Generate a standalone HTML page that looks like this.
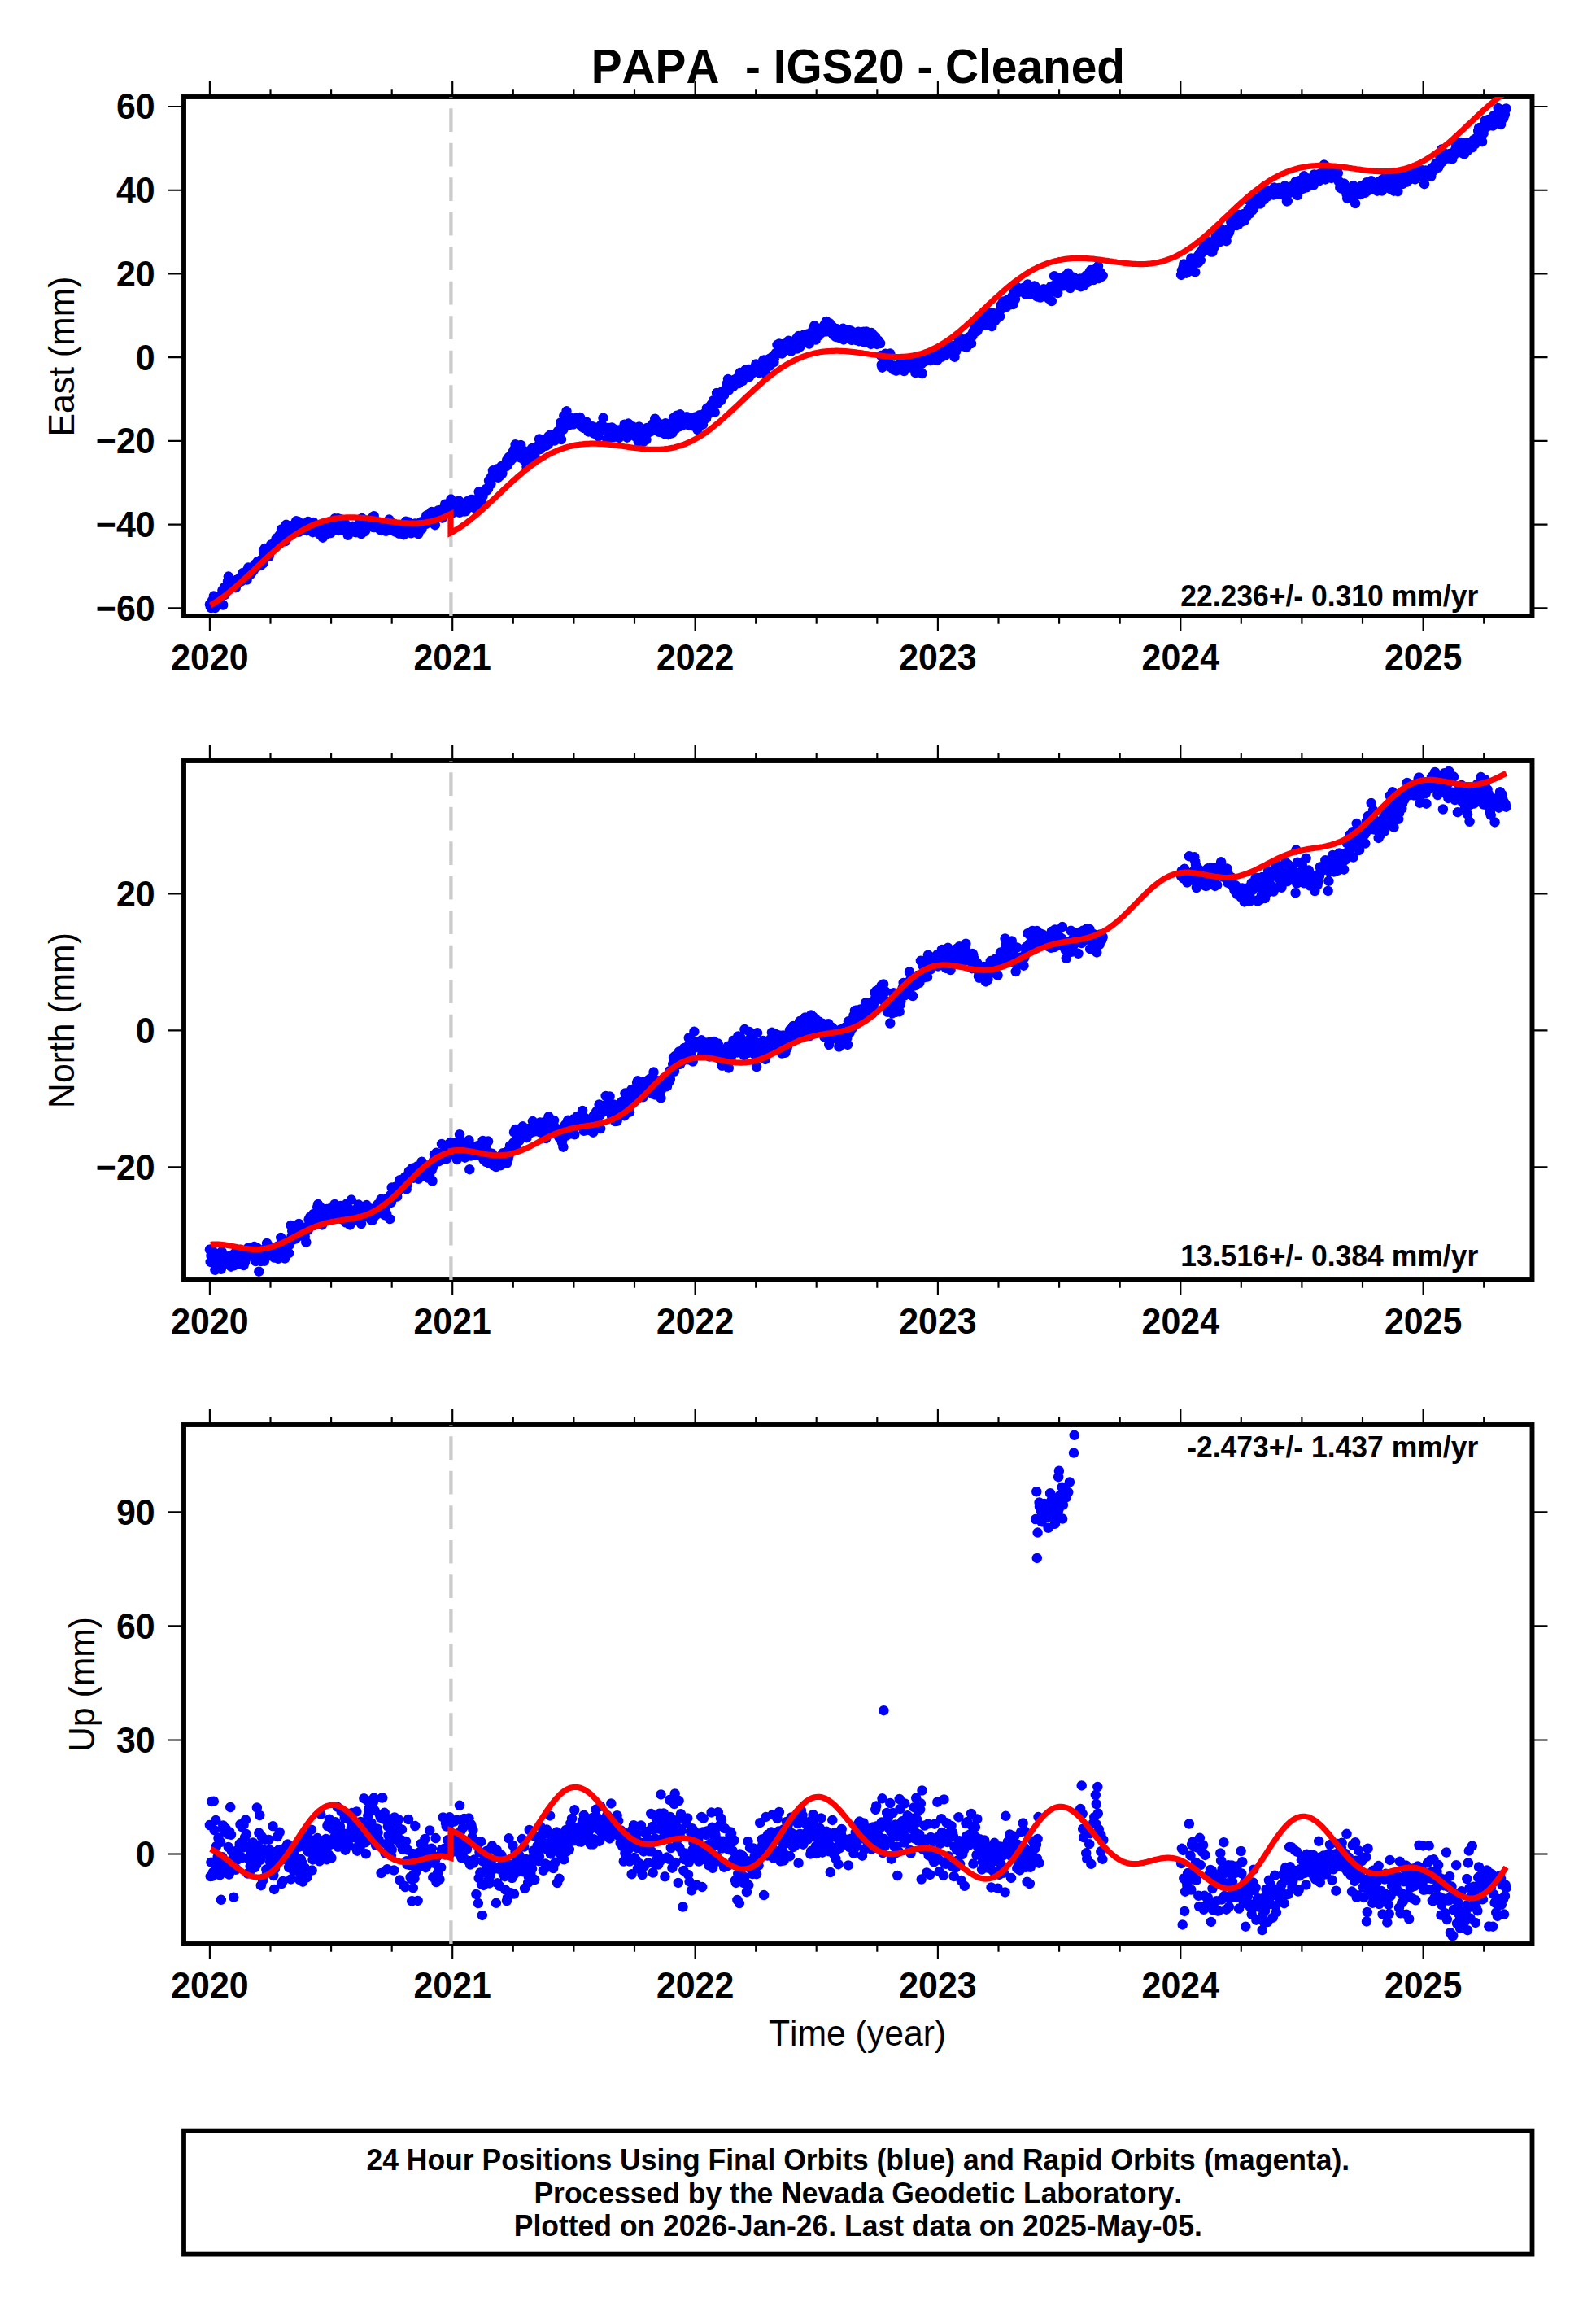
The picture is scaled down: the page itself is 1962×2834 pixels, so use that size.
<!DOCTYPE html>
<html lang="en"><head><meta charset="utf-8"><title>PAPA - IGS20 - Cleaned</title>
<style>html,body{margin:0;padding:0;background:#fff}svg{display:block}text{font-family:"Liberation Sans", sans-serif;fill:#000;font-kerning:none}.b{font-weight:bold}</style></head><body>
<svg width="1962" height="2834" viewBox="0 0 1962 2834">
<rect width="1962" height="2834" fill="#fff"/>
<clipPath id="c0"><rect x="226" y="119" width="1657.5" height="638"/></clipPath>
<rect x="226" y="119" width="1657.5" height="638" fill="none" stroke="#000" stroke-width="5.9"/>
<path d="M257.9 119v-19M257.9 757v19M332.5 119v-9.8M332.5 757v9.8M407.1 119v-9.8M407.1 757v9.8M481.7 119v-9.8M481.7 757v9.8M556.2 119v-19M556.2 757v19M630.8 119v-9.8M630.8 757v9.8M705.4 119v-9.8M705.4 757v9.8M780 119v-9.8M780 757v9.8M854.6 119v-19M854.6 757v19M929.2 119v-9.8M929.2 757v9.8M1003.7 119v-9.8M1003.7 757v9.8M1078.3 119v-9.8M1078.3 757v9.8M1152.9 119v-19M1152.9 757v19M1227.5 119v-9.8M1227.5 757v9.8M1302.1 119v-9.8M1302.1 757v9.8M1376.7 119v-9.8M1376.7 757v9.8M1451.3 119v-19M1451.3 757v19M1525.8 119v-9.8M1525.8 757v9.8M1600.4 119v-9.8M1600.4 757v9.8M1675 119v-9.8M1675 757v9.8M1749.6 119v-19M1749.6 757v19M1824.2 119v-9.8M1824.2 757v9.8M226 747.3h-19M1883.5 747.3h19M226 644.6h-19M1883.5 644.6h19M226 541.9h-19M1883.5 541.9h19M226 439.1h-19M1883.5 439.1h19M226 336.4h-19M1883.5 336.4h19M226 233.7h-19M1883.5 233.7h19M226 131h-19M1883.5 131h19" stroke="#000" stroke-width="2.15" fill="none"/>
<text class="b" font-size="42.9" text-anchor="middle" transform="translate(257.9 822.8) scale(1 1.045)">2020</text>
<text class="b" font-size="42.9" text-anchor="middle" transform="translate(556.2 822.8) scale(1 1.045)">2021</text>
<text class="b" font-size="42.9" text-anchor="middle" transform="translate(854.6 822.8) scale(1 1.045)">2022</text>
<text class="b" font-size="42.9" text-anchor="middle" transform="translate(1152.9 822.8) scale(1 1.045)">2023</text>
<text class="b" font-size="42.9" text-anchor="middle" transform="translate(1451.3 822.8) scale(1 1.045)">2024</text>
<text class="b" font-size="42.9" text-anchor="middle" transform="translate(1749.6 822.8) scale(1 1.045)">2025</text>
<text class="b" font-size="42.9" text-anchor="end" transform="translate(190.6 762.7) scale(1 1.045)">−60</text>
<text class="b" font-size="42.9" text-anchor="end" transform="translate(190.6 660) scale(1 1.045)">−40</text>
<text class="b" font-size="42.9" text-anchor="end" transform="translate(190.6 557.3) scale(1 1.045)">−20</text>
<text class="b" font-size="42.9" text-anchor="end" transform="translate(190.6 454.5) scale(1 1.045)">0</text>
<text class="b" font-size="42.9" text-anchor="end" transform="translate(190.6 351.8) scale(1 1.045)">20</text>
<text class="b" font-size="42.9" text-anchor="end" transform="translate(190.6 249.1) scale(1 1.045)">40</text>
<text class="b" font-size="42.9" text-anchor="end" transform="translate(190.6 146.4) scale(1 1.045)">60</text>
<text font-size="42.7" text-anchor="middle" transform="translate(90.5 438) rotate(-90) scale(1 1.04)">East (mm)</text>
<g clip-path="url(#c0)">
<path d="M554.4 757 V119" stroke="#cbcbcb" stroke-width="4.3" stroke-dasharray="28.8 13.7" fill="none"/>
<path d="M257.9 742.7h0M258.7 745.5h0M259.5 747h0M260.4 745.2h0M261.2 738h0M262 742.2h0M262.8 732.6h0M263.6 741.8h0M264.4 747h0M265.3 737.7h0M266.1 738.5h0M266.9 736.1h0M267.7 738.9h0M268.5 733.3h0M269.3 736.4h0M270.2 732.7h0M271 732.3h0M271.8 733.3h0M272.6 732h0M273.4 725.6h0M274.2 743.5h0M275.1 728.8h0M275.9 721.9h0M276.7 730.9h0M277.5 724.4h0M278.3 724.1h0M279.1 725.2h0M280 714.5h0M280.8 708.6h0M281.6 719.1h0M282.4 722.5h0M283.2 723.2h0M284 715.6h0M284.9 717.5h0M285.7 720.3h0M286.5 716.9h0M287.3 717.2h0M288.1 719.6h0M288.9 714.1h0M289.8 722.2h0M290.6 712.8h0M291.4 715.9h0M292.2 715h0M293 711.7h0M293.8 715h0M294.7 715.4h0M295.5 714.9h0M296.3 714.6h0M297.1 707.9h0M297.9 711.5h0M298.7 704h0M299.6 709.7h0M300.4 711.4h0M301.2 711.2h0M302 704.8h0M303.6 712.6h0M304.5 704.2h0M305.3 697.4h0M306.1 698.4h0M307.7 706.2h0M308.5 700.5h0M309.4 704h0M310.2 699.9h0M311 699.1h0M311.8 700.8h0M312.6 694.8h0M313.4 696.9h0M314.3 693h0M315.1 692.3h0M315.9 696.7h0M316.7 690.1h0M317.5 693h0M318.3 690h0M319.2 693.2h0M320 688.8h0M320.8 694.6h0M321.6 690.1h0M322.4 688.9h0M323.2 692.6h0M324.1 676.1h0M324.9 680.3h0M325.7 673.9h0M326.5 684.1h0M327.3 683h0M328.1 682.4h0M329 678.7h0M329.8 673.8h0M330.6 684h0M331.4 679.5h0M332.2 674.4h0M333 669.6h0M333.9 675h0M334.7 672.1h0M335.5 671.4h0M336.3 671.8h0M337.1 671h0M337.9 666h0M338.8 672.3h0M339.6 662.2h0M340.4 661.1h0M341.2 665.4h0M342 663.5h0M342.8 661.9h0M343.7 657.7h0M344.5 657.9h0M345.3 655.8h0M346.1 650.5h0M346.9 656.8h0M347.7 650.7h0M348.6 653h0M349.4 657.4h0M350.2 653.5h0M351 665.2h0M351.8 644.8h0M352.7 648.4h0M353.5 653.7h0M354.3 657.1h0M355.1 650.3h0M355.9 646.2h0M356.7 654.6h0M357.6 646.5h0M358.4 648.7h0M359.2 652.7h0M360 647.9h0M360.8 648.5h0M362.5 649.4h0M363.3 651.2h0M364.1 640.3h0M364.9 646h0M365.7 643.3h0M366.5 641h0M367.4 653.8h0M368.2 649.5h0M369 652.4h0M369.8 646h0M370.6 650.2h0M371.4 649h0M372.3 643.6h0M373.1 649.9h0M373.9 644.6h0M374.7 645.3h0M376.3 649.3h0M377.2 652.2h0M378 647.4h0M378.8 641h0M379.6 642.7h0M380.4 649.8h0M381.2 645.6h0M382.1 648.4h0M382.9 647.4h0M383.7 642.3h0M384.5 654.2h0M385.3 642h0M386.1 652.9h0M387 652.6h0M387.8 645.8h0M388.6 653.1h0M389.4 654h0M390.2 652.6h0M391 649.6h0M391.9 654.2h0M392.7 656.6h0M393.5 651.6h0M394.3 656.9h0M395.1 653h0M395.9 652.8h0M396.8 660.7h0M397.6 647.8h0M398.4 649.1h0M399.2 653.2h0M400 655.8h0M400.8 657.1h0M401.7 655h0M402.5 650.9h0M403.3 650.2h0M404.1 648.5h0M404.9 647.8h0M405.7 647.7h0M406.6 655h0M407.4 646.6h0M408.2 645.9h0M409 646.8h0M409.8 644h0M410.6 644.3h0M411.5 637.3h0M412.3 645.9h0M413.1 642.3h0M413.9 643.2h0M414.7 645.2h0M415.5 637.2h0M416.4 652h0M417.2 644.2h0M418 643.2h0M418.8 638.2h0M419.6 645.9h0M420.4 646h0M421.3 644.1h0M422.1 645.3h0M422.9 649.8h0M423.7 644.2h0M424.5 643.8h0M425.3 652.5h0M426.2 649.7h0M427 648.3h0M427.8 657.8h0M428.6 649.8h0M429.4 649.3h0M430.2 650h0M431.1 648.4h0M431.9 650.3h0M433.5 646.7h0M434.3 649.9h0M435.1 653h0M436 652.7h0M436.8 654.1h0M437.6 654.3h0M438.4 652.3h0M439.2 653.4h0M440 647.9h0M440.9 648.4h0M441.7 652h0M442.5 640.1h0M443.3 647.3h0M444.1 656.2h0M444.9 637h0M445.8 650.4h0M446.6 640.1h0M447.4 647.7h0M448.2 653.3h0M449 652.3h0M449.9 641.4h0M450.7 640.1h0M451.5 639.9h0M452.3 647.3h0M453.1 643.4h0M453.9 645.3h0M454.8 646.5h0M455.6 644.2h0M456.4 644.4h0M457.2 642.7h0M458 635.9h0M458.8 648.1h0M459.7 634.2h0M460.5 648.1h0M461.3 641.8h0M462.1 643.2h0M462.9 642.9h0M463.7 644h0M464.6 644.4h0M465.4 643.9h0M466.2 642.8h0M467 650.5h0M467.8 644.4h0M468.6 651.9h0M469.5 647.5h0M470.3 645.5h0M471.1 649h0M471.9 652h0M472.7 643.9h0M473.5 646.6h0M474.4 652.8h0M475.2 642.7h0M476 644.5h0M476.8 648.6h0M477.6 642.4h0M478.4 638.6h0M479.3 641.3h0M480.1 647.1h0M480.9 650.9h0M481.7 648.4h0M482.5 650.5h0M483.3 643.2h0M484.2 650.5h0M485 653.1h0M485.8 646.3h0M486.6 653.8h0M487.4 647.8h0M488.2 651.8h0M489.1 653.1h0M489.9 645.4h0M490.7 655.8h0M491.5 649.1h0M492.3 652.3h0M493.1 650.7h0M494 654.8h0M494.8 654.4h0M495.6 653h0M496.4 657.2h0M497.2 653h0M498 648.7h0M498.9 640.8h0M499.7 649.6h0M500.5 647.9h0M501.3 645.5h0M502.1 641.6h0M502.9 650.6h0M503.8 651.1h0M504.6 654.7h0M505.4 655.3h0M506.2 646.9h0M507 650.5h0M507.8 644h0M508.7 651.6h0M509.5 650h0M510.3 643.4h0M511.1 645.3h0M511.9 644.3h0M512.7 644h0M513.6 655.7h0M514.4 656h0M515.2 649.8h0M516 649.1h0M516.8 644.2h0M517.6 641.6h0M518.5 650.2h0M519.3 641h0M520.1 643.2h0M520.9 639.8h0M521.7 642h0M522.5 641.5h0M523.4 644.2h0M524.2 633.7h0M525 637.1h0M525.8 641h0M526.6 632.4h0M527.4 633.2h0M528.3 642.2h0M529.1 639h0M529.9 641.7h0M530.7 629h0M531.5 637.9h0M532.3 631.5h0M533.2 631.7h0M534 638.2h0M534.8 645.2h0M535.6 630.6h0M536.4 631.5h0M537.2 632.6h0M538.1 632.8h0M538.9 627.2h0M540.5 630h0M541.3 627.1h0M542.2 626.6h0M543 636.4h0M543.8 636.5h0M544.6 626.3h0M545.4 629.1h0M546.2 629.4h0M547.1 619.7h0M547.9 622h0M548.7 630.2h0M549.5 623.8h0M550.3 625.3h0M551.1 619.9h0M552 619.2h0M552.8 625.3h0M553.6 619.9h0M554.4 613.6h0M555.2 621.6h0M556 630.7h0M556.9 623.5h0M558.5 623.8h0M559.3 627.4h0M560.1 625.4h0M560.9 617.7h0M561.8 626h0M562.6 624.2h0M563.4 629h0M564.2 615.6h0M565 629.8h0M565.8 623.2h0M566.7 620.2h0M568.3 624.7h0M569.1 627.9h0M569.9 624.9h0M570.7 628.5h0M571.6 628.3h0M572.4 628.3h0M573.2 627.1h0M574 616.9h0M574.8 615.9h0M575.6 622.6h0M576.5 619.7h0M577.3 622.2h0M578.1 621.1h0M578.9 614.1h0M579.7 615.4h0M580.5 614h0M581.4 614.8h0M582.2 618.2h0M583 624.1h0M583.8 623.2h0M584.6 614.2h0M585.4 614.2h0M586.3 621.9h0M587.1 618.5h0M587.9 614.5h0M588.7 604.3h0M589.5 608.4h0M590.3 612.6h0M591.2 608.5h0M592 616.2h0M592.8 609.3h0M593.6 609.6h0M594.4 604.2h0M595.2 603.4h0M596.1 603.1h0M596.9 601.3h0M597.7 601h0M598.5 602.7h0M599.3 600.8h0M600.1 600.7h0M601 590.6h0M601.8 593.6h0M602.6 592.5h0M603.4 595h0M604.2 585.8h0M605 586.8h0M605.9 578.3h0M606.7 584.3h0M608.3 582.2h0M609.1 580.7h0M609.9 583.3h0M610.8 584h0M611.6 576.3h0M612.4 586.8h0M613.2 576.4h0M614 585.3h0M614.8 583.4h0M615.7 574.8h0M616.5 572.9h0M617.3 582h0M618.1 574.2h0M618.9 574.2h0M621.4 571h0M622.2 573.3h0M623 565.7h0M623.8 572h0M624.6 568.2h0M625.5 561.8h0M626.3 567.8h0M627.1 562.2h0M627.9 566h0M628.7 561.7h0M629.5 564.2h0M630.4 555.6h0M631.2 562.6h0M632 552.7h0M632.8 558.2h0M633.6 546.3h0M634.4 557.1h0M635.3 559.8h0M636.1 558.1h0M636.9 559.5h0M637.7 548h0M638.5 559.6h0M639.4 562.4h0M640.2 546.9h0M641 555.3h0M641.8 557.8h0M642.6 559.2h0M643.4 561.9h0M644.3 554.2h0M645.1 566.6h0M645.9 564.2h0M646.7 558.5h0M647.5 573.7h0M648.3 564.2h0M649.2 569.8h0M650 565.4h0M650.8 562.3h0M651.6 566.5h0M652.4 562.3h0M653.2 556.6h0M654.1 550.9h0M654.9 554.6h0M655.7 557.1h0M656.5 554.4h0M657.3 560.4h0M658.1 555.7h0M659 553.1h0M659.8 552.9h0M660.6 548.6h0M661.4 550.9h0M662.2 547.7h0M663 539.6h0M663.9 542.4h0M664.7 551.9h0M665.5 546.5h0M666.3 547.4h0M667.1 540.7h0M667.9 542.5h0M668.8 546.4h0M669.6 543.8h0M670.4 541.4h0M671.2 547.8h0M672 542.2h0M672.8 541.3h0M673.7 546.4h0M674.5 536.1h0M675.3 543.6h0M676.1 536.7h0M676.9 534.2h0M677.7 537.3h0M678.6 540.4h0M679.4 538.4h0M680.2 539.8h0M681 538.9h0M681.8 541.6h0M682.6 540.7h0M683.5 536.8h0M684.3 537.2h0M685.1 533h0M685.9 529.9h0M686.7 533.5h0M687.5 529.7h0M688.4 531.2h0M689.2 519.5h0M690 540.1h0M690.8 521h0M691.6 524.8h0M692.4 527.8h0M693.3 511.1h0M694.1 518.4h0M694.9 511.2h0M695.7 513.5h0M696.5 505.3h0M697.3 519.5h0M698.2 520.8h0M699 516.7h0M699.8 521.7h0M700.6 522h0M701.4 515.2h0M702.2 513.7h0M703.1 514.3h0M703.9 514.4h0M704.7 521.5h0M706.3 514.3h0M707.1 515.2h0M708 517.1h0M708.8 513.4h0M709.6 516.8h0M710.4 514.7h0M711.2 520.3h0M712 520.7h0M712.9 512.9h0M713.7 519.1h0M714.5 523.5h0M715.3 520.8h0M716.1 525h0M716.9 525.1h0M717.8 526h0M718.6 523.9h0M719.4 525.4h0M720.2 526.5h0M721 518.7h0M721.8 520.9h0M723.5 530.6h0M724.3 527.4h0M725.1 527.7h0M725.9 528.4h0M726.7 526.1h0M727.6 524.2h0M728.4 529.9h0M729.2 524.6h0M730 532.7h0M730.8 526.6h0M731.7 527.7h0M732.5 527.2h0M733.3 525.8h0M734.1 527.1h0M734.9 534.2h0M735.7 536.4h0M737.4 527.8h0M738.2 529.9h0M739 522.4h0M739.8 524.1h0M740.6 523.1h0M741.5 513.7h0M742.3 525.9h0M743.1 526h0M743.9 525.4h0M744.7 527.1h0M745.5 527.9h0M746.4 540.4h0M747.2 529h0M748 532.2h0M748.8 525.9h0M749.6 531.2h0M750.4 527.5h0M751.3 526.7h0M752.1 525.5h0M752.9 527.6h0M753.7 531.1h0M754.5 537h0M755.3 532.4h0M756.2 527.8h0M757 532.7h0M758.6 534.8h0M759.4 532.3h0M760.2 534.2h0M761.1 537.9h0M761.9 528.3h0M762.7 533.3h0M763.5 529.1h0M764.3 531.5h0M765.1 528h0M766 529.5h0M766.8 533.5h0M767.6 521.7h0M768.4 526.3h0M769.2 526.3h0M770 528.6h0M770.9 537.7h0M771.7 527.1h0M772.5 520.6h0M773.3 526.2h0M774.1 523.1h0M774.9 527.9h0M775.8 530.9h0M776.6 527.2h0M777.4 526.1h0M778.2 524.6h0M779 533h0M779.8 529.9h0M780.7 536.4h0M781.5 536.7h0M782.3 530.3h0M783.1 534.7h0M783.9 536.3h0M784.7 542.4h0M785.6 524.5h0M786.4 535.6h0M787.2 541.3h0M788 533.4h0M788.8 535h0M789.6 537.1h0M790.5 533.4h0M791.3 542.7h0M792.1 541.4h0M792.9 538.4h0M793.7 536.5h0M794.5 540.3h0M795.4 526h0M796.2 532.4h0M797 528.6h0M797.8 528.8h0M798.6 525.7h0M799.4 525.4h0M800.3 530.2h0M801.1 524.4h0M801.9 523.1h0M802.7 520.9h0M803.5 523.1h0M804.3 522h0M805.2 514.7h0M806 520.8h0M806.8 523.2h0M807.6 526.5h0M808.4 529.6h0M809.2 519.8h0M810.1 530.8h0M810.9 524.4h0M811.7 527.2h0M812.5 522.9h0M813.3 524.7h0M814.1 531.7h0M815 523.6h0M815.8 525.9h0M816.6 531.9h0M817.4 533.3h0M818.2 520.2h0M819 524.7h0M819.9 524.4h0M820.7 530.6h0M821.5 534.2h0M822.3 524.9h0M823.1 526.2h0M823.9 527.9h0M824.8 528.4h0M826.4 532.2h0M827.2 521.4h0M828 513.7h0M828.9 520.2h0M829.7 525.8h0M830.5 527h0M831.3 517.1h0M832.1 510.7h0M832.9 522.7h0M833.8 510.4h0M834.6 523.5h0M835.4 524.2h0M836.2 509.3h0M837 522.5h0M837.8 517.8h0M838.7 522.9h0M839.5 517.8h0M840.3 516.8h0M841.1 517.1h0M841.9 519.3h0M842.7 518.2h0M843.6 516.7h0M844.4 512.3h0M845.2 520.2h0M846 517.7h0M846.8 522.5h0M847.6 515.7h0M848.5 515.6h0M849.3 514.1h0M850.1 518.6h0M850.9 515.9h0M851.7 515h0M852.5 522.1h0M853.4 523.8h0M854.2 515.4h0M855 512.4h0M855.8 519.7h0M856.6 514h0M857.4 528.1h0M858.3 515h0M859.1 519h0M859.9 510.3h0M860.7 514.6h0M861.5 518.1h0M862.3 514.3h0M863.2 511.5h0M864 521.7h0M864.8 515.1h0M865.6 511h0M866.4 508h0M867.2 508.9h0M868.1 514.2h0M868.9 501.8h0M869.7 505.5h0M870.5 500.9h0M871.3 508.5h0M872.1 502.2h0M873 505.1h0M873.8 502.5h0M874.6 496.9h0M875.4 504.4h0M876.2 498.9h0M877 492.2h0M877.9 497.5h0M878.7 506.7h0M879.5 493.2h0M880.3 496.1h0M881.1 482.9h0M881.9 496h0M882.8 487.2h0M883.6 491.7h0M884.4 489.2h0M885.2 483.4h0M886 492.4h0M886.8 485.6h0M887.7 481.2h0M888.5 485h0M889.3 480.5h0M890.1 485.4h0M890.9 482.2h0M891.7 478.4h0M892.6 480.7h0M893.4 471.9h0M894.2 478.8h0M895 466h0M895.8 479.5h0M896.6 473.2h0M897.5 469.3h0M898.3 469.8h0M899.1 473.2h0M899.9 469h0M900.7 469.7h0M901.5 474.8h0M902.4 467.6h0M903.2 466.4h0M904 467.4h0M904.8 470.5h0M905.6 465.1h0M906.4 466.3h0M907.3 464h0M908.1 471.2h0M908.9 468h0M909.7 458.1h0M910.5 459.2h0M911.3 461.2h0M912.2 464.6h0M913 468h0M913.8 461.6h0M914.6 462.7h0M915.4 463.6h0M916.2 454.8h0M917.1 455h0M917.9 454.8h0M918.7 455.7h0M919.5 456.2h0M920.3 454h0M921.2 463h0M922 454h0M922.8 454.7h0M923.6 460h0M924.4 458.5h0M925.2 456.5h0M926.1 456.8h0M926.9 455.5h0M927.7 452.6h0M928.5 456.5h0M929.3 447.6h0M930.1 454.1h0M931 448.4h0M931.8 451.3h0M932.6 450.4h0M933.4 458.4h0M934.2 449.9h0M935 453.6h0M935.9 447.6h0M936.7 448.5h0M937.5 447.8h0M938.3 442.8h0M939.1 456.6h0M939.9 442.5h0M940.8 450.7h0M941.6 459.9h0M942.4 446.1h0M943.2 449.2h0M944 444h0M944.8 448.4h0M945.7 441.1h0M946.5 449.7h0M947.3 445.9h0M948.1 439.7h0M948.9 440.8h0M949.7 438.5h0M950.6 440.9h0M951.4 445.2h0M952.2 439.2h0M953.8 433.9h0M954.6 435h0M955.5 423.8h0M956.3 434.6h0M957.1 432.5h0M957.9 422.4h0M958.7 434h0M959.5 423.2h0M960.4 428.6h0M961.2 434.6h0M962 424.2h0M962.8 422.9h0M963.6 424.9h0M964.4 424.4h0M965.3 428.4h0M966.1 425.7h0M967.7 425h0M968.5 425.8h0M969.3 418.8h0M970.2 428.3h0M971 425.6h0M971.8 421.4h0M972.6 431.7h0M973.4 419.9h0M974.2 427.2h0M975.1 421.3h0M975.9 425.6h0M976.7 424h0M977.5 424.6h0M978.3 425h0M979.1 416.2h0M980 428.5h0M980.8 418h0M981.6 413.1h0M983.2 426.3h0M984 423.5h0M984.9 418.2h0M985.7 419.6h0M986.5 419.3h0M987.3 414h0M988.1 411.6h0M988.9 414h0M989.8 419h0M990.6 414.1h0M991.4 411.4h0M992.2 419.7h0M993 410.4h0M993.8 413.6h0M994.7 422.7h0M995.5 418h0M996.3 416.6h0M997.1 415.4h0M997.9 416.8h0M998.7 412.5h0M999.6 404.6h0M1000.4 412.7h0M1001.2 400.3h0M1002 402.8h0M1002.8 417.5h0M1003.6 414.2h0M1004.5 409.2h0M1005.3 408.9h0M1006.1 409.8h0M1006.9 412.3h0M1007.7 405.6h0M1008.5 404.5h0M1009.4 403.4h0M1010.2 405.4h0M1011 406.3h0M1011.8 404.7h0M1012.6 407.8h0M1013.4 399.3h0M1014.3 402.4h0M1015.1 400.4h0M1015.9 394.9h0M1016.7 407.2h0M1017.5 402.6h0M1018.4 401.3h0M1019.2 406.2h0M1020 397.3h0M1020.8 407.7h0M1021.6 408.7h0M1022.4 408.1h0M1023.3 401.4h0M1024.1 405h0M1024.9 412.2h0M1025.7 405.9h0M1026.5 412.2h0M1027.3 413.9h0M1028.2 404h0M1029 414.1h0M1029.8 410.9h0M1030.6 410.9h0M1031.4 414.9h0M1032.2 409.5h0M1033.1 408.1h0M1033.9 410.5h0M1034.7 408.3h0M1035.5 415.1h0M1036.3 403.8h0M1037.1 417.4h0M1038 409.5h0M1038.8 413.7h0M1040.4 412.7h0M1041.2 412.8h0M1042 411.6h0M1042.9 406.1h0M1043.7 409.7h0M1044.5 416.5h0M1045.3 406.6h0M1046.1 406.6h0M1046.9 417.9h0M1047.8 413.9h0M1048.6 413.8h0M1049.4 410.6h0M1050.2 411.9h0M1051 414.4h0M1051.8 417.9h0M1052.7 412.8h0M1053.5 408.5h0M1054.3 410.2h0M1055.1 407.8h0M1055.9 419.2h0M1056.7 412.5h0M1057.6 413.7h0M1058.4 414.3h0M1059.2 411.8h0M1060 413.3h0M1060.8 410.2h0M1061.6 407.7h0M1062.5 420.7h0M1064.1 408.7h0M1064.9 407.6h0M1065.7 409h0M1066.5 411.2h0M1067.4 415h0M1068.2 408.8h0M1069 413.3h0M1069.8 409.5h0M1070.6 422.9h0M1071.4 409.1h0M1072.3 414.7h0M1073.1 419.8h0M1073.9 412.2h0M1074.7 418.2h0M1075.5 417.7h0M1076.3 414.3h0M1077.2 417.4h0M1078 422.9h0M1078.8 420.3h0M1079.6 418.5h0M1080.4 419.6h0M1081.2 420.6h0M1082.1 422h0M1082.9 436.9h0M1083.7 448.4h0M1084.5 451.7h0M1085.3 438.6h0M1086.1 438.2h0M1087 436.8h0M1087.8 446h0M1088.6 434.7h0M1089.4 444.4h0M1090.2 447.9h0M1091 441h0M1091.9 443.9h0M1092.7 446.8h0M1093.5 450.7h0M1094.3 434.6h0M1095.1 448.6h0M1095.9 451.6h0M1096.8 449.6h0M1097.6 450.8h0M1098.4 454.4h0M1099.2 449.5h0M1100 450.2h0M1100.8 450.6h0M1101.7 455.7h0M1102.5 451.6h0M1104.1 450.7h0M1104.9 454.5h0M1105.7 447.8h0M1106.6 451.3h0M1107.4 450.7h0M1108.2 451h0M1109 453.6h0M1109.8 450.8h0M1110.7 452.5h0M1111.5 456.1h0M1112.3 452.4h0M1113.1 445.4h0M1113.9 444h0M1114.7 450.9h0M1115.6 447.3h0M1116.4 450.7h0M1117.2 445.6h0M1118 451.5h0M1118.8 450.7h0M1119.6 442.8h0M1120.5 447.5h0M1121.3 445h0M1122.1 441.2h0M1122.9 448.1h0M1123.7 443.8h0M1124.5 444.6h0M1125.4 458.2h0M1126.2 447.7h0M1127 446.4h0M1127.8 441.3h0M1128.6 438.6h0M1129.4 447.8h0M1130.3 442.5h0M1131.1 444.8h0M1131.9 443.2h0M1132.7 447.4h0M1133.5 459h0M1134.3 444h0M1135.2 443.3h0M1136 444.2h0M1136.8 444.4h0M1137.6 440h0M1138.4 436.7h0M1139.2 440.1h0M1140.1 441.9h0M1140.9 439.9h0M1141.7 440.7h0M1142.5 441.3h0M1143.3 442.9h0M1144.1 442.9h0M1145 437h0M1145.8 440.2h0M1146.6 441.7h0M1147.4 438.9h0M1149 437.6h0M1149.9 438.1h0M1150.7 442.4h0M1151.5 433.8h0M1152.3 442.7h0M1153.1 437.4h0M1153.9 438.4h0M1154.8 439.5h0M1155.6 433.6h0M1156.4 433.1h0M1157.2 435h0M1158 438.7h0M1158.8 433.8h0M1159.7 429.1h0M1160.5 427.8h0M1161.3 434h0M1162.1 436.7h0M1162.9 429.1h0M1163.7 429.4h0M1164.6 430.4h0M1165.4 430.2h0M1166.2 426.1h0M1167 427.1h0M1167.8 429.4h0M1169.5 429.3h0M1170.3 424.9h0M1171.9 425.2h0M1172.7 431.4h0M1173.5 438.8h0M1174.4 428.4h0M1175.2 431.4h0M1176 423.7h0M1176.8 423.5h0M1177.6 414.5h0M1178.4 426.2h0M1179.3 419.3h0M1180.1 420.7h0M1180.9 422.1h0M1181.7 420.2h0M1182.5 417.1h0M1183.3 422.8h0M1184.2 423.1h0M1185 423.8h0M1185.8 425.9h0M1186.6 420.2h0M1187.4 419.8h0M1188.2 426.7h0M1189.1 422.8h0M1189.9 418.1h0M1190.7 414.5h0M1191.5 414.9h0M1192.3 416.9h0M1193.1 417.4h0M1194 422.2h0M1194.8 411.1h0M1195.6 412.6h0M1196.4 407.3h0M1197.2 407.8h0M1198 401.9h0M1198.9 400h0M1199.7 407.5h0M1201.3 406.9h0M1202.1 399.7h0M1202.9 403.2h0M1203.8 402.7h0M1204.6 393.5h0M1205.4 393.1h0M1206.2 399.8h0M1207 397.2h0M1207.9 389h0M1210.3 392.6h0M1211.1 399.6h0M1211.9 391.2h0M1213.6 389.9h0M1214.4 384.2h0M1215.2 396.8h0M1216 397.5h0M1216.8 396.4h0M1217.7 397.6h0M1218.5 395.7h0M1219.3 401.2h0M1220.1 384.7h0M1220.9 387.8h0M1221.7 394.2h0M1222.6 391.6h0M1223.4 394h0M1224.2 388h0M1225 391.3h0M1225.8 391h0M1226.6 384.7h0M1227.5 385.5h0M1228.3 383.9h0M1229.1 388.8h0M1229.9 380.9h0M1230.7 374.9h0M1231.5 378.8h0M1232.4 378.5h0M1233.2 370.4h0M1234 377.3h0M1234.8 374.9h0M1235.6 375.2h0M1236.4 371.6h0M1237.3 377.1h0M1238.1 374.2h0M1238.9 368.2h0M1239.7 371.7h0M1240.5 372.3h0M1241.3 374.6h0M1242.2 367.9h0M1243 366.7h0M1243.8 369.7h0M1244.6 363.9h0M1245.4 374h0M1246.2 361.4h0M1247.1 358.2h0M1247.9 367.8h0M1248.7 360.6h0M1249.5 352.3h0M1250.3 360h0M1251.1 356.9h0M1252 358.7h0M1252.8 354.6h0M1253.6 356h0M1254.4 358.2h0M1255.2 358.2h0M1256 354.5h0M1256.9 356.6h0M1257.7 355.8h0M1258.5 358.2h0M1259.3 357h0M1260.1 352.8h0M1260.9 361.5h0M1261.8 353.2h0M1262.6 358.3h0M1263.4 349.4h0M1264.2 355.9h0M1265 354.7h0M1265.8 358.3h0M1266.7 361.6h0M1267.5 360.7h0M1268.3 359.7h0M1269.1 360.2h0M1269.9 355.9h0M1270.7 360.2h0M1271.6 351.4h0M1272.4 351.9h0M1273.2 359.5h0M1274 358.5h0M1274.8 364.4h0M1275.6 361.8h0M1276.5 363.5h0M1277.3 358.9h0M1278.1 362.5h0M1278.9 365.6h0M1279.7 363.1h0M1280.5 361.1h0M1281.4 360.6h0M1283 355.3h0M1283.8 356.6h0M1284.6 364.2h0M1285.4 361h0M1286.3 360.1h0M1287.1 363.4h0M1287.9 359.9h0M1288.7 364.2h0M1289.5 367.2h0M1290.3 360.4h0M1291.2 355.5h0M1292 351.9h0M1292.8 370.1h0M1293.6 355.5h0M1295.2 356.7h0M1296.1 339.2h0M1296.9 350.2h0M1297.7 351h0M1298.5 350.9h0M1299.3 348.5h0M1300.2 360.1h0M1301 349.6h0M1301.8 351.7h0M1302.6 349.3h0M1303.4 341.6h0M1304.2 345.1h0M1305.1 346.9h0M1305.9 351.5h0M1306.7 346.6h0M1307.5 348.9h0M1308.3 345.9h0M1309.1 351h0M1310 338.7h0M1310.8 349.6h0M1311.6 344.2h0M1312.4 344.2h0M1313.2 335.8h0M1314 343.3h0M1314.9 350.5h0M1315.7 354h0M1316.5 344.5h0M1317.3 344h0M1318.1 347.8h0M1318.9 346.3h0M1319.8 340.7h0M1320.6 342.4h0M1321.4 343.1h0M1322.2 346.5h0M1323 345.5h0M1323.8 349.7h0M1324.7 347h0M1325.5 347.3h0M1326.3 346.4h0M1327.9 342.5h0M1328.7 352.3h0M1329.6 346.7h0M1330.4 351h0M1331.2 343.9h0M1332 351h0M1332.8 347.8h0M1333.6 344.9h0M1334.5 341.6h0M1335.3 338.4h0M1336.1 347.7h0M1336.9 345.5h0M1337.7 340h0M1338.5 340.7h0M1339.4 337.1h0M1340.2 333.1h0M1341 332.1h0M1341.8 334.3h0M1342.6 336.5h0M1343.4 333.3h0M1344.3 344h0M1345.1 339.2h0M1345.9 337.8h0M1346.7 330.8h0M1347.5 335.2h0M1348.3 335h0M1349.2 331.6h0M1350 327.1h0M1350.8 342.2h0M1351.6 337.5h0M1352.4 334.4h0M1353.2 340.4h0M1354.1 340.2h0M1354.9 338.7h0M1355.7 338.8h0M1452.1 337.9h0M1452.9 332.3h0M1454.5 328.6h0M1455.3 324.4h0M1456.2 335.6h0M1457 330h0M1457.8 325.7h0M1458.6 335.7h0M1459.4 330.6h0M1460.2 330.9h0M1461.1 325h0M1461.9 333.4h0M1462.7 328.5h0M1463.5 321.7h0M1464.3 317.6h0M1465.1 318h0M1466 322.4h0M1466.8 325.6h0M1467.6 319.5h0M1469.2 334.4h0M1470 320.7h0M1470.9 318.1h0M1471.7 320.8h0M1472.5 314.8h0M1473.3 322.7h0M1474.1 319.1h0M1474.9 311.2h0M1475.8 319.9h0M1476.6 309.1h0M1477.4 310.9h0M1478.2 307.5h0M1479 306.2h0M1479.8 302.5h0M1480.7 307.8h0M1481.5 305.5h0M1483.1 296.2h0M1483.9 300.6h0M1484.7 302.2h0M1485.6 306.3h0M1486.4 304.9h0M1487.2 297.7h0M1488 305.2h0M1488.8 309.6h0M1489.7 303.3h0M1490.5 309.5h0M1491.3 302.2h0M1492.1 304.2h0M1492.9 295.7h0M1493.7 301.2h0M1494.6 291.2h0M1495.4 295.3h0M1496.2 293.7h0M1497 286.7h0M1497.8 289.3h0M1498.6 297.9h0M1499.5 295.4h0M1500.3 296.8h0M1501.1 292h0M1501.9 282.3h0M1502.7 293.5h0M1503.5 290.3h0M1504.4 289.6h0M1505.2 289.4h0M1506 285.9h0M1506.8 283.3h0M1507.6 296.2h0M1508.4 289.6h0M1509.3 282.2h0M1510.1 282h0M1510.9 286h0M1511.7 282.9h0M1512.5 280.3h0M1513.3 273.1h0M1514.2 275.4h0M1515 270.7h0M1515.8 266.6h0M1516.6 276h0M1517.4 270.2h0M1518.2 270h0M1519.1 267.3h0M1519.9 273.3h0M1520.7 276.9h0M1521.5 270.4h0M1522.3 276h0M1523.1 264h0M1524 268.5h0M1524.8 268.6h0M1525.6 273.1h0M1526.4 267.2h0M1527.2 264.6h0M1528 266.6h0M1528.9 263h0M1529.7 271.4h0M1530.5 267.4h0M1531.3 264.2h0M1532.9 265.5h0M1533.8 259.8h0M1534.6 257.4h0M1535.4 246.4h0M1536.2 262.6h0M1537.8 257.6h0M1538.7 254.8h0M1539.5 258.7h0M1540.3 248.1h0M1541.1 256.3h0M1541.9 244.2h0M1542.7 248.3h0M1543.6 245.5h0M1544.4 249.4h0M1545.2 247.1h0M1546 250.6h0M1546.8 246h0M1547.6 243h0M1548.5 249.9h0M1549.3 250.6h0M1550.1 248.4h0M1550.9 243.5h0M1551.7 245.1h0M1552.5 235.6h0M1553.4 240.3h0M1554.2 245h0M1555 243h0M1555.8 238.1h0M1556.6 241.9h0M1557.4 237.4h0M1558.3 241.3h0M1559.1 233.8h0M1559.9 235.1h0M1560.7 239h0M1561.5 237.8h0M1562.3 236.7h0M1563.2 234.3h0M1564 234.7h0M1564.8 238.3h0M1565.6 239.6h0M1566.4 230.6h0M1567.2 235.7h0M1568.1 236.9h0M1568.9 237.3h0M1570.5 232.1h0M1571.3 238.7h0M1572.1 230.9h0M1573 236.1h0M1573.8 236.5h0M1574.6 237.5h0M1575.4 234.7h0M1576.2 238h0M1577 239h0M1577.9 239.5h0M1578.7 233.1h0M1579.5 228.4h0M1580.3 238.1h0M1581.1 240.8h0M1581.9 247.4h0M1582.8 247.1h0M1583.6 235.5h0M1584.4 233h0M1585.2 236.9h0M1586 236.8h0M1586.9 234.5h0M1587.7 230.5h0M1588.5 232.8h0M1589.3 233.1h0M1590.1 227.3h0M1590.9 227.3h0M1591.8 235.4h0M1592.6 223.3h0M1593.4 230.4h0M1594.2 227.9h0M1595 240h0M1595.8 229.5h0M1596.7 222.2h0M1597.5 230.3h0M1598.3 223.3h0M1599.1 232.1h0M1599.9 230.7h0M1600.7 223.1h0M1601.6 231.9h0M1602.4 225h0M1603.2 216.2h0M1604 225.6h0M1604.8 222.6h0M1605.6 225.4h0M1606.5 230.3h0M1607.3 227.2h0M1608.1 224.9h0M1608.9 221.7h0M1609.7 222.6h0M1610.5 222.2h0M1611.4 220.8h0M1612.2 219.8h0M1613 227.8h0M1613.8 222.6h0M1614.6 227.7h0M1615.4 214.5h0M1616.3 219.3h0M1617.1 216.3h0M1617.9 217.3h0M1618.7 217.4h0M1619.5 218.1h0M1620.3 214.5h0M1621.2 222.5h0M1622 217.2h0M1622.8 213.5h0M1623.6 213.5h0M1624.4 217.9h0M1625.2 215.8h0M1626.1 211.4h0M1626.9 217.1h0M1627.7 202.6h0M1628.5 212.6h0M1629.3 220.4h0M1630.1 204.5h0M1631 213.7h0M1631.8 218.8h0M1632.6 214.9h0M1633.4 211.2h0M1634.2 214.5h0M1635 210.5h0M1635.9 212.7h0M1636.7 218.9h0M1637.5 215.7h0M1638.3 216.3h0M1639.1 215.2h0M1639.9 217.7h0M1640.8 209.8h0M1641.6 216.4h0M1642.4 216.8h0M1643.2 216.3h0M1644 211.1h0M1644.8 212.8h0M1645.7 223.1h0M1646.5 223.3h0M1647.3 230.5h0M1648.1 226.6h0M1648.9 231.7h0M1649.7 228.2h0M1650.6 225.5h0M1651.4 229.7h0M1652.2 225.4h0M1653 233.1h0M1653.8 232.1h0M1654.6 230.3h0M1655.5 238.5h0M1656.3 243.9h0M1657.1 238.2h0M1657.9 237.2h0M1658.7 241.2h0M1659.5 233.9h0M1660.4 230.2h0M1661.2 230.9h0M1662 239.8h0M1662.8 235.9h0M1663.6 228.2h0M1664.4 238.4h0M1665.3 235.3h0M1666.1 250.1h0M1666.9 239.8h0M1667.7 234h0M1669.3 231.3h0M1670.2 231h0M1671 231.9h0M1671.8 234.6h0M1672.6 238.9h0M1673.4 228.5h0M1674.2 234.5h0M1675.1 232.5h0M1675.9 230.6h0M1676.7 236h0M1677.5 230.9h0M1678.3 236.8h0M1679.2 231.6h0M1680 224.2h0M1680.8 234.8h0M1681.6 226.3h0M1682.4 226.2h0M1683.2 229.7h0M1684.1 230.2h0M1684.9 230h0M1685.7 222.3h0M1686.5 224.5h0M1687.3 230.9h0M1688.1 232.6h0M1689 225.9h0M1690.6 230.6h0M1691.4 233h0M1692.2 226.5h0M1693 234.7h0M1693.9 227.3h0M1694.7 231.7h0M1695.5 228.3h0M1696.3 222.6h0M1697.1 225.3h0M1697.9 226.5h0M1698.8 234.5h0M1699.6 220.3h0M1700.4 222.8h0M1701.2 225.6h0M1702 226.3h0M1702.8 218.1h0M1703.7 218h0M1704.5 228.6h0M1705.3 222h0M1706.1 228.2h0M1706.9 227.9h0M1707.7 224.4h0M1708.6 214.8h0M1709.4 232.4h0M1710.2 227.5h0M1711 228.5h0M1711.8 227h0M1712.6 216.9h0M1713.5 234.7h0M1714.3 223.8h0M1715.1 226.4h0M1715.9 222.3h0M1716.7 221.4h0M1717.5 219.1h0M1718.4 235.2h0M1719.2 224.2h0M1720 223h0M1720.8 212.7h0M1721.6 226h0M1722.4 223.5h0M1723.3 224.3h0M1724.1 226.1h0M1724.9 224.9h0M1725.7 222h0M1726.5 222.2h0M1727.3 220.4h0M1728.2 223.7h0M1729 223.8h0M1729.8 221.1h0M1730.6 215.6h0M1731.4 221h0M1732.2 221.1h0M1733.1 214.5h0M1733.9 219.2h0M1734.7 217.2h0M1735.5 210.4h0M1736.3 217.2h0M1737.1 218h0M1738 210.7h0M1738.8 209.4h0M1739.6 220.4h0M1740.4 208.5h0M1741.2 210.6h0M1742 212.8h0M1742.9 215h0M1743.7 217.3h0M1744.5 213.2h0M1745.3 213.4h0M1746.1 214.4h0M1746.9 211.1h0M1747.8 209.9h0M1748.6 209.3h0M1749.4 217.2h0M1750.2 214.5h0M1751 226.2h0M1752.7 209.6h0M1753.5 214.5h0M1754.3 215.2h0M1755.1 213.8h0M1755.9 213.5h0M1756.7 213h0M1757.6 211.2h0M1758.4 213.8h0M1759.2 216.8h0M1760 206.6h0M1760.8 206h0M1761.6 209.1h0M1762.5 209.7h0M1763.3 207.6h0M1764.1 207.3h0M1764.9 201.7h0M1765.7 200.6h0M1766.5 202.2h0M1767.4 202.2h0M1768.2 205.8h0M1769 203.7h0M1769.8 190.9h0M1770.6 201.1h0M1771.4 195h0M1772.3 183.6h0M1773.1 198.8h0M1773.9 195.8h0M1774.7 194h0M1775.5 191.6h0M1776.4 190.9h0M1778 189.2h0M1778.8 194.3h0M1779.6 193.7h0M1780.4 192.4h0M1781.3 194.6h0M1782.1 192.6h0M1782.9 188.8h0M1783.7 189.6h0M1784.5 192.7h0M1785.3 195.4h0M1786.2 191.1h0M1787 188.7h0M1787.8 190.1h0M1788.6 174.3h0M1789.4 183.3h0M1790.2 184.6h0M1791.1 185.3h0M1791.9 184h0M1792.7 182.4h0M1793.5 177.9h0M1794.3 180.1h0M1795.1 183.1h0M1796 175h0M1797.6 182.8h0M1798.4 188.6h0M1799.2 185.6h0M1800 189.4h0M1800.9 188h0M1801.7 178.9h0M1802.5 179.7h0M1803.3 175.1h0M1804.1 185.1h0M1804.9 180.9h0M1805.8 181.3h0M1806.6 180.7h0M1807.4 182.2h0M1808.2 178.3h0M1809 179h0M1809.8 181.3h0M1810.7 173h0M1811.5 172h0M1812.3 174.7h0M1813.1 177.4h0M1813.9 172.9h0M1814.7 169.8h0M1815.6 172.6h0M1816.4 170.4h0M1817.2 161h0M1818 157.5h0M1818.8 157.1h0M1819.6 164h0M1820.5 164.3h0M1821.3 167.9h0M1822.1 174.2h0M1822.9 162.4h0M1823.7 163.7h0M1824.5 158.8h0M1825.4 148.5h0M1826.2 155.9h0M1827 153.7h0M1827.8 154.8h0M1828.6 149h0M1829.4 147.1h0M1830.3 154.7h0M1831.9 151.7h0M1832.7 149.7h0M1833.5 148.4h0M1834.3 152h0M1835.2 154.6h0M1836 142.3h0M1837.6 145.2h0M1839.2 147.3h0M1840.1 140.1h0M1840.9 147.1h0M1841.7 132.9h0M1842.5 141.3h0M1843.3 140.9h0M1844.1 148h0M1845 152.9h0M1845.8 142.1h0M1846.6 142h0M1847.4 137.1h0M1848.2 145.3h0M1849 142.5h0M1849.9 140.4h0M1850.7 134.9h0M1851.5 133.5h0" stroke="#00f" stroke-width="12.5" stroke-linecap="round" fill="none"/>
<path d="M258.8 743.8 L261.3 742.4 L263.7 740.9 L266.2 739.3 L268.6 737.7 L271.1 736 L273.6 734.2 L276 732.4 L278.5 730.5 L280.9 728.6 L283.4 726.6 L285.9 724.5 L288.3 722.4 L290.8 720.3 L293.2 718.1 L295.7 715.9 L298.2 713.7 L300.6 711.4 L303.1 709.1 L305.5 706.8 L308 704.5 L310.5 702.2 L312.9 699.8 L315.4 697.5 L317.8 695.2 L320.3 692.8 L322.8 690.5 L325.2 688.2 L327.7 685.9 L330.1 683.7 L332.6 681.4 L335.1 679.2 L337.5 677 L340 674.9 L342.4 672.8 L344.9 670.8 L347.4 668.7 L349.8 666.8 L352.3 664.9 L354.7 663 L357.2 661.2 L359.7 659.5 L362.1 657.8 L364.6 656.2 L367 654.6 L369.5 653.1 L372 651.7 L374.4 650.3 L376.9 649 L379.3 647.7 L381.8 646.5 L384.3 645.4 L386.7 644.4 L389.2 643.4 L391.6 642.5 L394.1 641.6 L396.6 640.8 L399 640.1 L401.5 639.4 L403.9 638.8 L406.4 638.3 L408.9 637.8 L411.3 637.4 L413.8 637 L416.2 636.7 L418.7 636.4 L421.2 636.2 L423.6 636 L426.1 635.9 L428.5 635.8 L431 635.8 L433.5 635.8 L435.9 635.9 L438.4 636 L440.8 636.1 L443.3 636.3 L445.8 636.5 L448.2 636.7 L450.7 636.9 L453.1 637.2 L455.6 637.5 L458.1 637.8 L460.5 638.1 L463 638.5 L465.4 638.8 L467.9 639.2 L470.4 639.5 L472.8 639.9 L475.3 640.2 L477.7 640.6 L480.2 640.9 L482.7 641.3 L485.1 641.6 L487.6 641.9 L490 642.1 L492.5 642.4 L495 642.6 L497.4 642.8 L499.9 642.9 L502.3 643 L504.8 643.1 L507.3 643.1 L509.7 643.1 L512.2 643 L514.6 642.8 L517.1 642.7 L519.6 642.4 L522 642.1 L524.5 641.7 L526.9 641.3 L529.4 640.7 L531.9 640.2 L534.3 639.5 L536.8 638.8 L539.2 638 L541.7 637.1 L544.2 636.1 L546.6 635.1 L549.1 634 L551.5 632.8 L554 631.6 L554 654.8 L556.5 653.5 L558.9 652.1 L561.4 650.6 L563.8 649.1 L566.3 647.5 L568.7 645.8 L571.2 644.1 L573.6 642.3 L576.1 640.4 L578.5 638.5 L581 636.5 L583.4 634.5 L585.9 632.4 L588.3 630.3 L590.8 628.2 L593.3 626 L595.7 623.7 L598.2 621.5 L600.6 619.2 L603.1 616.9 L605.5 614.6 L608 612.3 L610.4 610 L612.9 607.6 L615.3 605.3 L617.8 603 L620.2 600.7 L622.7 598.4 L625.1 596.1 L627.6 593.8 L630 591.6 L632.5 589.4 L635 587.2 L637.4 585 L639.9 582.9 L642.3 580.9 L644.8 578.8 L647.2 576.9 L649.7 574.9 L652.1 573.1 L654.6 571.3 L657 569.5 L659.5 567.8 L661.9 566.1 L664.4 564.6 L666.8 563 L669.3 561.6 L671.7 560.2 L674.2 558.8 L676.7 557.6 L679.1 556.4 L681.6 555.2 L684 554.2 L686.5 553.1 L688.9 552.2 L691.4 551.3 L693.8 550.5 L696.3 549.7 L698.7 549.1 L701.2 548.4 L703.6 547.9 L706.1 547.3 L708.5 546.9 L711 546.5 L713.4 546.1 L715.9 545.9 L718.4 545.6 L720.8 545.4 L723.3 545.3 L725.7 545.2 L728.2 545.1 L730.6 545.1 L733.1 545.2 L735.5 545.3 L738 545.4 L740.4 545.5 L742.9 545.7 L745.3 545.9 L747.8 546.1 L750.2 546.4 L752.7 546.7 L755.1 547 L757.6 547.3 L760.1 547.6 L762.5 548 L765 548.3 L767.4 548.7 L769.9 549 L772.3 549.4 L774.8 549.7 L777.2 550.1 L779.7 550.4 L782.1 550.7 L784.6 551 L787 551.3 L789.5 551.6 L791.9 551.8 L794.4 552 L796.8 552.2 L799.3 552.3 L801.8 552.4 L804.2 552.4 L806.7 552.4 L809.1 552.4 L811.6 552.3 L814 552.1 L816.5 551.9 L818.9 551.6 L821.4 551.3 L823.8 550.9 L826.3 550.4 L828.7 549.9 L831.2 549.2 L833.6 548.6 L836.1 547.8 L838.5 547 L841 546.1 L843.5 545.1 L845.9 544 L848.4 542.9 L850.8 541.7 L853.3 540.4 L855.7 539.1 L858.2 537.7 L860.6 536.2 L863.1 534.6 L865.5 533 L868 531.3 L870.4 529.5 L872.9 527.7 L875.3 525.8 L877.8 523.8 L880.2 521.8 L882.7 519.8 L885.2 517.7 L887.6 515.6 L890.1 513.4 L892.5 511.2 L895 509 L897.4 506.7 L899.9 504.4 L902.3 502.1 L904.8 499.8 L907.2 497.5 L909.7 495.2 L912.1 492.8 L914.6 490.5 L917 488.2 L919.5 485.9 L922 483.6 L924.4 481.3 L926.9 479 L929.3 476.8 L931.8 474.6 L934.2 472.4 L936.7 470.3 L939.1 468.2 L941.6 466.2 L944 464.2 L946.5 462.2 L948.9 460.3 L951.4 458.5 L953.8 456.7 L956.3 454.9 L958.7 453.2 L961.2 451.6 L963.7 450.1 L966.1 448.6 L968.6 447.1 L971 445.8 L973.5 444.4 L975.9 443.2 L978.4 442 L980.8 440.9 L983.3 439.9 L985.7 438.9 L988.2 437.9 L990.6 437.1 L993.1 436.3 L995.5 435.6 L998 434.9 L1000.4 434.3 L1002.9 433.7 L1005.4 433.2 L1007.8 432.8 L1010.3 432.4 L1012.7 432.1 L1015.2 431.8 L1017.6 431.6 L1020.1 431.5 L1022.5 431.3 L1025 431.3 L1027.4 431.2 L1029.9 431.2 L1032.3 431.3 L1034.8 431.4 L1037.2 431.5 L1039.7 431.7 L1042.1 431.9 L1044.6 432.1 L1047.1 432.3 L1049.5 432.6 L1052 432.9 L1054.4 433.2 L1056.9 433.5 L1059.3 433.8 L1061.8 434.2 L1064.2 434.5 L1066.7 434.9 L1069.1 435.3 L1071.6 435.6 L1074 436 L1076.5 436.3 L1078.9 436.6 L1081.4 436.9 L1083.8 437.2 L1086.3 437.5 L1088.8 437.8 L1091.2 438 L1093.7 438.2 L1096.1 438.3 L1098.6 438.4 L1101 438.5 L1103.5 438.5 L1105.9 438.5 L1108.4 438.4 L1110.8 438.3 L1113.3 438.1 L1115.7 437.9 L1118.2 437.6 L1120.6 437.2 L1123.1 436.8 L1125.5 436.3 L1128 435.7 L1130.5 435.1 L1132.9 434.4 L1135.4 433.6 L1137.8 432.7 L1140.3 431.8 L1142.7 430.8 L1145.2 429.7 L1147.6 428.5 L1150.1 427.3 L1152.5 426 L1155 424.6 L1157.4 423.2 L1159.9 421.7 L1162.3 420.1 L1164.8 418.4 L1167.2 416.7 L1169.7 414.9 L1172.2 413 L1174.6 411.1 L1177.1 409.2 L1179.5 407.2 L1182 405.1 L1184.4 403 L1186.9 400.9 L1189.3 398.7 L1191.8 396.5 L1194.2 394.2 L1196.7 392 L1199.1 389.7 L1201.6 387.4 L1204 385 L1206.5 382.7 L1208.9 380.4 L1211.4 378 L1213.9 375.7 L1216.3 373.4 L1218.8 371.1 L1221.2 368.8 L1223.7 366.5 L1226.1 364.3 L1228.6 362.1 L1231 359.9 L1233.5 357.7 L1235.9 355.6 L1238.4 353.5 L1240.8 351.5 L1243.3 349.5 L1245.7 347.6 L1248.2 345.7 L1250.7 343.9 L1253.1 342.1 L1255.6 340.4 L1258 338.7 L1260.5 337.1 L1262.9 335.6 L1265.4 334.1 L1267.8 332.7 L1270.3 331.3 L1272.7 330.1 L1275.2 328.8 L1277.6 327.7 L1280.1 326.6 L1282.5 325.6 L1285 324.6 L1287.4 323.7 L1289.9 322.9 L1292.4 322.1 L1294.8 321.4 L1297.3 320.7 L1299.7 320.2 L1302.2 319.6 L1304.6 319.2 L1307.1 318.7 L1309.5 318.4 L1312 318.1 L1314.4 317.8 L1316.9 317.6 L1319.3 317.5 L1321.8 317.4 L1324.2 317.3 L1326.7 317.3 L1329.1 317.3 L1331.6 317.4 L1334.1 317.5 L1336.5 317.6 L1339 317.8 L1341.4 318 L1343.9 318.2 L1346.3 318.5 L1348.8 318.8 L1351.2 319.1 L1353.7 319.4 L1356.1 319.7 L1358.6 320.1 L1361 320.4 L1363.5 320.8 L1365.9 321.1 L1368.4 321.5 L1370.8 321.8 L1373.3 322.2 L1375.8 322.5 L1378.2 322.8 L1380.7 323.1 L1383.1 323.4 L1385.6 323.7 L1388 323.9 L1390.5 324.1 L1392.9 324.3 L1395.4 324.4 L1397.8 324.5 L1400.3 324.6 L1402.7 324.6 L1405.2 324.6 L1407.6 324.5 L1410.1 324.3 L1412.5 324.1 L1415 323.9 L1417.5 323.5 L1419.9 323.1 L1422.4 322.7 L1424.8 322.2 L1427.3 321.6 L1429.7 320.9 L1432.2 320.2 L1434.6 319.4 L1437.1 318.5 L1439.5 317.5 L1442 316.5 L1444.4 315.4 L1446.9 314.2 L1449.3 312.9 L1451.8 311.6 L1454.2 310.2 L1456.7 308.7 L1459.2 307.1 L1461.6 305.5 L1464.1 303.8 L1466.5 302.1 L1469 300.3 L1471.4 298.4 L1473.9 296.5 L1476.3 294.5 L1478.8 292.5 L1481.2 290.4 L1483.7 288.3 L1486.1 286.1 L1488.6 283.9 L1491 281.7 L1493.5 279.5 L1495.9 277.2 L1498.4 274.9 L1500.9 272.6 L1503.3 270.2 L1505.8 267.9 L1508.2 265.6 L1510.7 263.3 L1513.1 260.9 L1515.6 258.6 L1518 256.3 L1520.5 254 L1522.9 251.8 L1525.4 249.5 L1527.8 247.3 L1530.3 245.1 L1532.7 243 L1535.2 240.9 L1537.7 238.8 L1540.1 236.8 L1542.6 234.9 L1545 233 L1547.5 231.1 L1549.9 229.3 L1552.4 227.5 L1554.8 225.8 L1557.3 224.2 L1559.7 222.6 L1562.2 221.1 L1564.6 219.6 L1567.1 218.3 L1569.5 216.9 L1572 215.7 L1574.4 214.5 L1576.9 213.3 L1579.4 212.3 L1581.8 211.3 L1584.3 210.3 L1586.7 209.5 L1589.2 208.7 L1591.6 207.9 L1594.1 207.2 L1596.5 206.6 L1599 206 L1601.4 205.5 L1603.9 205.1 L1606.3 204.7 L1608.8 204.4 L1611.2 204.1 L1613.7 203.8 L1616.1 203.7 L1618.6 203.5 L1621.1 203.4 L1623.5 203.4 L1626 203.4 L1628.4 203.4 L1630.9 203.5 L1633.3 203.6 L1635.8 203.8 L1638.2 204 L1640.7 204.2 L1643.1 204.4 L1645.6 204.7 L1648 205 L1650.5 205.3 L1652.9 205.6 L1655.4 205.9 L1657.8 206.3 L1660.3 206.6 L1662.8 207 L1665.2 207.3 L1667.7 207.7 L1670.1 208 L1672.6 208.4 L1675 208.7 L1677.5 209 L1679.9 209.3 L1682.4 209.6 L1684.8 209.9 L1687.3 210.1 L1689.7 210.3 L1692.2 210.4 L1694.6 210.6 L1697.1 210.6 L1699.5 210.7 L1702 210.7 L1704.5 210.6 L1706.9 210.5 L1709.4 210.3 L1711.8 210.1 L1714.3 209.8 L1716.7 209.5 L1719.2 209.1 L1721.6 208.6 L1724.1 208 L1726.5 207.4 L1729 206.7 L1731.4 206 L1733.9 205.1 L1736.3 204.2 L1738.8 203.2 L1741.2 202.1 L1743.7 201 L1746.2 199.8 L1748.6 198.5 L1751.1 197.1 L1753.5 195.7 L1756 194.2 L1758.4 192.6 L1760.9 191 L1763.3 189.3 L1765.8 187.5 L1768.2 185.7 L1770.7 183.8 L1773.1 181.8 L1775.6 179.8 L1778 177.8 L1780.5 175.7 L1782.9 173.6 L1785.4 171.4 L1787.9 169.2 L1790.3 166.9 L1792.8 164.7 L1795.2 162.4 L1797.7 160.1 L1800.1 157.8 L1802.6 155.4 L1805 153.1 L1807.5 150.8 L1809.9 148.5 L1812.4 146.1 L1814.8 143.8 L1817.3 141.5 L1819.7 139.3 L1822.2 137 L1824.6 134.8 L1827.1 132.6 L1829.6 130.4 L1832 128.3 L1834.5 126.2 L1836.9 124.2 L1839.4 122.2 L1841.8 120.2 L1844.3 118.3 L1846.7 116.5 L1849.2 114.7 L1851.6 113" stroke="#f00" stroke-width="7.2" stroke-linejoin="miter" fill="none"/>
</g>
<text class="b" font-size="35.5" text-anchor="end" transform="translate(1817.2 744.9) scale(1 1.04)">22.236+/- 0.310 mm/yr</text>
<clipPath id="c1"><rect x="226" y="935" width="1657.5" height="638"/></clipPath>
<rect x="226" y="935" width="1657.5" height="638" fill="none" stroke="#000" stroke-width="5.9"/>
<path d="M257.9 935v-19M257.9 1573v19M332.5 935v-9.8M332.5 1573v9.8M407.1 935v-9.8M407.1 1573v9.8M481.7 935v-9.8M481.7 1573v9.8M556.2 935v-19M556.2 1573v19M630.8 935v-9.8M630.8 1573v9.8M705.4 935v-9.8M705.4 1573v9.8M780 935v-9.8M780 1573v9.8M854.6 935v-19M854.6 1573v19M929.2 935v-9.8M929.2 1573v9.8M1003.7 935v-9.8M1003.7 1573v9.8M1078.3 935v-9.8M1078.3 1573v9.8M1152.9 935v-19M1152.9 1573v19M1227.5 935v-9.8M1227.5 1573v9.8M1302.1 935v-9.8M1302.1 1573v9.8M1376.7 935v-9.8M1376.7 1573v9.8M1451.3 935v-19M1451.3 1573v19M1525.8 935v-9.8M1525.8 1573v9.8M1600.4 935v-9.8M1600.4 1573v9.8M1675 935v-9.8M1675 1573v9.8M1749.6 935v-19M1749.6 1573v19M1824.2 935v-9.8M1824.2 1573v9.8M226 1434.4h-19M1883.5 1434.4h19M226 1266.4h-19M1883.5 1266.4h19M226 1098.4h-19M1883.5 1098.4h19" stroke="#000" stroke-width="2.15" fill="none"/>
<text class="b" font-size="42.9" text-anchor="middle" transform="translate(257.9 1638.8) scale(1 1.045)">2020</text>
<text class="b" font-size="42.9" text-anchor="middle" transform="translate(556.2 1638.8) scale(1 1.045)">2021</text>
<text class="b" font-size="42.9" text-anchor="middle" transform="translate(854.6 1638.8) scale(1 1.045)">2022</text>
<text class="b" font-size="42.9" text-anchor="middle" transform="translate(1152.9 1638.8) scale(1 1.045)">2023</text>
<text class="b" font-size="42.9" text-anchor="middle" transform="translate(1451.3 1638.8) scale(1 1.045)">2024</text>
<text class="b" font-size="42.9" text-anchor="middle" transform="translate(1749.6 1638.8) scale(1 1.045)">2025</text>
<text class="b" font-size="42.9" text-anchor="end" transform="translate(190.6 1449.8) scale(1 1.045)">−20</text>
<text class="b" font-size="42.9" text-anchor="end" transform="translate(190.6 1281.8) scale(1 1.045)">0</text>
<text class="b" font-size="42.9" text-anchor="end" transform="translate(190.6 1113.8) scale(1 1.045)">20</text>
<text font-size="42.7" text-anchor="middle" transform="translate(90.5 1254) rotate(-90) scale(1 1.04)">North (mm)</text>
<g clip-path="url(#c1)">
<path d="M554.4 1573 V935" stroke="#cbcbcb" stroke-width="4.3" stroke-dasharray="28.8 13.7" fill="none"/>
<path d="M257.9 1535.7h0M258.7 1550.9h0M259.5 1543.2h0M260.4 1535.2h0M261.2 1547.4h0M262 1546.3h0M262.8 1539.5h0M263.6 1547.5h0M264.4 1560.8h0M265.3 1547.8h0M266.1 1547h0M266.9 1548.8h0M267.7 1553.7h0M268.5 1548.5h0M270.2 1553.9h0M271 1550.5h0M271.8 1559.8h0M272.6 1538.2h0M273.4 1554h0M274.2 1544.1h0M275.9 1545.9h0M276.7 1550.8h0M278.3 1550.6h0M279.1 1553.5h0M280 1549.3h0M280.8 1547h0M281.6 1545.8h0M282.4 1550.8h0M283.2 1542.9h0M284 1556.7h0M284.9 1553.2h0M285.7 1549.9h0M286.5 1548.4h0M287.3 1548h0M288.1 1555.2h0M288.9 1540h0M289.8 1552.2h0M290.6 1545.8h0M291.4 1542.1h0M292.2 1550.4h0M293 1545.4h0M293.8 1553.6h0M294.7 1551h0M295.5 1535.7h0M296.3 1553.8h0M297.1 1550.7h0M297.9 1553.7h0M298.7 1552.8h0M299.6 1555h0M300.4 1552.5h0M301.2 1550.4h0M302 1544.5h0M302.8 1539.2h0M303.6 1536.2h0M304.5 1541.9h0M305.3 1533.4h0M306.1 1539.4h0M306.9 1542.6h0M307.7 1542.9h0M308.5 1543.8h0M309.4 1540.3h0M310.2 1540.3h0M311 1539.8h0M311.8 1538.9h0M312.6 1532.1h0M313.4 1539.4h0M314.3 1550.1h0M315.1 1541.5h0M315.9 1544.7h0M316.7 1534.1h0M317.5 1541.1h0M318.3 1562.7h0M319.2 1540.2h0M320 1547.3h0M320.8 1550.1h0M321.6 1546.6h0M322.4 1544h0M323.2 1543.4h0M324.1 1538h0M324.9 1549.8h0M325.7 1538.2h0M326.5 1545.5h0M327.3 1533.2h0M328.1 1528h0M329 1529.3h0M329.8 1540.8h0M330.6 1537.3h0M331.4 1537.4h0M332.2 1541.7h0M333 1541h0M333.9 1541.5h0M334.7 1534h0M335.5 1537.9h0M336.3 1540.2h0M337.1 1545.5h0M337.9 1538.7h0M338.8 1540h0M339.6 1537.2h0M340.4 1539.6h0M341.2 1531.7h0M342 1546.8h0M342.8 1544.5h0M343.7 1537.6h0M344.5 1537.3h0M345.3 1521h0M346.1 1543.9h0M346.9 1539h0M347.7 1539.3h0M348.6 1524.8h0M349.4 1542.9h0M350.2 1546.6h0M351.8 1535h0M352.7 1539.3h0M354.3 1531h0M355.1 1540.1h0M355.9 1529.8h0M357.6 1506h0M358.4 1519.7h0M359.2 1512.7h0M360 1510.5h0M360.8 1523.3h0M361.6 1511.9h0M362.5 1514.2h0M363.3 1522.5h0M364.1 1510.1h0M364.9 1510.2h0M365.7 1506h0M366.5 1511.2h0M367.4 1504h0M368.2 1513h0M369 1508.6h0M369.8 1516.1h0M370.6 1518.5h0M371.4 1512.6h0M372.3 1515.2h0M373.1 1509.9h0M373.9 1517.6h0M374.7 1519.6h0M375.5 1514.5h0M376.3 1526.7h0M377.2 1509.7h0M378 1507.6h0M378.8 1511.6h0M379.6 1498.6h0M380.4 1501.6h0M381.2 1495.7h0M382.1 1504.4h0M383.7 1493.7h0M384.5 1493.9h0M385.3 1492h0M386.1 1505.9h0M387 1500.6h0M387.8 1504.9h0M388.6 1500.4h0M389.4 1497.1h0M390.2 1483.3h0M391 1480.1h0M391.9 1496.7h0M392.7 1503.1h0M393.5 1485.2h0M394.3 1484.2h0M395.1 1498.2h0M395.9 1505.4h0M396.8 1487.4h0M397.6 1488.9h0M398.4 1497.3h0M399.2 1493.1h0M400 1491.8h0M400.8 1495.7h0M401.7 1486h0M402.5 1486.4h0M403.3 1499h0M404.9 1493.7h0M405.7 1485.2h0M406.6 1493.5h0M407.4 1487.9h0M408.2 1487.4h0M409 1495.4h0M409.8 1492.6h0M410.6 1491.8h0M411.5 1480h0M412.3 1494h0M413.1 1489.4h0M413.9 1497.7h0M414.7 1489.4h0M415.5 1483.3h0M416.4 1494.8h0M418 1486.5h0M418.8 1482.1h0M419.6 1498.2h0M420.4 1495.4h0M421.3 1484.9h0M422.1 1496h0M422.9 1494.8h0M423.7 1497.1h0M424.5 1491.2h0M425.3 1502.6h0M426.2 1479.5h0M427 1482.6h0M427.8 1501.6h0M428.6 1498.6h0M429.4 1495.4h0M430.2 1505.4h0M431.1 1493.7h0M431.9 1474.6h0M432.7 1499.8h0M433.5 1494h0M434.3 1487.5h0M436 1492.2h0M436.8 1490.9h0M437.6 1496.9h0M438.4 1500.1h0M439.2 1491.8h0M440 1491.5h0M440.9 1480.6h0M441.7 1490h0M442.5 1486.3h0M443.3 1493.5h0M444.1 1504.1h0M444.9 1493.6h0M445.8 1489.8h0M446.6 1483.7h0M447.4 1486.5h0M448.2 1485.8h0M449 1485.9h0M449.9 1492.2h0M450.7 1481.1h0M451.5 1487h0M452.3 1495.5h0M453.1 1494.5h0M453.9 1488.4h0M454.8 1490.4h0M455.6 1489.6h0M456.4 1499.3h0M457.2 1498.1h0M458 1499.6h0M458.8 1489.6h0M459.7 1489.8h0M460.5 1494.8h0M461.3 1484.3h0M462.1 1486.3h0M462.9 1492.5h0M463.7 1482h0M464.6 1480h0M465.4 1486.1h0M466.2 1483.8h0M467 1481.8h0M467.8 1485.8h0M468.6 1473.8h0M469.5 1488.3h0M470.3 1484.7h0M471.1 1484.1h0M472.7 1493.2h0M473.5 1474h0M474.4 1482.3h0M475.2 1491.6h0M476 1480.4h0M476.8 1478.1h0M477.6 1474.4h0M478.4 1471.1h0M479.3 1498.2h0M480.1 1468.8h0M480.9 1477.9h0M481.7 1459.4h0M482.5 1470.8h0M483.3 1468.1h0M484.2 1463.5h0M485 1465.3h0M485.8 1471h0M486.6 1458.5h0M487.4 1468.2h0M488.2 1470.6h0M489.1 1457.4h0M489.9 1462.1h0M490.7 1463.4h0M491.5 1450.2h0M492.3 1450.5h0M494 1453.1h0M494.8 1459h0M495.6 1453.6h0M496.4 1449.5h0M497.2 1449h0M498 1446.4h0M498.9 1446.3h0M499.7 1461.4h0M500.5 1456.3h0M502.1 1442.9h0M502.9 1439.4h0M503.8 1448.7h0M504.6 1439.6h0M506.2 1436.1h0M507 1445.8h0M507.8 1440.4h0M508.7 1447.7h0M509.5 1435.3h0M510.3 1438.4h0M511.9 1442.1h0M512.7 1433.6h0M513.6 1437.9h0M514.4 1448.8h0M515.2 1444.5h0M516 1438.9h0M516.8 1439.7h0M518.5 1427.7h0M519.3 1445h0M520.1 1432.2h0M520.9 1434.4h0M521.7 1443.1h0M522.5 1432h0M523.4 1442.6h0M524.2 1438.8h0M525 1439.6h0M525.8 1436.9h0M526.6 1447.8h0M527.4 1442.9h0M528.3 1446.1h0M529.1 1432.7h0M529.9 1437.6h0M530.7 1438.1h0M531.5 1451.5h0M532.3 1434.1h0M533.2 1426.1h0M534 1419h0M534.8 1424h0M535.6 1418.4h0M536.4 1416.7h0M537.2 1420.2h0M538.1 1418.6h0M538.9 1418.1h0M539.7 1427.2h0M540.5 1421.2h0M541.3 1418h0M542.2 1425h0M543 1406h0M543.8 1423.6h0M544.6 1422.2h0M545.4 1416.5h0M546.2 1408.7h0M547.1 1421.6h0M547.9 1421.7h0M548.7 1424.3h0M549.5 1421h0M550.3 1415.5h0M551.1 1413.9h0M552 1408.3h0M552.8 1405.2h0M553.6 1404.1h0M554.4 1418.2h0M555.2 1409.1h0M556 1411.2h0M556.9 1409.7h0M557.7 1415.1h0M558.5 1415.8h0M559.3 1413h0M560.1 1404.4h0M560.9 1409.7h0M561.8 1424.9h0M562.6 1414.5h0M563.4 1411.9h0M564.2 1408.9h0M565 1394.2h0M565.8 1400.6h0M566.7 1408h0M567.5 1410h0M568.3 1406.9h0M569.1 1411h0M569.9 1417.1h0M570.7 1418.3h0M571.6 1422.7h0M572.4 1405.8h0M573.2 1415.8h0M574 1419.8h0M574.8 1418.2h0M575.6 1411.6h0M576.5 1401.3h0M577.3 1437.2h0M578.1 1409.9h0M578.9 1420.6h0M579.7 1412.2h0M580.5 1408.5h0M581.4 1415.2h0M582.2 1417.4h0M583 1414.9h0M583.8 1415.1h0M584.6 1419.8h0M585.4 1411.6h0M586.3 1409.6h0M587.1 1408.2h0M587.9 1411.6h0M588.7 1413.1h0M589.5 1410.8h0M590.3 1410.4h0M591.2 1414.8h0M592 1420.1h0M592.8 1411.7h0M593.6 1401.9h0M594.4 1425.1h0M595.2 1419.7h0M596.1 1407.3h0M596.9 1404h0M597.7 1428.1h0M598.5 1413.5h0M599.3 1415.5h0M600.1 1402.6h0M601 1423.7h0M601.8 1430h0M602.6 1419.1h0M603.4 1421.3h0M604.2 1422.4h0M605 1417.8h0M605.9 1420.6h0M606.7 1432.3h0M607.5 1425.2h0M608.3 1425.3h0M609.1 1424.2h0M609.9 1434.1h0M610.8 1425.9h0M611.6 1432.1h0M612.4 1431.9h0M613.2 1422.3h0M614 1425.6h0M614.8 1429.7h0M615.7 1432.2h0M616.5 1428.3h0M617.3 1426.8h0M618.1 1417.3h0M618.9 1422.2h0M619.7 1427.5h0M621.4 1424.1h0M622.2 1423.2h0M623 1429.5h0M623.8 1414.9h0M624.6 1424.3h0M625.5 1420.5h0M626.3 1415.9h0M627.1 1408h0M627.9 1411h0M628.7 1408.7h0M629.5 1413.2h0M630.4 1406.5h0M631.2 1404.3h0M632 1391.5h0M632.8 1407.2h0M633.6 1388.1h0M634.4 1409.9h0M635.3 1394.9h0M636.1 1396h0M636.9 1394.9h0M637.7 1387.8h0M638.5 1401.8h0M639.4 1392.7h0M640.2 1391.1h0M641 1397.6h0M641.8 1395.9h0M642.6 1384.3h0M643.4 1386.1h0M644.3 1393h0M645.1 1392.9h0M645.9 1396.3h0M646.7 1390.3h0M647.5 1398.2h0M648.3 1395.2h0M649.2 1390h0M650 1387h0M650.8 1392h0M651.6 1392.7h0M652.4 1387.9h0M653.2 1388.4h0M654.1 1391.3h0M654.9 1378.1h0M655.7 1389.2h0M656.5 1390.7h0M657.3 1380.7h0M658.1 1382.5h0M659.8 1382.9h0M660.6 1390.3h0M661.4 1385.9h0M662.2 1387.1h0M663 1384.5h0M663.9 1379.5h0M664.7 1391.8h0M665.5 1383.1h0M666.3 1387.8h0M667.1 1385.8h0M667.9 1381.6h0M668.8 1391h0M669.6 1379h0M670.4 1380.8h0M671.2 1399h0M672 1385.4h0M672.8 1376.8h0M673.7 1378.7h0M674.5 1372.3h0M675.3 1383.4h0M676.1 1386.1h0M676.9 1380.3h0M677.7 1383.6h0M678.6 1389.1h0M679.4 1385.1h0M680.2 1380.8h0M681 1376.9h0M681.8 1388.4h0M682.6 1389.3h0M683.5 1391.5h0M684.3 1386.9h0M685.1 1394.6h0M686.7 1394.5h0M687.5 1398h0M688.4 1394.1h0M689.2 1391.6h0M690 1400.8h0M690.8 1403.8h0M691.6 1400h0M692.4 1409.7h0M693.3 1391.9h0M694.1 1387h0M694.9 1382.3h0M695.7 1389h0M696.5 1395.6h0M697.3 1381.5h0M698.2 1376.8h0M699 1384.2h0M699.8 1384.4h0M700.6 1382.5h0M701.4 1378.2h0M702.2 1393.2h0M703.1 1377.7h0M703.9 1382.6h0M704.7 1375.6h0M705.5 1385.4h0M706.3 1394.3h0M708 1374.3h0M708.8 1383.7h0M709.6 1372h0M710.4 1373.9h0M711.2 1373.3h0M712 1378.7h0M712.9 1377.1h0M714.5 1369.3h0M715.3 1380.3h0M716.1 1364.9h0M716.9 1372.4h0M717.8 1389.8h0M718.6 1379.4h0M719.4 1374.1h0M720.2 1383h0M721 1384.4h0M721.8 1377.7h0M722.7 1382h0M723.5 1380.8h0M724.3 1389.1h0M725.1 1388.4h0M725.9 1380.8h0M726.7 1385.8h0M727.6 1374.8h0M729.2 1391.7h0M730 1371h0M730.8 1376.7h0M731.7 1379.9h0M732.5 1375.5h0M733.3 1365.9h0M734.1 1367.4h0M734.9 1365.4h0M735.7 1365.2h0M736.6 1357.4h0M737.4 1370.7h0M738.2 1387.1h0M739.8 1364.3h0M740.6 1363.6h0M741.5 1366.5h0M742.3 1359.7h0M743.1 1359.2h0M743.9 1364.4h0M744.7 1347h0M745.5 1357.2h0M747.2 1363.3h0M748 1358h0M748.8 1361.2h0M749.6 1347.5h0M751.3 1362.1h0M752.1 1371.7h0M752.9 1365.2h0M753.7 1373.4h0M754.5 1357.5h0M755.3 1358h0M756.2 1378h0M757 1365.4h0M757.8 1366.1h0M758.6 1377.8h0M759.4 1373.7h0M760.2 1372h0M761.9 1367.6h0M762.7 1367h0M763.5 1365h0M764.3 1354h0M765.1 1362.7h0M766 1360.3h0M766.8 1357.4h0M767.6 1371.2h0M768.4 1343.6h0M770 1347.4h0M770.9 1350.1h0M771.7 1352.9h0M773.3 1349.3h0M774.1 1366.7h0M774.9 1344.3h0M775.8 1340.2h0M776.6 1339h0M777.4 1346h0M778.2 1342.3h0M779 1339.1h0M780.7 1337.9h0M781.5 1349.6h0M782.3 1346.1h0M783.1 1330.4h0M783.9 1328.3h0M784.7 1331.8h0M785.6 1332.2h0M786.4 1339.2h0M787.2 1342.3h0M788 1336.9h0M788.8 1331.9h0M789.6 1342h0M790.5 1348.3h0M791.3 1329.8h0M792.1 1339.1h0M792.9 1334.5h0M793.7 1334.2h0M794.5 1331.1h0M795.4 1342.8h0M796.2 1333.6h0M797 1327.3h0M797.8 1332.1h0M798.6 1332.5h0M799.4 1325.4h0M800.3 1339.5h0M801.1 1331.2h0M801.9 1331.1h0M802.7 1344.6h0M803.5 1317.6h0M804.3 1343.6h0M805.2 1345.4h0M806 1333.4h0M806.8 1340.2h0M807.6 1333h0M808.4 1328.3h0M809.2 1337.4h0M810.1 1332.9h0M810.9 1332.7h0M811.7 1329.8h0M812.5 1349.4h0M813.3 1339h0M814.1 1333.1h0M815.8 1325.3h0M816.6 1327.8h0M817.4 1329.7h0M818.2 1331.8h0M819 1327.5h0M819.9 1335.2h0M820.7 1331.9h0M822.3 1329.6h0M823.1 1316.2h0M823.9 1326.3h0M824.8 1320.6h0M825.6 1315.7h0M826.4 1314.9h0M827.2 1307.7h0M828 1299.6h0M828.9 1316.8h0M829.7 1298.1h0M830.5 1310h0M831.3 1299.4h0M832.1 1306h0M832.9 1300h0M833.8 1300.2h0M834.6 1292.6h0M835.4 1299.2h0M836.2 1307.8h0M837 1301.7h0M837.8 1302.4h0M838.7 1291.6h0M839.5 1295.5h0M840.3 1303.1h0M841.1 1288h0M841.9 1301.4h0M842.7 1296.2h0M843.6 1294.5h0M844.4 1301.1h0M845.2 1286.5h0M846 1302.3h0M846.8 1275.5h0M847.6 1283.1h0M848.5 1294.5h0M849.3 1295.2h0M850.1 1279.4h0M850.9 1287.1h0M851.7 1304.6h0M852.5 1283.4h0M853.4 1267.7h0M854.2 1282.5h0M855 1283.3h0M855.8 1281.9h0M856.6 1280.7h0M857.4 1281.9h0M858.3 1287.4h0M859.1 1287.3h0M859.9 1283.2h0M860.7 1287.2h0M861.5 1288h0M862.3 1278.3h0M863.2 1296.2h0M864 1295.7h0M864.8 1288.7h0M865.6 1287h0M866.4 1288.3h0M867.2 1291h0M868.1 1293.5h0M868.9 1294.5h0M869.7 1286h0M870.5 1281.3h0M871.3 1283.9h0M872.1 1298.6h0M873 1289.1h0M873.8 1286.8h0M874.6 1280.8h0M875.4 1297.2h0M876.2 1291.5h0M877 1287.1h0M877.9 1280.1h0M878.7 1282.7h0M879.5 1284.5h0M880.3 1289h0M881.1 1299.7h0M881.9 1286.9h0M882.8 1282.6h0M883.6 1298.4h0M884.4 1300.2h0M885.2 1293.4h0M886 1295.8h0M886.8 1293.3h0M887.7 1309.8h0M888.5 1302.9h0M890.1 1304.6h0M890.9 1305.9h0M891.7 1289.6h0M892.6 1297.7h0M893.4 1299.1h0M894.2 1286.8h0M895 1285.7h0M895.8 1312.5h0M896.6 1287.9h0M897.5 1296.9h0M898.3 1298.5h0M899.1 1297.9h0M899.9 1294.9h0M900.7 1291.1h0M901.5 1278.7h0M902.4 1279.6h0M903.2 1289.9h0M904 1278.6h0M904.8 1291.1h0M905.6 1284.3h0M906.4 1293.4h0M907.3 1273.6h0M908.1 1292.6h0M909.7 1285h0M910.5 1275.4h0M911.3 1287.4h0M912.2 1285.2h0M913 1289.4h0M913.8 1291.7h0M914.6 1297.1h0M915.4 1265.1h0M916.2 1287.1h0M917.1 1280.6h0M917.9 1287.5h0M918.7 1291.6h0M919.5 1294.1h0M920.3 1278.4h0M921.2 1267.9h0M922 1285h0M922.8 1292.6h0M923.6 1277.9h0M924.4 1287.8h0M925.2 1275.5h0M926.1 1290.6h0M926.9 1283.9h0M927.7 1295.9h0M928.5 1280.5h0M929.3 1290.2h0M930.1 1311h0M931 1269.3h0M931.8 1288.1h0M932.6 1288.7h0M933.4 1290.8h0M934.2 1292.8h0M935 1291.1h0M935.9 1284.7h0M936.7 1288.8h0M937.5 1294h0M938.3 1279.1h0M939.1 1295.6h0M939.9 1284.9h0M940.8 1301.9h0M941.6 1283.8h0M942.4 1288.2h0M943.2 1283.4h0M944 1293.4h0M944.8 1289h0M945.7 1278.4h0M946.5 1282.7h0M947.3 1276.9h0M948.1 1279.4h0M948.9 1268.7h0M949.7 1271h0M950.6 1276.5h0M951.4 1277.8h0M952.2 1273.7h0M953 1275.5h0M953.8 1271h0M954.6 1282.4h0M955.5 1279.6h0M956.3 1272.6h0M957.1 1289.7h0M957.9 1272.6h0M958.7 1287.7h0M959.5 1281.4h0M960.4 1283.5h0M961.2 1294.5h0M962 1279.5h0M962.8 1272.5h0M963.6 1277.9h0M964.4 1285.8h0M965.3 1293.8h0M966.1 1286.3h0M966.9 1289.2h0M967.7 1287.2h0M968.5 1280.7h0M969.3 1282.1h0M970.2 1272.7h0M971 1266h0M971.8 1273.4h0M972.6 1264.7h0M973.4 1277.8h0M974.2 1271.6h0M975.1 1260.9h0M975.9 1273.9h0M976.7 1276.6h0M977.5 1262.4h0M978.3 1276.5h0M979.1 1262.7h0M980.8 1263.4h0M981.6 1268.9h0M982.4 1265.7h0M983.2 1255.1h0M984 1272h0M984.9 1263.8h0M985.7 1256.3h0M986.5 1261h0M987.3 1260.1h0M988.1 1271.1h0M988.9 1270.7h0M989.8 1250.5h0M990.6 1259.3h0M991.4 1263.5h0M992.2 1262.2h0M993 1267.7h0M993.8 1266.2h0M994.7 1254.8h0M995.5 1273h0M996.3 1268.9h0M997.1 1247.5h0M997.9 1262.6h0M998.7 1258.3h0M999.6 1249.6h0M1000.4 1256.2h0M1001.2 1264.4h0M1002 1258.8h0M1002.8 1252.6h0M1003.6 1256.4h0M1004.5 1257.9h0M1005.3 1257.5h0M1006.1 1266.2h0M1006.9 1255.4h0M1007.7 1260.6h0M1008.5 1264.5h0M1009.4 1265.4h0M1010.2 1265h0M1011 1257.7h0M1011.8 1260.7h0M1012.6 1259.1h0M1013.4 1274.3h0M1014.3 1260.3h0M1015.1 1263h0M1015.9 1266h0M1017.5 1273.2h0M1018.4 1258.2h0M1019.2 1283.8h0M1020 1266.5h0M1020.8 1278.3h0M1021.6 1276.1h0M1022.4 1263.4h0M1023.3 1263.1h0M1024.1 1264.2h0M1024.9 1269.8h0M1025.7 1274.6h0M1026.5 1275.2h0M1027.3 1275.8h0M1028.2 1275h0M1029 1271h0M1029.8 1270.9h0M1030.6 1272.8h0M1031.4 1286.6h0M1032.2 1268.7h0M1033.1 1265.5h0M1033.9 1276h0M1034.7 1267h0M1035.5 1267.7h0M1036.3 1264.1h0M1037.1 1269.3h0M1038 1264.5h0M1038.8 1262.8h0M1039.6 1269.5h0M1040.4 1261.8h0M1041.2 1276h0M1042 1283.9h0M1042.9 1255.3h0M1043.7 1264.3h0M1044.5 1269.4h0M1045.3 1259.8h0M1046.1 1265.8h0M1046.9 1259.1h0M1047.8 1253.9h0M1048.6 1262.9h0M1049.4 1248.1h0M1050.2 1247.4h0M1051 1242h0M1051.8 1250.7h0M1052.7 1245.5h0M1053.5 1241.4h0M1054.3 1247.7h0M1055.1 1245.9h0M1055.9 1251.6h0M1056.7 1248.2h0M1057.6 1240.6h0M1058.4 1241.5h0M1059.2 1252.5h0M1060 1245.1h0M1060.8 1239.5h0M1061.6 1241.4h0M1063.3 1241.8h0M1064.1 1232.5h0M1064.9 1243.3h0M1065.7 1235.4h0M1066.5 1238.5h0M1067.4 1247.9h0M1068.2 1245.3h0M1069 1233.5h0M1069.8 1244h0M1070.6 1232.2h0M1071.4 1239.8h0M1072.3 1245.9h0M1073.1 1241.3h0M1073.9 1238.3h0M1074.7 1232.2h0M1075.5 1219.9h0M1076.3 1225.6h0M1077.2 1217.7h0M1078 1228.8h0M1078.8 1221.3h0M1079.6 1219.6h0M1080.4 1215.8h0M1081.2 1222.4h0M1082.1 1222.2h0M1082.9 1224.2h0M1083.7 1211.2h0M1084.5 1225.1h0M1085.3 1219h0M1086.1 1209.5h0M1087 1230.3h0M1087.8 1229.3h0M1088.6 1218.6h0M1089.4 1236.1h0M1090.2 1236.4h0M1091 1243.8h0M1091.9 1240.7h0M1092.7 1241.6h0M1093.5 1231.5h0M1094.3 1257.5h0M1095.1 1235.7h0M1095.9 1241.6h0M1096.8 1245.4h0M1097.6 1237.5h0M1098.4 1220.3h0M1099.2 1231h0M1100 1231.7h0M1100.8 1244.1h0M1101.7 1228.1h0M1102.5 1238h0M1103.3 1233.9h0M1104.1 1236.4h0M1104.9 1235h0M1105.7 1243.3h0M1106.6 1234.9h0M1107.4 1230.6h0M1108.2 1224.4h0M1109 1219.3h0M1109.8 1214.2h0M1110.7 1207.9h0M1111.5 1210.8h0M1112.3 1223.3h0M1113.1 1214.2h0M1113.9 1214.8h0M1114.7 1211.6h0M1115.6 1214.3h0M1116.4 1216.5h0M1117.2 1221.5h0M1118 1194.4h0M1118.8 1222h0M1119.6 1203.1h0M1120.5 1201.7h0M1121.3 1203.7h0M1122.1 1224.1h0M1122.9 1209.4h0M1123.7 1211.6h0M1124.5 1200.4h0M1125.4 1211.1h0M1126.2 1201.5h0M1127 1204.8h0M1127.8 1199.1h0M1128.6 1201h0M1129.4 1200.6h0M1130.3 1207.9h0M1131.1 1204.8h0M1131.9 1180.8h0M1132.7 1199h0M1133.5 1197.5h0M1134.3 1186.4h0M1135.2 1184.3h0M1136 1199.5h0M1136.8 1193.1h0M1137.6 1200.9h0M1139.2 1179.1h0M1140.1 1200.6h0M1140.9 1173.7h0M1141.7 1185.9h0M1142.5 1185.3h0M1143.3 1190.1h0M1144.1 1191.4h0M1145 1183.9h0M1145.8 1183.3h0M1146.6 1184.8h0M1147.4 1185.8h0M1148.2 1177.9h0M1149 1186.6h0M1149.9 1183.8h0M1150.7 1174.9h0M1151.5 1175.1h0M1152.3 1173.1h0M1153.1 1187.4h0M1153.9 1176.4h0M1154.8 1186.4h0M1155.6 1181.9h0M1156.4 1171.8h0M1157.2 1179.3h0M1158 1166.9h0M1158.8 1167.9h0M1159.7 1177.3h0M1160.5 1174.1h0M1161.3 1178.6h0M1162.1 1179.9h0M1162.9 1189.9h0M1163.7 1180.4h0M1164.6 1178.7h0M1165.4 1164.8h0M1166.2 1189.2h0M1167.8 1177.1h0M1168.6 1192.1h0M1169.5 1176.2h0M1170.3 1171.6h0M1171.1 1168.2h0M1171.9 1175.9h0M1173.5 1173.1h0M1174.4 1168.9h0M1175.2 1183.4h0M1176 1168.5h0M1176.8 1165.3h0M1177.6 1177.3h0M1178.4 1168.1h0M1179.3 1163.2h0M1180.1 1177.4h0M1180.9 1169.3h0M1181.7 1184.7h0M1182.5 1177.4h0M1183.3 1180.7h0M1184.2 1181.5h0M1185 1176.9h0M1185.8 1179.9h0M1186.6 1164.3h0M1187.4 1159.7h0M1188.2 1170h0M1189.9 1175.2h0M1190.7 1177.1h0M1191.5 1180.6h0M1192.3 1174.8h0M1193.1 1173.4h0M1194 1175.1h0M1194.8 1190.2h0M1195.6 1171.9h0M1196.4 1173.7h0M1197.2 1187.1h0M1198 1179h0M1198.9 1190.4h0M1199.7 1184.3h0M1200.5 1190.2h0M1201.3 1183.7h0M1202.1 1192.6h0M1202.9 1199.7h0M1203.8 1201.8h0M1204.6 1199.6h0M1205.4 1198.6h0M1206.2 1191.4h0M1207 1197.4h0M1207.9 1195.1h0M1208.7 1189.9h0M1209.5 1187.9h0M1210.3 1195.1h0M1211.1 1197.1h0M1211.9 1206.4h0M1212.8 1187.7h0M1213.6 1189.7h0M1214.4 1204h0M1215.2 1195.9h0M1216 1191.4h0M1216.8 1193.6h0M1217.7 1181.1h0M1218.5 1191.1h0M1219.3 1189.7h0M1220.1 1188.3h0M1220.9 1184.5h0M1221.7 1186.5h0M1222.6 1193.9h0M1223.4 1178.7h0M1224.2 1196.6h0M1225 1181.5h0M1225.8 1183.5h0M1226.6 1198.6h0M1227.5 1184.5h0M1228.3 1179.8h0M1229.1 1181.6h0M1229.9 1170.6h0M1230.7 1185.5h0M1231.5 1177.6h0M1232.4 1176.8h0M1233.2 1169.6h0M1234 1173.1h0M1234.8 1176.4h0M1235.6 1153.5h0M1236.4 1161.4h0M1237.3 1174.8h0M1238.1 1171h0M1238.9 1174.4h0M1239.7 1165.8h0M1240.5 1166.1h0M1241.3 1181.4h0M1242.2 1175.5h0M1243 1177.2h0M1243.8 1156.5h0M1244.6 1178.6h0M1245.4 1181.1h0M1246.2 1179.5h0M1247.1 1174.9h0M1247.9 1183.8h0M1248.7 1194.1h0M1249.5 1177.7h0M1250.3 1164.5h0M1251.1 1179.9h0M1252.8 1185.3h0M1253.6 1176.9h0M1254.4 1181.2h0M1255.2 1176.5h0M1256 1177.8h0M1256.9 1176.8h0M1257.7 1177h0M1258.5 1186.7h0M1259.3 1177h0M1260.1 1165.1h0M1260.9 1172h0M1261.8 1163.5h0M1262.6 1168h0M1263.4 1147.2h0M1264.2 1166.8h0M1265 1161.9h0M1265.8 1159.6h0M1266.7 1162h0M1267.5 1151.7h0M1268.3 1150.6h0M1269.1 1143.9h0M1269.9 1162.7h0M1270.7 1155.8h0M1271.6 1159.3h0M1272.4 1160.1h0M1273.2 1152.7h0M1274 1165.4h0M1274.8 1144.1h0M1275.6 1153.9h0M1276.5 1158h0M1277.3 1148.8h0M1278.1 1154.1h0M1278.9 1147.4h0M1279.7 1155.8h0M1280.5 1159.1h0M1281.4 1148.2h0M1282.2 1153.6h0M1283 1155.3h0M1283.8 1151.6h0M1284.6 1155h0M1285.4 1154.4h0M1286.3 1158.5h0M1287.1 1150.7h0M1288.7 1163.1h0M1289.5 1151h0M1290.3 1161.5h0M1291.2 1157.9h0M1292 1164.8h0M1292.8 1144.7h0M1293.6 1157.8h0M1294.4 1158.8h0M1295.2 1163.3h0M1296.1 1164h0M1296.9 1142.5h0M1297.7 1153.6h0M1298.5 1162.9h0M1299.3 1162.3h0M1300.2 1160.7h0M1301 1151.2h0M1301.8 1150.6h0M1302.6 1157h0M1303.4 1160.8h0M1304.2 1159h0M1305.1 1153.3h0M1305.9 1139.1h0M1306.7 1156.8h0M1307.5 1161.3h0M1308.3 1159.8h0M1309.1 1165.9h0M1310 1168h0M1310.8 1177.8h0M1311.6 1163.6h0M1312.4 1166.5h0M1313.2 1170.9h0M1314 1165.8h0M1314.9 1156.8h0M1315.7 1164.8h0M1316.5 1143.8h0M1317.3 1169.8h0M1318.1 1162.6h0M1318.9 1154.1h0M1319.8 1161.5h0M1320.6 1156h0M1321.4 1148.5h0M1322.2 1154.6h0M1323 1147.3h0M1323.8 1154.9h0M1324.7 1146.5h0M1325.5 1171.8h0M1326.3 1150h0M1327.1 1146.2h0M1327.9 1145.4h0M1328.7 1155.2h0M1329.6 1159.1h0M1330.4 1146.9h0M1331.2 1143.8h0M1332 1147.5h0M1332.8 1147.2h0M1333.6 1151.2h0M1334.5 1150h0M1335.3 1154.9h0M1336.1 1141.4h0M1336.9 1145.3h0M1337.7 1150.9h0M1338.5 1143.7h0M1339.4 1141.9h0M1340.2 1166.2h0M1341 1155.7h0M1341.8 1155.9h0M1342.6 1154.4h0M1343.4 1149.9h0M1344.3 1148.1h0M1345.1 1153.2h0M1345.9 1159.3h0M1346.7 1153.9h0M1347.5 1154.1h0M1348.3 1170.4h0M1349.2 1158.8h0M1350 1159.5h0M1350.8 1154.9h0M1351.6 1160.8h0M1352.4 1148.6h0M1354.1 1155.9h0M1354.9 1153.9h0M1355.7 1151.6h0M1452.1 1076.8h0M1452.9 1070.2h0M1454.5 1079.4h0M1455.3 1068.9h0M1456.2 1067.7h0M1457 1076.9h0M1457.8 1076.8h0M1458.6 1072.5h0M1459.4 1084.5h0M1460.2 1077.6h0M1461.1 1077.4h0M1461.9 1052.3h0M1462.7 1076.3h0M1465.1 1081.4h0M1466 1072.9h0M1466.8 1073.8h0M1467.6 1070.5h0M1468.4 1053.3h0M1469.2 1058.5h0M1470 1062.7h0M1470.9 1091h0M1471.7 1078.1h0M1472.5 1067.2h0M1473.3 1082.8h0M1474.1 1080.7h0M1474.9 1072.5h0M1475.8 1082.9h0M1476.6 1080.7h0M1477.4 1079.9h0M1478.2 1083.9h0M1479 1070.8h0M1479.8 1077.2h0M1480.7 1086.7h0M1481.5 1088.7h0M1482.3 1077.8h0M1483.1 1088.8h0M1483.9 1073.9h0M1484.7 1067.3h0M1485.6 1083h0M1486.4 1086.6h0M1487.2 1075h0M1488 1086.3h0M1488.8 1066.4h0M1489.7 1069.6h0M1490.5 1071.4h0M1491.3 1074.5h0M1492.9 1078.9h0M1493.7 1088.9h0M1494.6 1066.4h0M1495.4 1076.2h0M1496.2 1087.7h0M1497 1068.6h0M1498.6 1073.6h0M1499.5 1072h0M1500.3 1075.9h0M1501.1 1059.3h0M1501.9 1073.5h0M1502.7 1076.3h0M1503.5 1077.7h0M1504.4 1071.6h0M1505.2 1067.1h0M1506 1067.2h0M1506.8 1075.9h0M1507.6 1072h0M1508.4 1067.5h0M1509.3 1084.9h0M1510.1 1074.6h0M1510.9 1084.2h0M1513.3 1081.4h0M1514.2 1078.5h0M1515 1085.3h0M1515.8 1089.4h0M1516.6 1088.7h0M1517.4 1093.8h0M1518.2 1095.1h0M1519.1 1088.3h0M1519.9 1097h0M1520.7 1099h0M1521.5 1094.2h0M1522.3 1097.8h0M1523.1 1092.4h0M1524 1092.2h0M1524.8 1097.9h0M1525.6 1102.5h0M1526.4 1103.2h0M1527.2 1091.4h0M1528 1101.5h0M1528.9 1105.4h0M1529.7 1108.4h0M1530.5 1098.1h0M1531.3 1104.2h0M1532.1 1098.6h0M1532.9 1092.1h0M1533.8 1099.4h0M1534.6 1093.6h0M1535.4 1090.4h0M1536.2 1107.8h0M1537 1103.3h0M1537.8 1095.3h0M1538.7 1085.2h0M1539.5 1094.2h0M1540.3 1088.7h0M1541.1 1091.1h0M1541.9 1086.6h0M1542.7 1088.9h0M1543.6 1078.7h0M1544.4 1087.5h0M1545.2 1088.4h0M1546 1107.5h0M1546.8 1079.1h0M1547.6 1105.5h0M1548.5 1106.2h0M1549.3 1091.4h0M1550.1 1087.7h0M1550.9 1100h0M1551.7 1078h0M1552.5 1083.2h0M1553.4 1094.6h0M1554.2 1100.3h0M1555 1104.1h0M1555.8 1093.4h0M1556.6 1093.3h0M1557.4 1092h0M1558.3 1097h0M1559.1 1070.3h0M1559.9 1082.9h0M1560.7 1086.1h0M1561.5 1076.4h0M1562.3 1077.6h0M1563.2 1088.8h0M1564 1074.7h0M1564.8 1073.6h0M1565.6 1095.6h0M1566.4 1075.9h0M1567.2 1069.2h0M1568.1 1061.2h0M1568.9 1070.7h0M1569.7 1064.8h0M1570.5 1069.3h0M1571.3 1079.1h0M1572.1 1066.8h0M1573 1077.2h0M1573.8 1080.7h0M1574.6 1085.6h0M1575.4 1090.8h0M1576.2 1087.1h0M1577 1082.5h0M1577.9 1079.5h0M1578.7 1076.5h0M1579.5 1072.2h0M1580.3 1059.3h0M1581.1 1080.7h0M1581.9 1071.3h0M1582.8 1083h0M1583.6 1062.6h0M1585.2 1067.7h0M1586 1075.7h0M1586.9 1066.1h0M1587.7 1066.1h0M1588.5 1078.6h0M1589.3 1069.6h0M1590.1 1077.9h0M1590.9 1072.1h0M1591.8 1071.7h0M1592.6 1097.3h0M1593.4 1044.6h0M1594.2 1085.7h0M1595 1059.7h0M1595.8 1059.9h0M1596.7 1080.9h0M1598.3 1074.6h0M1599.1 1081.5h0M1599.9 1074h0M1600.7 1063h0M1601.6 1075.9h0M1602.4 1069.9h0M1603.2 1085.3h0M1604 1076.8h0M1604.8 1081.8h0M1605.6 1054.8h0M1606.5 1079.7h0M1607.3 1080h0M1608.1 1082.8h0M1608.9 1069.6h0M1609.7 1082.3h0M1610.5 1088.6h0M1611.4 1077.3h0M1612.2 1077.4h0M1613 1084h0M1613.8 1089.9h0M1614.6 1082.4h0M1615.4 1091.5h0M1616.3 1095h0M1617.1 1083.9h0M1617.9 1075.7h0M1618.7 1084.5h0M1619.5 1087.9h0M1620.3 1084.8h0M1621.2 1075.9h0M1622 1076.7h0M1622.8 1065.5h0M1623.6 1070.2h0M1624.4 1066.9h0M1625.2 1068.3h0M1626.1 1069.7h0M1626.9 1066.2h0M1627.7 1067.8h0M1628.5 1065.2h0M1629.3 1057.2h0M1630.1 1061.6h0M1631 1067.6h0M1631.8 1060.8h0M1632.6 1094.9h0M1633.4 1082.8h0M1634.2 1070.9h0M1635 1069.4h0M1635.9 1070h0M1636.7 1055.2h0M1637.5 1063.7h0M1638.3 1051h0M1639.1 1067.6h0M1639.9 1071.4h0M1640.8 1064.6h0M1642.4 1061.6h0M1643.2 1068h0M1644 1054.6h0M1644.8 1069.7h0M1645.7 1052.3h0M1646.5 1048.6h0M1647.3 1057.6h0M1648.1 1062.3h0M1648.9 1052.5h0M1649.7 1055.6h0M1650.6 1060.1h0M1651.4 1052.4h0M1652.2 1068.7h0M1653 1054.4h0M1653.8 1056.9h0M1654.6 1048.3h0M1655.5 1036.1h0M1656.3 1053.2h0M1657.9 1037.3h0M1658.7 1039h0M1659.5 1025.9h0M1661.2 1041.8h0M1662 1042h0M1662.8 1022.3h0M1663.6 1053.5h0M1664.4 1022.4h0M1665.3 1033.4h0M1666.1 1029.4h0M1666.9 1033.2h0M1667.7 1012.1h0M1668.5 1041.6h0M1669.3 1028.6h0M1670.2 1032.7h0M1671 1044.9h0M1671.8 1026.7h0M1672.6 1035.6h0M1673.4 1034.3h0M1674.2 1034.4h0M1675.1 1024.5h0M1675.9 1034.5h0M1676.7 1020.1h0M1677.5 1025.9h0M1678.3 1036.6h0M1679.2 1023h0M1680 1009.1h0M1681.6 1003.1h0M1682.4 1006.8h0M1683.2 1012.8h0M1684.1 1004.9h0M1684.9 1009.7h0M1685.7 987.1h0M1686.5 1010.4h0M1687.3 1019h0M1688.1 995.8h0M1689 1006.8h0M1689.8 1019.5h0M1690.6 1013.1h0M1691.4 1008.8h0M1692.2 1009.7h0M1693 1011.8h0M1693.9 1018.7h0M1694.7 1029.9h0M1695.5 1017.8h0M1696.3 1011.3h0M1697.1 1025.9h0M1697.9 1020.1h0M1698.8 1018.2h0M1699.6 1016.8h0M1700.4 1012.9h0M1701.2 1004.3h0M1702 1021.5h0M1702.8 1002.1h0M1703.7 998.2h0M1704.5 999.9h0M1705.3 1006.9h0M1706.1 1009.9h0M1706.9 1007.8h0M1707.7 1014.3h0M1708.6 977.9h0M1709.4 1007.9h0M1710.2 993.5h0M1711 1009.7h0M1711.8 973.3h0M1712.6 990.7h0M1713.5 1016.7h0M1714.3 988.4h0M1715.1 1003.8h0M1715.9 992.4h0M1716.7 998.8h0M1717.5 983.2h0M1718.4 990.2h0M1719.2 1006.8h0M1720 999.2h0M1720.8 982.3h0M1721.6 984.5h0M1722.4 980.5h0M1723.3 993.5h0M1724.1 987.5h0M1724.9 982.5h0M1725.7 979h0M1726.5 982.5h0M1727.3 979h0M1728.2 977.4h0M1729 976h0M1729.8 961.9h0M1730.6 969.2h0M1731.4 966.6h0M1732.2 977.2h0M1733.1 971.1h0M1733.9 976.7h0M1734.7 976.6h0M1735.5 964.7h0M1736.3 972.7h0M1737.1 970.3h0M1738 977.4h0M1738.8 968.7h0M1739.6 975.8h0M1740.4 963.2h0M1741.2 975.7h0M1742 970.9h0M1742.9 964.2h0M1743.7 957.1h0M1744.5 955.4h0M1745.3 986.8h0M1746.1 960.9h0M1746.9 977.4h0M1747.8 965.1h0M1748.6 969.9h0M1749.4 973.3h0M1750.2 967.3h0M1751 974.2h0M1751.8 961.7h0M1752.7 975.1h0M1753.5 987.7h0M1754.3 964.1h0M1755.1 969.9h0M1755.9 970h0M1756.7 967.4h0M1757.6 966.7h0M1758.4 958.7h0M1759.2 962.3h0M1760 955h0M1760.8 954.1h0M1761.6 963.2h0M1762.5 953.9h0M1763.3 954.2h0M1764.1 948.9h0M1764.9 965.9h0M1765.7 952.1h0M1766.5 970.5h0M1767.4 977h0M1768.2 961h0M1769 962.5h0M1769.8 974.4h0M1770.6 955.4h0M1771.4 957.5h0M1772.3 968.2h0M1773.1 964.7h0M1773.9 994.5h0M1774.7 957.7h0M1775.5 950.2h0M1776.4 966.8h0M1777.2 964.2h0M1778 952.9h0M1778.8 976.9h0M1779.6 963.6h0M1780.4 980.9h0M1781.3 948h0M1782.1 949.4h0M1782.9 960.5h0M1783.7 959.6h0M1784.5 979.5h0M1785.3 973.8h0M1786.2 979.7h0M1787 954.6h0M1787.8 976.5h0M1788.6 983.1h0M1789.4 981.9h0M1790.2 979.1h0M1791.1 975.4h0M1791.9 998.2h0M1792.7 976.7h0M1793.5 973.6h0M1794.3 966.7h0M1795.1 969.7h0M1796 975.2h0M1796.8 965.1h0M1797.6 985.7h0M1798.4 973.6h0M1799.2 986.2h0M1800 967.1h0M1800.9 992.4h0M1801.7 967.7h0M1802.5 982.1h0M1803.3 988.2h0M1804.1 1000.6h0M1804.9 969.5h0M1805.8 990.1h0M1806.6 1009.8h0M1807.4 977h0M1808.2 974.8h0M1809 976.1h0M1809.8 987.9h0M1810.7 973.8h0M1811.5 972h0M1812.3 987.4h0M1813.1 986.4h0M1813.9 975h0M1814.7 982.5h0M1815.6 964.1h0M1816.4 971.6h0M1817.2 975.1h0M1818 975.3h0M1819.6 981h0M1820.5 955.1h0M1821.3 966.9h0M1822.1 963.9h0M1822.9 982.7h0M1823.7 988.5h0M1824.5 972h0M1825.4 958h0M1826.2 962h0M1827 980.1h0M1827.8 989.4h0M1828.6 970.3h0M1829.4 984.6h0M1830.3 976.5h0M1831.1 978.6h0M1831.9 998.3h0M1832.7 1001.8h0M1833.5 989.9h0M1834.3 987.5h0M1835.2 985.2h0M1836 981.5h0M1836.8 983.8h0M1837.6 1010.4h0M1838.4 989.4h0M1839.2 989.5h0M1840.1 990.7h0M1840.9 980.7h0M1841.7 984h0M1842.5 992.7h0M1843.3 983.8h0M1844.1 973.2h0M1845 989.2h0M1845.8 984.4h0M1846.6 976.6h0M1847.4 982.5h0M1849 986h0M1849.9 991h0M1850.7 988.4h0M1851.5 991.7h0" stroke="#00f" stroke-width="12.5" stroke-linecap="round" fill="none"/>
<path d="M258.8 1529.5 L261.3 1529.2 L263.7 1529.1 L266.2 1529.1 L268.6 1529.1 L271.1 1529.3 L273.6 1529.5 L276 1529.8 L278.5 1530.2 L280.9 1530.6 L283.4 1531 L285.9 1531.5 L288.3 1532 L290.8 1532.5 L293.2 1533 L295.7 1533.4 L298.2 1533.9 L300.6 1534.3 L303.1 1534.6 L305.5 1534.9 L308 1535.1 L310.5 1535.3 L312.9 1535.4 L315.4 1535.4 L317.8 1535.3 L320.3 1535.1 L322.8 1534.8 L325.2 1534.5 L327.7 1534 L330.1 1533.4 L332.6 1532.8 L335.1 1532.1 L337.5 1531.2 L340 1530.4 L342.4 1529.4 L344.9 1528.3 L347.4 1527.3 L349.8 1526.1 L352.3 1524.9 L354.7 1523.7 L357.2 1522.4 L359.7 1521.1 L362.1 1519.8 L364.6 1518.5 L367 1517.2 L369.5 1516 L372 1514.7 L374.4 1513.5 L376.9 1512.3 L379.3 1511.1 L381.8 1510 L384.3 1508.9 L386.7 1507.9 L389.2 1507 L391.6 1506.1 L394.1 1505.2 L396.6 1504.5 L399 1503.8 L401.5 1503.1 L403.9 1502.5 L406.4 1501.9 L408.9 1501.4 L411.3 1501 L413.8 1500.5 L416.2 1500.1 L418.7 1499.8 L421.2 1499.4 L423.6 1499 L426.1 1498.6 L428.5 1498.3 L431 1497.9 L433.5 1497.4 L435.9 1496.9 L438.4 1496.4 L440.8 1495.8 L443.3 1495.2 L445.8 1494.5 L448.2 1493.6 L450.7 1492.8 L453.1 1491.8 L455.6 1490.7 L458.1 1489.5 L460.5 1488.2 L463 1486.8 L465.4 1485.3 L467.9 1483.7 L470.4 1482 L472.8 1480.2 L475.3 1478.3 L477.7 1476.3 L480.2 1474.2 L482.7 1472 L485.1 1469.7 L487.6 1467.4 L490 1465 L492.5 1462.6 L495 1460.1 L497.4 1457.6 L499.9 1455.1 L502.3 1452.5 L504.8 1450 L507.3 1447.5 L509.7 1445 L512.2 1442.6 L514.6 1440.2 L517.1 1437.9 L519.6 1435.6 L522 1433.5 L524.5 1431.4 L526.9 1429.5 L529.4 1427.6 L531.9 1425.9 L534.3 1424.3 L536.8 1422.8 L539.2 1421.4 L541.7 1420.2 L544.2 1419.1 L546.6 1418.2 L549.1 1417.4 L551.5 1416.7 L554 1416.2 L554 1414.5 L556.5 1414.1 L558.9 1413.8 L561.4 1413.6 L563.8 1413.6 L566.3 1413.6 L568.7 1413.7 L571.2 1413.9 L573.6 1414.2 L576.1 1414.6 L578.5 1415 L581 1415.4 L583.4 1415.9 L585.9 1416.4 L588.3 1416.9 L590.8 1417.3 L593.3 1417.8 L595.7 1418.3 L598.2 1418.7 L600.6 1419 L603.1 1419.3 L605.5 1419.6 L608 1419.8 L610.4 1419.9 L612.9 1419.9 L615.3 1419.8 L617.8 1419.7 L620.2 1419.4 L622.7 1419.1 L625.1 1418.7 L627.6 1418.2 L630 1417.6 L632.5 1416.9 L635 1416.1 L637.4 1415.2 L639.9 1414.3 L642.3 1413.3 L644.8 1412.2 L647.2 1411.1 L649.7 1409.9 L652.1 1408.7 L654.6 1407.4 L657 1406.2 L659.5 1404.9 L661.9 1403.6 L664.4 1402.3 L666.8 1401 L669.3 1399.7 L671.7 1398.5 L674.2 1397.3 L676.7 1396.1 L679.1 1395 L681.6 1393.9 L684 1392.9 L686.5 1391.9 L688.9 1391 L691.4 1390.1 L693.8 1389.3 L696.3 1388.6 L698.7 1387.9 L701.2 1387.3 L703.6 1386.7 L706.1 1386.2 L708.5 1385.7 L711 1385.3 L713.4 1384.8 L715.9 1384.4 L718.4 1384.1 L720.8 1383.7 L723.3 1383.3 L725.7 1383 L728.2 1382.6 L730.6 1382.2 L733.1 1381.7 L735.5 1381.2 L738 1380.6 L740.4 1380 L742.9 1379.3 L745.3 1378.6 L747.8 1377.7 L750.2 1376.8 L752.7 1375.8 L755.1 1374.6 L757.6 1373.4 L760.1 1372.1 L762.5 1370.6 L765 1369.1 L767.4 1367.4 L769.9 1365.7 L772.3 1363.8 L774.8 1361.9 L777.2 1359.8 L779.7 1357.7 L782.1 1355.5 L784.6 1353.2 L787 1350.8 L789.5 1348.4 L791.9 1346 L794.4 1343.5 L796.8 1341 L799.3 1338.5 L801.8 1335.9 L804.2 1333.4 L806.7 1331 L809.1 1328.5 L811.6 1326.1 L814 1323.7 L816.5 1321.5 L818.9 1319.3 L821.4 1317.1 L823.8 1315.1 L826.3 1313.2 L828.7 1311.4 L831.2 1309.7 L833.6 1308.2 L836.1 1306.7 L838.5 1305.5 L841 1304.3 L843.5 1303.3 L845.9 1302.4 L848.4 1301.6 L850.8 1301 L853.3 1300.5 L855.7 1300.2 L858.2 1299.9 L860.6 1299.8 L863.1 1299.8 L865.5 1299.8 L868 1300 L870.4 1300.2 L872.9 1300.5 L875.3 1300.9 L877.8 1301.3 L880.2 1301.8 L882.7 1302.2 L885.2 1302.7 L887.6 1303.2 L890.1 1303.7 L892.5 1304.2 L895 1304.6 L897.4 1305 L899.9 1305.3 L902.3 1305.6 L904.8 1305.9 L907.2 1306 L909.7 1306.1 L912.1 1306.1 L914.6 1306 L917 1305.8 L919.5 1305.5 L922 1305.2 L924.4 1304.7 L926.9 1304.1 L929.3 1303.5 L931.8 1302.8 L934.2 1301.9 L936.7 1301.1 L939.1 1300.1 L941.6 1299.1 L944 1298 L946.5 1296.8 L948.9 1295.6 L951.4 1294.4 L953.8 1293.1 L956.3 1291.9 L958.7 1290.6 L961.2 1289.3 L963.7 1288 L966.1 1286.7 L968.6 1285.4 L971 1284.2 L973.5 1283 L975.9 1281.9 L978.4 1280.8 L980.8 1279.7 L983.3 1278.7 L985.7 1277.7 L988.2 1276.8 L990.6 1276 L993.1 1275.2 L995.5 1274.5 L998 1273.9 L1000.4 1273.2 L1002.9 1272.7 L1005.4 1272.2 L1007.8 1271.7 L1010.3 1271.3 L1012.7 1270.9 L1015.2 1270.5 L1017.6 1270.1 L1020.1 1269.8 L1022.5 1269.4 L1025 1269 L1027.4 1268.6 L1029.9 1268.2 L1032.3 1267.7 L1034.8 1267.2 L1037.2 1266.6 L1039.7 1266 L1042.1 1265.3 L1044.6 1264.5 L1047.1 1263.6 L1049.5 1262.6 L1052 1261.5 L1054.4 1260.4 L1056.9 1259.1 L1059.3 1257.7 L1061.8 1256.3 L1064.2 1254.7 L1066.7 1253 L1069.1 1251.2 L1071.6 1249.3 L1074 1247.3 L1076.5 1245.2 L1078.9 1243.1 L1081.4 1240.8 L1083.8 1238.5 L1086.3 1236.1 L1088.8 1233.7 L1091.2 1231.2 L1093.7 1228.7 L1096.1 1226.2 L1098.6 1223.7 L1101 1221.2 L1103.5 1218.7 L1105.9 1216.2 L1108.4 1213.8 L1110.8 1211.4 L1113.3 1209.1 L1115.7 1206.8 L1118.2 1204.6 L1120.6 1202.6 L1123.1 1200.6 L1125.5 1198.7 L1128 1196.9 L1130.5 1195.3 L1132.9 1193.8 L1135.4 1192.4 L1137.8 1191.2 L1140.3 1190.1 L1142.7 1189.1 L1145.2 1188.3 L1147.6 1187.6 L1150.1 1187 L1152.5 1186.6 L1155 1186.3 L1157.4 1186.1 L1159.9 1186 L1162.3 1186 L1164.8 1186.1 L1167.2 1186.3 L1169.7 1186.5 L1172.2 1186.9 L1174.6 1187.3 L1177.1 1187.7 L1179.5 1188.1 L1182 1188.6 L1184.4 1189.1 L1186.9 1189.6 L1189.3 1190.1 L1191.8 1190.5 L1194.2 1190.9 L1196.7 1191.3 L1199.1 1191.7 L1201.6 1191.9 L1204 1192.1 L1206.5 1192.2 L1208.9 1192.3 L1211.4 1192.2 L1213.9 1192.1 L1216.3 1191.9 L1218.8 1191.6 L1221.2 1191.2 L1223.7 1190.7 L1226.1 1190.1 L1228.6 1189.4 L1231 1188.7 L1233.5 1187.8 L1235.9 1186.9 L1238.4 1185.9 L1240.8 1184.8 L1243.3 1183.7 L1245.7 1182.6 L1248.2 1181.4 L1250.7 1180.1 L1253.1 1178.8 L1255.6 1177.6 L1258 1176.3 L1260.5 1175 L1262.9 1173.7 L1265.4 1172.4 L1267.8 1171.2 L1270.3 1170 L1272.7 1168.8 L1275.2 1167.6 L1277.6 1166.5 L1280.1 1165.5 L1282.5 1164.5 L1285 1163.6 L1287.4 1162.7 L1289.9 1161.9 L1292.4 1161.1 L1294.8 1160.5 L1297.3 1159.8 L1299.7 1159.2 L1302.2 1158.7 L1304.6 1158.2 L1307.1 1157.7 L1309.5 1157.3 L1312 1156.9 L1314.4 1156.5 L1316.9 1156.2 L1319.3 1155.8 L1321.8 1155.4 L1324.2 1155.1 L1326.7 1154.6 L1329.1 1154.2 L1331.6 1153.7 L1334.1 1153.2 L1336.5 1152.6 L1339 1151.9 L1341.4 1151.2 L1343.9 1150.3 L1346.3 1149.4 L1348.8 1148.4 L1351.2 1147.3 L1353.7 1146.1 L1356.1 1144.8 L1358.6 1143.4 L1361 1141.9 L1363.5 1140.2 L1365.9 1138.5 L1368.4 1136.7 L1370.8 1134.7 L1373.3 1132.7 L1375.8 1130.6 L1378.2 1128.4 L1380.7 1126.1 L1383.1 1123.8 L1385.6 1121.4 L1388 1119 L1390.5 1116.5 L1392.9 1114 L1395.4 1111.5 L1397.8 1109 L1400.3 1106.4 L1402.7 1103.9 L1405.2 1101.5 L1407.6 1099.1 L1410.1 1096.7 L1412.5 1094.4 L1415 1092.2 L1417.5 1090 L1419.9 1088 L1422.4 1086 L1424.8 1084.2 L1427.3 1082.5 L1429.7 1080.9 L1432.2 1079.5 L1434.6 1078.1 L1437.1 1076.9 L1439.5 1075.9 L1442 1075 L1444.4 1074.2 L1446.9 1073.5 L1449.3 1073 L1451.8 1072.6 L1454.2 1072.4 L1456.7 1072.2 L1459.2 1072.1 L1461.6 1072.2 L1464.1 1072.3 L1466.5 1072.6 L1469 1072.8 L1471.4 1073.2 L1473.9 1073.6 L1476.3 1074 L1478.8 1074.5 L1481.2 1075 L1483.7 1075.5 L1486.1 1076 L1488.6 1076.4 L1491 1076.9 L1493.5 1077.3 L1495.9 1077.6 L1498.4 1077.9 L1500.9 1078.2 L1503.3 1078.4 L1505.8 1078.5 L1508.2 1078.5 L1510.7 1078.4 L1513.1 1078.2 L1515.6 1078 L1518 1077.6 L1520.5 1077.2 L1522.9 1076.7 L1525.4 1076 L1527.8 1075.3 L1530.3 1074.5 L1532.7 1073.7 L1535.2 1072.7 L1537.7 1071.7 L1540.1 1070.6 L1542.6 1069.5 L1545 1068.3 L1547.5 1067.1 L1549.9 1065.8 L1552.4 1064.6 L1554.8 1063.3 L1557.3 1062 L1559.7 1060.7 L1562.2 1059.4 L1564.6 1058.1 L1567.1 1056.9 L1569.5 1055.7 L1572 1054.5 L1574.4 1053.4 L1576.9 1052.3 L1579.4 1051.3 L1581.8 1050.3 L1584.3 1049.4 L1586.7 1048.6 L1589.2 1047.8 L1591.6 1047.1 L1594.1 1046.4 L1596.5 1045.8 L1599 1045.2 L1601.4 1044.7 L1603.9 1044.2 L1606.3 1043.8 L1608.8 1043.4 L1611.2 1043 L1613.7 1042.6 L1616.1 1042.2 L1618.6 1041.9 L1621.1 1041.5 L1623.5 1041.1 L1626 1040.7 L1628.4 1040.2 L1630.9 1039.7 L1633.3 1039.1 L1635.8 1038.5 L1638.2 1037.8 L1640.7 1037 L1643.1 1036.2 L1645.6 1035.2 L1648 1034.2 L1650.5 1033.1 L1652.9 1031.8 L1655.4 1030.5 L1657.8 1029 L1660.3 1027.5 L1662.8 1025.8 L1665.2 1024 L1667.7 1022.2 L1670.1 1020.2 L1672.6 1018.1 L1675 1016 L1677.5 1013.8 L1679.9 1011.5 L1682.4 1009.1 L1684.8 1006.7 L1687.3 1004.2 L1689.7 1001.7 L1692.2 999.2 L1694.6 996.7 L1697.1 994.2 L1699.5 991.7 L1702 989.2 L1704.5 986.8 L1706.9 984.4 L1709.4 982 L1711.8 979.7 L1714.3 977.5 L1716.7 975.4 L1719.2 973.4 L1721.6 971.5 L1724.1 969.8 L1726.5 968.1 L1729 966.5 L1731.4 965.1 L1733.9 963.9 L1736.3 962.7 L1738.8 961.7 L1741.2 960.9 L1743.7 960.1 L1746.2 959.5 L1748.6 959 L1751.1 958.7 L1753.5 958.5 L1756 958.4 L1758.4 958.3 L1760.9 958.4 L1763.3 958.6 L1765.8 958.8 L1768.2 959.2 L1770.7 959.5 L1773.1 960 L1775.6 960.4 L1778 960.9 L1780.5 961.4 L1782.9 961.9 L1785.4 962.3 L1787.9 962.8 L1790.3 963.2 L1792.8 963.6 L1795.2 964 L1797.7 964.2 L1800.1 964.5 L1802.6 964.6 L1805 964.7 L1807.5 964.6 L1809.9 964.5 L1812.4 964.3 L1814.8 964.1 L1817.3 963.7 L1819.7 963.2 L1822.2 962.6 L1824.6 962 L1827.1 961.2 L1829.6 960.4 L1832 959.5 L1834.5 958.5 L1836.9 957.5 L1839.4 956.4 L1841.8 955.2 L1844.3 954 L1846.7 952.8 L1849.2 951.5 L1851.6 950.3" stroke="#f00" stroke-width="7.2" stroke-linejoin="miter" fill="none"/>
</g>
<text class="b" font-size="35.5" text-anchor="end" transform="translate(1817.2 1555.9) scale(1 1.04)">13.516+/- 0.384 mm/yr</text>
<clipPath id="c2"><rect x="226" y="1751" width="1657.5" height="638"/></clipPath>
<rect x="226" y="1751" width="1657.5" height="638" fill="none" stroke="#000" stroke-width="5.9"/>
<path d="M257.9 1751v-19M257.9 2389v19M332.5 1751v-9.8M332.5 2389v9.8M407.1 1751v-9.8M407.1 2389v9.8M481.7 1751v-9.8M481.7 2389v9.8M556.2 1751v-19M556.2 2389v19M630.8 1751v-9.8M630.8 2389v9.8M705.4 1751v-9.8M705.4 2389v9.8M780 1751v-9.8M780 2389v9.8M854.6 1751v-19M854.6 2389v19M929.2 1751v-9.8M929.2 2389v9.8M1003.7 1751v-9.8M1003.7 2389v9.8M1078.3 1751v-9.8M1078.3 2389v9.8M1152.9 1751v-19M1152.9 2389v19M1227.5 1751v-9.8M1227.5 2389v9.8M1302.1 1751v-9.8M1302.1 2389v9.8M1376.7 1751v-9.8M1376.7 2389v9.8M1451.3 1751v-19M1451.3 2389v19M1525.8 1751v-9.8M1525.8 2389v9.8M1600.4 1751v-9.8M1600.4 2389v9.8M1675 1751v-9.8M1675 2389v9.8M1749.6 1751v-19M1749.6 2389v19M1824.2 1751v-9.8M1824.2 2389v9.8M226 2278.5h-19M1883.5 2278.5h19M226 2138.5h-19M1883.5 2138.5h19M226 1998.4h-19M1883.5 1998.4h19M226 1858.4h-19M1883.5 1858.4h19" stroke="#000" stroke-width="2.15" fill="none"/>
<text class="b" font-size="42.9" text-anchor="middle" transform="translate(257.9 2454.8) scale(1 1.045)">2020</text>
<text class="b" font-size="42.9" text-anchor="middle" transform="translate(556.2 2454.8) scale(1 1.045)">2021</text>
<text class="b" font-size="42.9" text-anchor="middle" transform="translate(854.6 2454.8) scale(1 1.045)">2022</text>
<text class="b" font-size="42.9" text-anchor="middle" transform="translate(1152.9 2454.8) scale(1 1.045)">2023</text>
<text class="b" font-size="42.9" text-anchor="middle" transform="translate(1451.3 2454.8) scale(1 1.045)">2024</text>
<text class="b" font-size="42.9" text-anchor="middle" transform="translate(1749.6 2454.8) scale(1 1.045)">2025</text>
<text class="b" font-size="42.9" text-anchor="end" transform="translate(190.6 2293.9) scale(1 1.045)">0</text>
<text class="b" font-size="42.9" text-anchor="end" transform="translate(190.6 2153.9) scale(1 1.045)">30</text>
<text class="b" font-size="42.9" text-anchor="end" transform="translate(190.6 2013.8) scale(1 1.045)">60</text>
<text class="b" font-size="42.9" text-anchor="end" transform="translate(190.6 1873.8) scale(1 1.045)">90</text>
<text font-size="42.7" text-anchor="middle" transform="translate(116.2 2070) rotate(-90) scale(1 1.04)">Up (mm)</text>
<g clip-path="url(#c2)">
<path d="M554.4 2389 V1751" stroke="#cbcbcb" stroke-width="4.3" stroke-dasharray="28.8 13.7" fill="none"/>
<path d="M257.9 2243h0M258.7 2306.1h0M259.5 2288.7h0M260.4 2214h0M261.2 2305.7h0M262 2300.9h0M262.8 2213.7h0M263.6 2249.2h0M264.4 2298.7h0M265.3 2237.1h0M266.1 2268.9h0M266.9 2287.5h0M267.7 2282.2h0M268.5 2259h0M269.3 2287.9h0M270.2 2304.4h0M271 2264h0M271.8 2334.8h0M272.6 2298.3h0M273.4 2282.3h0M274.2 2243.5h0M275.1 2250h0M275.9 2250.2h0M276.7 2289.4h0M277.5 2247.2h0M278.3 2300h0M279.1 2290h0M280 2254.1h0M280.8 2270h0M281.6 2303.7h0M282.4 2251.5h0M283.2 2221h0M284 2254.8h0M284.9 2275h0M285.7 2291.2h0M286.5 2283.8h0M287.3 2331.7h0M288.1 2296.3h0M288.9 2278.9h0M289.8 2297.8h0M290.6 2297.1h0M291.4 2274.5h0M292.2 2285.4h0M293 2282.1h0M293.8 2271.7h0M294.7 2266.1h0M295.5 2242.2h0M296.3 2264.4h0M297.1 2245h0M297.9 2283h0M298.7 2270.7h0M299.6 2242.7h0M300.4 2267.6h0M301.2 2257.9h0M302 2236.6h0M302.8 2254.1h0M303.6 2269.9h0M304.5 2302.5h0M305.3 2270.7h0M306.1 2285.4h0M306.9 2300.8h0M307.7 2294h0M308.5 2276.7h0M309.4 2284.8h0M310.2 2266.7h0M311 2264.4h0M311.8 2272.5h0M312.6 2278.2h0M313.4 2295.1h0M314.3 2286.7h0M315.1 2291.7h0M315.9 2221.5h0M316.7 2268h0M317.5 2274.8h0M318.3 2252.6h0M319.2 2231h0M320 2285.8h0M320.8 2317.2h0M321.6 2257h0M322.4 2280.8h0M323.2 2310.9h0M324.1 2273.4h0M324.9 2274.6h0M325.7 2260.8h0M326.5 2277.7h0M327.3 2297.4h0M328.1 2301.5h0M329 2279.1h0M329.8 2301.2h0M330.6 2260.9h0M331.4 2273.5h0M332.2 2288.2h0M333 2287.4h0M333.9 2302h0M334.7 2278.3h0M335.5 2244.3h0M336.3 2305h0M337.1 2321.9h0M337.9 2296.8h0M338.8 2282.1h0M339.6 2275.7h0M340.4 2285.4h0M341.2 2257h0M342.8 2273.3h0M343.7 2251.8h0M344.5 2283.6h0M346.1 2315.1h0M346.9 2285.3h0M347.7 2312h0M348.6 2273.3h0M349.4 2275.3h0M351 2270.7h0M351.8 2285.3h0M352.7 2268.2h0M353.5 2266.4h0M354.3 2275.5h0M355.1 2295h0M355.9 2282.6h0M356.7 2273.1h0M357.6 2309.4h0M358.4 2280.6h0M359.2 2294h0M360 2284.4h0M360.8 2299h0M361.6 2279.2h0M362.5 2272h0M363.3 2286.1h0M364.1 2289.1h0M364.9 2294h0M365.7 2298.3h0M366.5 2299.7h0M367.4 2269.8h0M368.2 2310h0M369 2300.7h0M369.8 2284.8h0M370.6 2289.5h0M371.4 2289.3h0M372.3 2312.7h0M373.1 2262.7h0M374.7 2295.3h0M375.5 2257.4h0M376.3 2271h0M377.2 2307.3h0M378 2255.9h0M378.8 2275.5h0M379.6 2263.8h0M380.4 2272.7h0M381.2 2261.1h0M382.1 2273.8h0M382.9 2248.7h0M383.7 2298.6h0M384.5 2285.4h0M385.3 2277.5h0M386.1 2261.8h0M387 2273.1h0M387.8 2265.1h0M388.6 2279.1h0M390.2 2259.1h0M391 2283.1h0M392.7 2287.3h0M393.5 2272.1h0M394.3 2229.7h0M395.1 2268h0M395.9 2274.7h0M396.8 2263.9h0M397.6 2276.6h0M398.4 2278.1h0M399.2 2265.1h0M400 2271.2h0M400.8 2260h0M401.7 2285.3h0M402.5 2244h0M403.3 2241.9h0M404.1 2279.3h0M404.9 2235.8h0M405.7 2267h0M406.6 2262.6h0M407.4 2283.3h0M408.2 2247.8h0M409 2246.5h0M409.8 2259.6h0M410.6 2258.7h0M411.5 2244.1h0M412.3 2239.2h0M413.1 2255.4h0M413.9 2266.6h0M414.7 2220.7h0M415.5 2269.8h0M416.4 2265.5h0M417.2 2251.9h0M418 2244.6h0M418.8 2251h0M419.6 2226.2h0M420.4 2262.1h0M421.3 2255.3h0M422.1 2254.5h0M422.9 2263.4h0M423.7 2234.1h0M424.5 2273.7h0M425.3 2253.7h0M426.2 2254.8h0M427 2258.8h0M427.8 2260.5h0M428.6 2267.8h0M429.4 2256.1h0M430.2 2259h0M431.1 2238.4h0M431.9 2245.6h0M432.7 2227.9h0M433.5 2256.1h0M434.3 2245.5h0M435.1 2248.4h0M436 2258.3h0M436.8 2242.8h0M437.6 2271h0M438.4 2226.4h0M439.2 2274.7h0M440 2272.4h0M440.9 2249.1h0M441.7 2262.5h0M442.5 2270.8h0M443.3 2239.1h0M444.9 2263.2h0M445.8 2256.2h0M446.6 2242.5h0M447.4 2210.2h0M448.2 2260.3h0M449 2264.3h0M449.9 2278.3h0M450.7 2262.3h0M451.5 2213.1h0M452.3 2231.5h0M453.1 2223.5h0M453.9 2260.5h0M454.8 2243.9h0M455.6 2250.8h0M456.4 2240.2h0M457.2 2218.5h0M458 2251.9h0M458.8 2214.9h0M459.7 2209.6h0M460.5 2224.9h0M461.3 2251h0M462.1 2267.8h0M462.9 2249.1h0M463.7 2247.4h0M464.6 2252.2h0M465.4 2260.3h0M466.2 2265.4h0M467 2230.5h0M467.8 2233.8h0M468.6 2302.1h0M469.5 2209.6h0M470.3 2209.4h0M471.1 2235.6h0M471.9 2233.2h0M472.7 2227.8h0M473.5 2277.6h0M474.4 2265.9h0M475.2 2234.1h0M476 2297.2h0M476.8 2244.7h0M477.6 2255.5h0M478.4 2240.3h0M479.3 2237.8h0M480.1 2262.3h0M480.9 2280.3h0M481.7 2273.2h0M483.3 2252.8h0M484.2 2298.5h0M485 2233.5h0M485.8 2254.1h0M486.6 2246.4h0M487.4 2257.5h0M488.2 2255.2h0M489.1 2245.1h0M489.9 2236.1h0M490.7 2263.3h0M491.5 2310.6h0M492.3 2266.2h0M493.1 2261.2h0M494 2248.4h0M494.8 2272.7h0M495.6 2272.8h0M496.4 2317.4h0M497.2 2263.7h0M498 2319.1h0M498.9 2262.9h0M499.7 2287.3h0M500.5 2291.3h0M501.3 2273.6h0M502.1 2236h0M502.9 2286.9h0M503.8 2292h0M504.6 2306.9h0M505.4 2309.1h0M506.2 2336.3h0M507 2277.9h0M507.8 2320.2h0M508.7 2303.5h0M509.5 2308.6h0M510.3 2244.1h0M511.1 2300.7h0M511.9 2292.6h0M512.7 2291.5h0M513.6 2335.9h0M514.4 2277.1h0M515.2 2283.8h0M516 2293.1h0M516.8 2291.3h0M517.6 2266h0M518.5 2266.8h0M519.3 2284.2h0M520.1 2265.2h0M520.9 2291.7h0M521.7 2274.1h0M522.5 2260h0M523.4 2295.2h0M524.2 2293.3h0M525 2292.6h0M525.8 2283.4h0M526.6 2286.2h0M527.4 2272.6h0M528.3 2249.5h0M529.1 2274.2h0M529.9 2273.7h0M530.7 2271.8h0M531.5 2284.7h0M532.3 2307.2h0M533.2 2289.7h0M534 2283h0M534.8 2287.3h0M535.6 2259.1h0M536.4 2313.1h0M537.2 2281.7h0M538.1 2302.1h0M538.9 2298.7h0M539.7 2296.5h0M540.5 2309.7h0M542.2 2295.1h0M543 2272.9h0M543.8 2277.3h0M544.6 2233.4h0M545.4 2277.5h0M546.2 2272.1h0M547.1 2279.4h0M547.9 2240.6h0M548.7 2244.6h0M549.5 2273.3h0M550.3 2261.3h0M551.1 2273.6h0M552 2242.5h0M552.8 2233.3h0M553.6 2277.8h0M554.4 2268.4h0M555.2 2269.4h0M556 2274.2h0M556.9 2271.1h0M557.7 2262.9h0M558.5 2238.6h0M559.3 2269h0M560.1 2264h0M560.9 2255.7h0M561.8 2236.7h0M562.6 2253.7h0M563.4 2272.6h0M564.2 2277.5h0M565 2218.8h0M565.8 2280.3h0M566.7 2250.1h0M567.5 2283.3h0M568.3 2262h0M569.1 2246.2h0M569.9 2282.9h0M570.7 2234.9h0M572.4 2264h0M573.2 2271.3h0M574 2272.5h0M574.8 2268.7h0M575.6 2286.9h0M576.5 2234.6h0M577.3 2287.2h0M578.1 2291.6h0M578.9 2241.8h0M579.7 2244.4h0M580.5 2257.6h0M581.4 2249.1h0M582.2 2289.5h0M583 2285.5h0M583.8 2262.6h0M584.6 2265.6h0M585.4 2327.9h0M586.3 2267.5h0M587.1 2268.2h0M587.9 2339.1h0M588.7 2308.2h0M589.5 2276.2h0M590.3 2301.6h0M591.2 2263.4h0M592 2315.7h0M592.8 2353.9h0M593.6 2287.5h0M594.4 2316.9h0M595.2 2300.8h0M596.1 2285.6h0M596.9 2298.8h0M597.7 2291h0M598.5 2274.7h0M599.3 2299.6h0M600.1 2303.4h0M601 2309.5h0M601.8 2314.4h0M602.6 2305.1h0M603.4 2299.1h0M604.2 2286.1h0M605 2268.6h0M605.9 2297.5h0M607.5 2272.6h0M608.3 2295.5h0M609.9 2338.8h0M610.8 2273.6h0M611.6 2314.3h0M612.4 2281h0M613.2 2296.8h0M614 2317.8h0M614.8 2296.1h0M615.7 2293.3h0M616.5 2280.1h0M618.1 2284.9h0M618.9 2303.4h0M619.7 2298.2h0M620.6 2306.2h0M621.4 2322.6h0M622.2 2304.7h0M623 2336.1h0M623.8 2332.4h0M625.5 2259.3h0M626.3 2293.3h0M627.1 2291.8h0M627.9 2326.2h0M628.7 2299.3h0M629.5 2308h0M630.4 2267.9h0M631.2 2305h0M632 2327.6h0M632.8 2296.4h0M633.6 2276h0M634.4 2288.2h0M635.3 2294.9h0M636.1 2292.3h0M636.9 2293.2h0M637.7 2300.2h0M638.5 2280.3h0M639.4 2290.3h0M640.2 2286.2h0M641.8 2260.1h0M642.6 2295.4h0M643.4 2300.3h0M644.3 2269.6h0M645.1 2320.8h0M645.9 2286.1h0M646.7 2284.9h0M647.5 2298h0M648.3 2289.1h0M649.2 2313.9h0M650 2307h0M650.8 2249h0M651.6 2286.7h0M652.4 2303.1h0M653.2 2293.7h0M654.1 2296.6h0M654.9 2283.5h0M655.7 2274.5h0M656.5 2256.4h0M657.3 2310.1h0M658.1 2284.2h0M659 2279.9h0M659.8 2278h0M660.6 2268.4h0M661.4 2271.5h0M662.2 2287.2h0M663 2281.6h0M663.9 2244.1h0M664.7 2264.7h0M665.5 2254.9h0M666.3 2269.5h0M667.1 2270.9h0M667.9 2298.8h0M668.8 2254.2h0M670.4 2290.6h0M671.2 2265.8h0M672 2248.4h0M672.8 2273.3h0M673.7 2251.2h0M674.5 2294.2h0M675.3 2292.7h0M676.1 2231.4h0M676.9 2278.4h0M677.7 2263.8h0M678.6 2259.7h0M679.4 2257.6h0M680.2 2296.1h0M681 2261.3h0M681.8 2263h0M682.6 2288.8h0M683.5 2270.3h0M684.3 2251.6h0M685.1 2314h0M685.9 2274.9h0M686.7 2258.8h0M687.5 2308.7h0M688.4 2277.8h0M689.2 2273.4h0M690 2266.1h0M690.8 2283.6h0M691.6 2280.8h0M692.4 2273.4h0M693.3 2285.3h0M694.1 2267.1h0M694.9 2255.3h0M695.7 2248.9h0M696.5 2275.6h0M697.3 2270.2h0M698.2 2258.2h0M699.8 2273h0M700.6 2253.7h0M701.4 2240.8h0M702.2 2251.9h0M703.1 2235h0M703.9 2256.9h0M704.7 2261.3h0M705.5 2262.2h0M706.3 2224.3h0M707.1 2245.9h0M708 2262.1h0M709.6 2255.3h0M710.4 2247h0M711.2 2252h0M712 2263.3h0M712.9 2247.1h0M713.7 2244.2h0M714.5 2263.7h0M716.1 2237.9h0M716.9 2244.7h0M717.8 2230.8h0M718.6 2246.1h0M719.4 2255.7h0M720.2 2247.7h0M721 2237.9h0M721.8 2236.3h0M722.7 2248.7h0M723.5 2258.1h0M724.3 2249.9h0M725.1 2248.7h0M725.9 2266.5h0M726.7 2237.8h0M727.6 2239.4h0M728.4 2233.9h0M729.2 2266.6h0M730 2260.2h0M730.8 2241.1h0M731.7 2242.8h0M732.5 2223.8h0M733.3 2232.7h0M734.1 2242.4h0M734.9 2247.9h0M736.6 2262.8h0M737.4 2261.2h0M738.2 2219.8h0M739 2251.2h0M739.8 2241.7h0M741.5 2239.2h0M742.3 2236.4h0M743.1 2243h0M743.9 2243.9h0M744.7 2252.9h0M745.5 2238.5h0M746.4 2231h0M747.2 2243.6h0M748 2247.4h0M748.8 2245.9h0M749.6 2259.4h0M750.4 2240.1h0M751.3 2216.4h0M752.1 2250.8h0M752.9 2250.6h0M753.7 2247.7h0M754.5 2248.8h0M755.3 2237.1h0M756.2 2247.6h0M757 2250.1h0M757.8 2245.7h0M758.6 2231.2h0M759.4 2247.5h0M760.2 2237.9h0M761.1 2256.8h0M761.9 2256.2h0M762.7 2265.2h0M763.5 2249.6h0M764.3 2259.6h0M765.1 2268.8h0M766 2262.5h0M766.8 2287.5h0M767.6 2252.3h0M768.4 2277.4h0M769.2 2284.6h0M770 2273.5h0M770.9 2256.4h0M771.7 2265h0M772.5 2267h0M773.3 2272h0M774.1 2287.5h0M774.9 2283.6h0M775.8 2252.8h0M776.6 2303.3h0M777.4 2248.6h0M778.2 2261.4h0M779 2243.2h0M779.8 2282.9h0M780.7 2262.4h0M781.5 2285.2h0M782.3 2254h0M783.1 2271.1h0M783.9 2296.4h0M784.7 2263.5h0M785.6 2290h0M786.4 2270.2h0M787.2 2266.8h0M788 2243.5h0M788.8 2267.6h0M789.6 2304.1h0M790.5 2266.4h0M791.3 2275.4h0M792.1 2293.3h0M792.9 2252.2h0M793.7 2263.3h0M794.5 2266.2h0M795.4 2251h0M796.2 2271.5h0M797 2289.4h0M797.8 2275h0M798.6 2261h0M799.4 2266.2h0M800.3 2228.9h0M801.1 2275.4h0M801.9 2245.1h0M802.7 2301.5h0M803.5 2248.5h0M804.3 2290.2h0M805.2 2259.4h0M806 2260.7h0M806.8 2235.6h0M807.6 2285.1h0M808.4 2278.9h0M809.2 2291.5h0M810.1 2247.5h0M810.9 2228.7h0M811.7 2287.1h0M812.5 2205.4h0M813.3 2239.3h0M814.1 2284h0M815 2258.9h0M815.8 2228.4h0M816.6 2252.3h0M817.4 2306.3h0M818.2 2247.4h0M819 2239.5h0M819.9 2282.6h0M820.7 2240.5h0M821.5 2259.3h0M822.3 2284.8h0M823.1 2212.1h0M823.9 2232.9h0M824.8 2271h0M825.6 2248.7h0M826.4 2295.7h0M827.2 2245.2h0M828 2254.2h0M828.9 2217h0M829.7 2204.5h0M830.5 2289.1h0M831.3 2237.3h0M832.1 2261.9h0M832.9 2246.1h0M833.8 2313.9h0M834.6 2213.1h0M835.4 2270.7h0M836.2 2257.7h0M837 2229.3h0M837.8 2249.8h0M838.7 2276.3h0M839.5 2343.5h0M840.3 2298.9h0M841.1 2285.1h0M841.9 2277.5h0M842.7 2237.1h0M843.6 2240.2h0M844.4 2283.1h0M845.2 2234.4h0M846 2303.9h0M846.8 2288.8h0M847.6 2312.6h0M848.5 2283.5h0M849.3 2252.3h0M850.1 2323.4h0M850.9 2247.2h0M851.7 2273.2h0M852.5 2265h0M853.4 2250.3h0M854.2 2271h0M855 2279.7h0M855.8 2256.1h0M856.6 2316.7h0M857.4 2267.5h0M858.3 2260.9h0M859.1 2287.6h0M859.9 2267.6h0M860.7 2273.2h0M861.5 2280.4h0M862.3 2232.9h0M863.2 2319.1h0M864 2251.4h0M864.8 2234.7h0M865.6 2285h0M866.4 2284.7h0M867.2 2282.2h0M868.1 2254.9h0M868.9 2250.6h0M869.7 2273.8h0M870.5 2268h0M871.3 2292.4h0M872.1 2266.7h0M873 2280.1h0M873.8 2265.7h0M874.6 2227.4h0M875.4 2245.7h0M876.2 2295.9h0M877 2268.9h0M877.9 2288.8h0M878.7 2259.5h0M879.5 2255.3h0M880.3 2246.3h0M881.1 2281.6h0M881.9 2287.5h0M882.8 2227.2h0M883.6 2262h0M884.4 2243.8h0M885.2 2264h0M886 2234.5h0M886.8 2237.2h0M887.7 2271.6h0M888.5 2269.6h0M889.3 2262.8h0M890.1 2294.8h0M890.9 2247h0M891.7 2266.6h0M892.6 2293.2h0M894.2 2264.1h0M895 2292.9h0M895.8 2273.1h0M896.6 2267.3h0M897.5 2255.8h0M898.3 2251.4h0M899.1 2253.1h0M899.9 2264.3h0M900.7 2274.7h0M901.5 2285.8h0M902.4 2261.6h0M903.2 2290.5h0M904 2310.9h0M904.8 2313.9h0M905.6 2284.1h0M906.4 2335h0M907.3 2303h0M908.1 2310.9h0M908.9 2339.1h0M909.7 2278.5h0M910.5 2287.6h0M911.3 2296.5h0M912.2 2304.8h0M913 2280.8h0M913.8 2313.9h0M914.6 2290.4h0M915.4 2306.9h0M916.2 2313.1h0M917.1 2291.9h0M917.9 2325.2h0M918.7 2286.9h0M919.5 2263.1h0M920.3 2316.8h0M921.2 2294.9h0M922 2270.7h0M922.8 2289h0M923.6 2297.3h0M925.2 2303h0M926.1 2271.4h0M926.9 2291h0M927.7 2280.4h0M928.5 2281.6h0M929.3 2294h0M930.1 2303.2h0M931 2280.3h0M931.8 2273.9h0M932.6 2292.6h0M933.4 2283.7h0M934.2 2240.2h0M935 2276.9h0M935.9 2270.3h0M936.7 2260.4h0M937.5 2266.4h0M938.3 2264.3h0M939.1 2329.1h0M939.9 2259.8h0M940.8 2259.1h0M941.6 2232.9h0M942.4 2263.2h0M943.2 2280.6h0M944 2254.7h0M944.8 2273.5h0M945.7 2267h0M946.5 2264h0M948.1 2251.5h0M948.9 2268.8h0M949.7 2230.2h0M950.6 2283.3h0M951.4 2255h0M952.2 2256h0M953 2276.2h0M953.8 2255.1h0M954.6 2279.2h0M955.5 2234.8h0M956.3 2275.3h0M957.1 2250.6h0M957.9 2227h0M958.7 2274.5h0M959.5 2287.3h0M960.4 2263.1h0M961.2 2283.4h0M962 2273.5h0M962.8 2248.6h0M963.6 2286.5h0M964.4 2262.1h0M965.3 2279.4h0M966.1 2265h0M966.9 2239h0M967.7 2252.2h0M968.5 2243.5h0M969.3 2265.1h0M970.2 2238.9h0M971 2281.2h0M971.8 2255.8h0M972.6 2233.6h0M973.4 2252.9h0M974.2 2235.8h0M975.1 2270h0M975.9 2257.3h0M976.7 2237.7h0M977.5 2268.2h0M978.3 2265.3h0M979.1 2257.8h0M980 2238.4h0M980.8 2241h0M981.6 2289.7h0M982.4 2227.2h0M983.2 2254h0M984 2254.1h0M984.9 2224.7h0M985.7 2232.1h0M986.5 2230.8h0M987.3 2266.7h0M988.1 2237.6h0M988.9 2260.1h0M989.8 2259.8h0M990.6 2253.2h0M991.4 2242.3h0M993 2260.6h0M993.8 2248.9h0M994.7 2240.4h0M995.5 2252.3h0M996.3 2278.6h0M997.1 2275.1h0M997.9 2250.2h0M998.7 2235.9h0M999.6 2230.2h0M1000.4 2241.7h0M1001.2 2256.8h0M1002 2255.2h0M1002.8 2269.2h0M1003.6 2278.1h0M1004.5 2256.7h0M1005.3 2270h0M1006.1 2260.5h0M1006.9 2246.9h0M1007.7 2246.6h0M1008.5 2249.5h0M1009.4 2234.4h0M1010.2 2269.4h0M1011 2276.7h0M1011.8 2268.8h0M1012.6 2257.4h0M1013.4 2264.7h0M1014.3 2264.9h0M1015.1 2259.2h0M1015.9 2250.7h0M1016.7 2258.5h0M1017.5 2258.8h0M1018.4 2272.2h0M1019.2 2275h0M1020.8 2301.1h0M1021.6 2269.6h0M1022.4 2257.8h0M1023.3 2236.9h0M1024.1 2272h0M1024.9 2278.6h0M1025.7 2252.4h0M1026.5 2256.2h0M1027.3 2284.1h0M1028.2 2273.4h0M1029 2270.2h0M1029.8 2272.7h0M1030.6 2291.2h0M1031.4 2261.6h0M1032.2 2271.3h0M1033.1 2260.4h0M1033.9 2253.4h0M1034.7 2248h0M1035.5 2260.9h0M1037.1 2259.7h0M1038.8 2263.9h0M1039.6 2260.6h0M1040.4 2266.8h0M1041.2 2264.7h0M1042 2267.1h0M1042.9 2292.4h0M1043.7 2266.3h0M1044.5 2270.3h0M1045.3 2265.1h0M1046.1 2259.8h0M1046.9 2270.6h0M1047.8 2270.3h0M1048.6 2262h0M1049.4 2277.7h0M1050.2 2263.3h0M1051 2270.8h0M1051.8 2252h0M1052.7 2267h0M1053.5 2264.2h0M1054.3 2251.8h0M1055.1 2241.4h0M1056.7 2238.6h0M1057.6 2245.6h0M1058.4 2245.9h0M1059.2 2251.8h0M1060 2280.7h0M1060.8 2257.5h0M1061.6 2240.4h0M1062.5 2273h0M1064.1 2246.1h0M1064.9 2261.4h0M1065.7 2256.9h0M1066.5 2264.5h0M1067.4 2248.8h0M1068.2 2255.7h0M1069 2252.9h0M1069.8 2248.7h0M1070.6 2255.9h0M1071.4 2272.6h0M1072.3 2248.8h0M1073.1 2245.5h0M1073.9 2249.8h0M1074.7 2264.3h0M1075.5 2253.1h0M1076.3 2223.9h0M1077.2 2219.5h0M1078 2244.3h0M1078.8 2260.9h0M1079.6 2271.7h0M1080.4 2265.7h0M1081.2 2247.7h0M1082.1 2258.4h0M1083.7 2239.6h0M1084.5 2210.3h0M1085.3 2277.1h0M1086.1 2269.5h0M1087 2260.1h0M1087.8 2269h0M1088.6 2261.4h0M1089.4 2239.3h0M1090.2 2228h0M1091 2243.5h0M1091.9 2233.9h0M1092.7 2246.6h0M1093.5 2264.1h0M1094.3 2216.1h0M1095.1 2250.5h0M1095.9 2284.7h0M1096.8 2250.8h0M1097.6 2228h0M1098.4 2256.4h0M1099.2 2244.8h0M1100 2269.9h0M1100.8 2242.4h0M1101.7 2277h0M1102.5 2269.5h0M1103.3 2305h0M1104.1 2256.8h0M1104.9 2275.6h0M1105.7 2211h0M1106.6 2223h0M1107.4 2250.3h0M1108.2 2245.2h0M1109 2238.3h0M1109.8 2254.4h0M1110.7 2253.4h0M1111.5 2264.6h0M1112.3 2216.4h0M1113.1 2261.3h0M1113.9 2258.3h0M1114.7 2240.9h0M1115.6 2231.3h0M1116.4 2259.5h0M1117.2 2246.1h0M1118 2238.4h0M1118.8 2273.9h0M1119.6 2277.7h0M1120.5 2245.2h0M1121.3 2234.7h0M1122.1 2248.3h0M1122.9 2239.1h0M1123.7 2221.2h0M1124.5 2259.7h0M1125.4 2252.2h0M1126.2 2209.6h0M1127 2236h0M1127.8 2239.4h0M1128.6 2226.1h0M1129.4 2262.7h0M1130.3 2254.4h0M1131.1 2223.9h0M1131.9 2216.3h0M1132.7 2309.6h0M1133.5 2200.5h0M1134.3 2272.5h0M1135.2 2265.8h0M1136 2271.8h0M1136.8 2243.5h0M1137.6 2260.5h0M1138.4 2261.8h0M1139.2 2301.4h0M1140.1 2275.8h0M1140.9 2241.6h0M1141.7 2280.4h0M1143.3 2303.9h0M1144.1 2258h0M1145 2272.4h0M1145.8 2261.6h0M1146.6 2274.8h0M1147.4 2285.8h0M1148.2 2288.3h0M1149 2241.7h0M1149.9 2277.1h0M1150.7 2285.1h0M1151.5 2278.8h0M1152.3 2214.7h0M1153.1 2257.7h0M1153.9 2285.5h0M1154.8 2300.2h0M1155.6 2265.9h0M1156.4 2264.6h0M1157.2 2235.2h0M1158 2251.9h0M1158.8 2259.5h0M1159.7 2304.8h0M1160.5 2211.4h0M1161.3 2289.8h0M1162.1 2288h0M1162.9 2290.8h0M1163.7 2240.2h0M1164.6 2264h0M1165.4 2257.9h0M1166.2 2281.3h0M1167 2256.7h0M1167.8 2252h0M1168.6 2254h0M1169.5 2244h0M1170.3 2293.7h0M1171.1 2252.2h0M1171.9 2256.4h0M1172.7 2306h0M1173.5 2269.9h0M1174.4 2269.1h0M1175.2 2295.1h0M1176 2273.6h0M1176.8 2286.7h0M1177.6 2274.2h0M1178.4 2233.2h0M1179.3 2262.2h0M1180.1 2290.8h0M1180.9 2277.9h0M1181.7 2311.1h0M1182.5 2276.6h0M1183.3 2278.9h0M1184.2 2271h0M1185 2273.4h0M1185.8 2317.8h0M1186.6 2264.3h0M1187.4 2241.1h0M1188.2 2256.5h0M1189.1 2239h0M1189.9 2268.4h0M1190.7 2268.2h0M1191.5 2259.3h0M1192.3 2254.4h0M1193.1 2260.1h0M1194 2229h0M1194.8 2263.2h0M1195.6 2245.1h0M1196.4 2290.6h0M1197.2 2260.4h0M1198 2263.2h0M1198.9 2245.4h0M1199.7 2257.7h0M1200.5 2279.7h0M1201.3 2235.4h0M1202.1 2269.9h0M1202.9 2266.6h0M1203.8 2279.4h0M1204.6 2260.3h0M1205.4 2266.5h0M1206.2 2265.6h0M1207 2297.6h0M1207.9 2287.7h0M1208.7 2274.3h0M1209.5 2284.9h0M1210.3 2261.6h0M1211.1 2275.7h0M1211.9 2275.7h0M1212.8 2276.3h0M1213.6 2295.4h0M1214.4 2269.4h0M1215.2 2271h0M1216 2285.1h0M1216.8 2277.9h0M1217.7 2296.8h0M1218.5 2319.4h0M1219.3 2288.9h0M1220.1 2271.5h0M1220.9 2275.8h0M1221.7 2300.2h0M1222.6 2264.8h0M1223.4 2273.1h0M1224.2 2283.7h0M1225 2283.8h0M1225.8 2271.5h0M1226.6 2320.7h0M1227.5 2299.4h0M1228.3 2303.8h0M1229.1 2275.2h0M1229.9 2269.5h0M1230.7 2291.1h0M1231.5 2280.2h0M1232.4 2280.8h0M1233.2 2280.2h0M1234 2301.7h0M1234.8 2272.8h0M1235.6 2325.4h0M1236.4 2231.8h0M1237.3 2270.9h0M1238.1 2273.7h0M1238.9 2263.5h0M1239.7 2277.9h0M1240.5 2271.7h0M1241.3 2254.5h0M1242.2 2280.4h0M1243 2307.9h0M1243.8 2260.6h0M1244.6 2267.6h0M1245.4 2264.4h0M1246.2 2280.6h0M1247.1 2256.7h0M1247.9 2276.8h0M1248.7 2277.7h0M1249.5 2285.4h0M1250.3 2296.2h0M1251.1 2266.8h0M1252.8 2288.7h0M1253.6 2298.4h0M1254.4 2277.2h0M1255.2 2251.4h0M1256 2292.5h0M1256.9 2291.6h0M1257.7 2240.6h0M1258.5 2288.3h0M1259.3 2270.7h0M1260.1 2250.7h0M1260.9 2294.8h0M1261.8 2285.8h0M1262.6 2312.8h0M1263.4 2285.3h0M1264.2 2278.8h0M1265 2294.5h0M1265.8 2315h0M1266.7 2294.8h0M1267.5 2279.7h0M1268.3 2283.7h0M1269.1 2274.7h0M1269.9 2262.8h0M1270.7 2271.9h0M1271.6 2288.6h0M1272.4 2271.5h0M1273.2 2289.1h0M1274 2267.1h0M1274.8 2283.8h0M1275.6 2259.9h0M1276.5 2233.1h0M1277.3 2289.7h0M1452.1 2290.1h0M1452.9 2271.8h0M1453.7 2365.4h0M1454.5 2273.9h0M1455.3 2308.5h0M1456.2 2348.9h0M1457 2324.7h0M1458.6 2312.9h0M1459.4 2317.9h0M1460.2 2302.1h0M1461.1 2302.1h0M1461.9 2241.5h0M1462.7 2309.5h0M1463.5 2280.4h0M1464.3 2322.5h0M1465.1 2267h0M1466 2263.8h0M1466.8 2309.7h0M1467.6 2303.8h0M1468.4 2269.5h0M1469.2 2294.8h0M1470 2288.9h0M1470.9 2310.6h0M1472.5 2270.9h0M1473.3 2329.8h0M1474.1 2343h0M1474.9 2258.8h0M1475.8 2292.1h0M1477.4 2269.6h0M1478.2 2276.2h0M1479 2267.5h0M1479.8 2346.8h0M1480.7 2329.8h0M1481.5 2279.9h0M1483.1 2331.6h0M1483.9 2340.2h0M1484.7 2332h0M1485.6 2338.7h0M1486.4 2303.9h0M1487.2 2340h0M1488 2297.9h0M1488.8 2361.9h0M1489.7 2298.7h0M1490.5 2321.1h0M1491.3 2347.4h0M1492.1 2304.6h0M1492.9 2317.1h0M1493.7 2316.4h0M1494.6 2314.1h0M1495.4 2336.2h0M1496.2 2348.4h0M1497 2305.6h0M1497.8 2348.5h0M1498.6 2303.2h0M1499.5 2312.7h0M1500.3 2277.4h0M1501.1 2286.8h0M1501.9 2334.5h0M1502.7 2296.4h0M1503.5 2303.4h0M1504.4 2264.2h0M1505.2 2330.1h0M1506 2301h0M1506.8 2294.9h0M1507.6 2346.7h0M1508.4 2314.5h0M1509.3 2314.6h0M1510.1 2292.2h0M1510.9 2343.4h0M1511.7 2302.3h0M1512.5 2332.8h0M1513.3 2329.1h0M1514.2 2292.4h0M1515 2312.4h0M1515.8 2319.5h0M1516.6 2325.3h0M1517.4 2320.8h0M1518.2 2302h0M1519.1 2321.6h0M1519.9 2332h0M1520.7 2293.6h0M1521.5 2322.2h0M1522.3 2323.6h0M1523.1 2345.6h0M1524 2321h0M1524.8 2325.7h0M1525.6 2275h0M1526.4 2302.4h0M1527.2 2288.2h0M1528 2321.3h0M1528.9 2338.9h0M1529.7 2333.7h0M1530.5 2312.5h0M1531.3 2367.7h0M1532.1 2333.4h0M1532.9 2339.5h0M1533.8 2330.3h0M1534.6 2339.1h0M1535.4 2323.1h0M1536.2 2342.8h0M1537.8 2319.6h0M1538.7 2352.6h0M1539.5 2343.1h0M1540.3 2313.5h0M1541.1 2297.7h0M1541.9 2323.2h0M1542.7 2343.6h0M1543.6 2319.9h0M1544.4 2359.7h0M1545.2 2337h0M1546 2333.1h0M1546.8 2342h0M1547.6 2343.5h0M1548.5 2333.8h0M1549.3 2337.5h0M1550.1 2339.5h0M1550.9 2333.5h0M1551.7 2372.2h0M1552.5 2353.7h0M1553.4 2348.8h0M1554.2 2362.8h0M1555 2348.3h0M1555.8 2334.8h0M1556.6 2322h0M1557.4 2329.5h0M1558.3 2362h0M1559.1 2340.7h0M1559.9 2310.8h0M1560.7 2329.9h0M1561.5 2339.7h0M1562.3 2316.5h0M1563.2 2326.2h0M1564 2328.7h0M1564.8 2356.7h0M1565.6 2329.2h0M1566.4 2324.7h0M1567.2 2304.8h0M1568.1 2342.4h0M1568.9 2350.2h0M1569.7 2329.1h0M1570.5 2321.7h0M1571.3 2330.4h0M1572.1 2323.6h0M1573 2328.3h0M1573.8 2336.7h0M1574.6 2322.7h0M1575.4 2316.2h0M1576.2 2330.8h0M1577 2304.1h0M1577.9 2305.1h0M1578.7 2339.2h0M1579.5 2299.1h0M1580.3 2295.1h0M1581.9 2309.4h0M1582.8 2304.7h0M1583.6 2328h0M1584.4 2307.1h0M1585.2 2270h0M1586 2294.3h0M1586.9 2313h0M1587.7 2270.2h0M1588.5 2319.9h0M1589.3 2311.8h0M1590.1 2298.5h0M1590.9 2300.3h0M1591.8 2274.1h0M1592.6 2301.1h0M1593.4 2303h0M1594.2 2275.7h0M1595 2300.4h0M1595.8 2324.6h0M1596.7 2322.8h0M1597.5 2305.3h0M1598.3 2296.9h0M1599.1 2302.3h0M1599.9 2285.7h0M1600.7 2298.1h0M1601.6 2302.6h0M1602.4 2282.2h0M1603.2 2284.6h0M1604 2301.8h0M1604.8 2289.3h0M1605.6 2316.5h0M1606.5 2278.7h0M1607.3 2293.3h0M1608.1 2292.8h0M1608.9 2300.7h0M1609.7 2281.4h0M1610.5 2279.3h0M1611.4 2287.4h0M1613 2284.9h0M1613.8 2301.5h0M1614.6 2280h0M1615.4 2306.5h0M1616.3 2294.2h0M1617.1 2309.6h0M1617.9 2298.5h0M1618.7 2305.6h0M1619.5 2292.8h0M1620.3 2291.5h0M1621.2 2262.8h0M1622 2309.2h0M1622.8 2313.3h0M1623.6 2282.3h0M1624.4 2305.3h0M1626.1 2301.2h0M1626.9 2280.6h0M1627.7 2292.8h0M1628.5 2299.6h0M1629.3 2288.9h0M1630.1 2303.3h0M1631.8 2284.1h0M1633.4 2278.2h0M1634.2 2284.2h0M1635 2267h0M1635.9 2282.5h0M1636.7 2287.6h0M1637.5 2310.6h0M1638.3 2285.4h0M1639.1 2297.3h0M1639.9 2293.4h0M1640.8 2283.5h0M1641.6 2278.6h0M1642.4 2323.7h0M1643.2 2285h0M1644 2278.8h0M1644.8 2265.9h0M1645.7 2288.4h0M1646.5 2289.4h0M1647.3 2293.9h0M1648.1 2271.9h0M1648.9 2270.6h0M1649.7 2264.7h0M1650.6 2283.4h0M1651.4 2278.1h0M1652.2 2281.5h0M1653 2295.2h0M1653.8 2278.1h0M1654.6 2297.2h0M1655.5 2253.8h0M1656.3 2300.1h0M1657.1 2288.7h0M1657.9 2282.5h0M1658.7 2290.5h0M1659.5 2286.4h0M1660.4 2304.4h0M1661.2 2293.6h0M1662 2324.6h0M1662.8 2267.7h0M1663.6 2288.8h0M1664.4 2291h0M1665.3 2311.9h0M1666.1 2264.2h0M1666.9 2286.8h0M1667.7 2331.8h0M1668.5 2297.7h0M1669.3 2329.2h0M1670.2 2274.3h0M1671 2298h0M1671.8 2304h0M1672.6 2286.7h0M1673.4 2284.5h0M1674.2 2287.1h0M1675.1 2309h0M1675.9 2319.5h0M1676.7 2331.9h0M1677.5 2316.3h0M1678.3 2310.9h0M1679.2 2282.2h0M1680 2361.4h0M1680.8 2350h0M1681.6 2271.7h0M1682.4 2324.1h0M1683.2 2316.8h0M1684.1 2307.9h0M1684.9 2301.8h0M1685.7 2327.5h0M1686.5 2330.1h0M1687.3 2338.8h0M1688.1 2298.7h0M1689 2305.6h0M1689.8 2330h0M1690.6 2320.1h0M1691.4 2311h0M1692.2 2313.5h0M1693 2331h0M1693.9 2301h0M1694.7 2293.1h0M1695.5 2340h0M1696.3 2331.2h0M1697.1 2306.7h0M1697.9 2324h0M1698.8 2334.5h0M1699.6 2352.5h0M1700.4 2337.1h0M1701.2 2329.9h0M1702 2309.6h0M1702.8 2327.6h0M1703.7 2302.7h0M1704.5 2330.4h0M1705.3 2362.6h0M1706.1 2309.1h0M1706.9 2340.7h0M1707.7 2352.1h0M1708.6 2285.9h0M1709.4 2330.2h0M1710.2 2306.8h0M1711 2317.5h0M1711.8 2304.8h0M1712.6 2313.9h0M1713.5 2324.6h0M1714.3 2312.2h0M1715.1 2323.2h0M1715.9 2323.4h0M1716.7 2320.5h0M1717.5 2309.8h0M1718.4 2306.2h0M1720 2344.6h0M1720.8 2287.7h0M1721.6 2351.3h0M1722.4 2326.5h0M1723.3 2338.5h0M1724.1 2311.1h0M1724.9 2336.6h0M1725.7 2312.3h0M1726.5 2296.4h0M1727.3 2305.7h0M1728.2 2292.4h0M1729 2352.7h0M1729.8 2328.1h0M1730.6 2309h0M1731.4 2305h0M1732.2 2358.3h0M1733.1 2331.7h0M1733.9 2320.1h0M1734.7 2305.2h0M1735.5 2311.8h0M1736.3 2333.2h0M1737.1 2296.6h0M1738 2316h0M1738.8 2318h0M1739.6 2301.8h0M1740.4 2335.3h0M1741.2 2310.9h0M1742 2298.9h0M1742.9 2293.5h0M1743.7 2313.1h0M1744.5 2267.8h0M1745.3 2295.3h0M1746.1 2303.2h0M1746.9 2295.5h0M1747.8 2304.2h0M1748.6 2315.1h0M1749.4 2268.4h0M1750.2 2322.8h0M1751 2301.2h0M1751.8 2308.4h0M1752.7 2322.3h0M1753.5 2321.9h0M1754.3 2302.4h0M1755.1 2289.4h0M1755.9 2307.9h0M1756.7 2268.4h0M1757.6 2322.2h0M1758.4 2286.3h0M1759.2 2308.7h0M1760 2300.7h0M1760.8 2335.8h0M1761.6 2336.4h0M1762.5 2285.3h0M1763.3 2332.6h0M1764.1 2300.6h0M1764.9 2304h0M1765.7 2320.3h0M1766.5 2300.1h0M1767.4 2315h0M1768.2 2292.1h0M1769 2307.2h0M1769.8 2331.3h0M1770.6 2310.2h0M1771.4 2353.7h0M1772.3 2341h0M1773.1 2309.3h0M1773.9 2333.3h0M1774.7 2317.2h0M1776.4 2351.2h0M1777.2 2315.3h0M1778 2276.5h0M1778.8 2359h0M1779.6 2318.7h0M1780.4 2317.2h0M1781.3 2335.6h0M1782.1 2305.9h0M1782.9 2375.2h0M1783.7 2330.5h0M1784.5 2318.5h0M1785.3 2379h0M1786.2 2379h0M1787 2347h0M1787.8 2347.9h0M1789.4 2327h0M1790.2 2292.2h0M1791.1 2364h0M1791.9 2337.2h0M1792.7 2341.2h0M1793.5 2352.4h0M1794.3 2359.7h0M1795.1 2369.9h0M1796 2344.1h0M1796.8 2324.3h0M1797.6 2353.7h0M1799.2 2351.9h0M1800 2362.5h0M1800.9 2350.7h0M1801.7 2350.5h0M1802.5 2341.8h0M1803.3 2309.1h0M1804.1 2372.2h0M1804.9 2289.4h0M1805.8 2274.6h0M1806.6 2320.1h0M1807.4 2357.5h0M1808.2 2330.8h0M1809 2343.5h0M1809.8 2268.6h0M1810.7 2326h0M1811.5 2318.7h0M1812.3 2326.7h0M1813.1 2337.8h0M1813.9 2362.9h0M1814.7 2343.6h0M1815.6 2334h0M1816.4 2348.3h0M1817.2 2307.3h0M1818 2294.4h0M1818.8 2306.2h0M1819.6 2313.2h0M1820.5 2305.7h0M1821.3 2320.4h0M1822.1 2334.3h0M1822.9 2334.2h0M1823.7 2316.8h0M1824.5 2314.7h0M1825.4 2310.2h0M1826.2 2310.7h0M1827 2322.2h0M1827.8 2298.4h0M1828.6 2313h0M1829.4 2313h0M1830.3 2367.6h0M1831.1 2314.7h0M1831.9 2302.3h0M1832.7 2321h0M1833.5 2303h0M1835.2 2367.7h0M1836 2327.9h0M1836.8 2312.4h0M1837.6 2338.4h0M1838.4 2338.9h0M1839.2 2350.4h0M1840.1 2335.3h0M1840.9 2354.9h0M1841.7 2342h0M1842.5 2334h0M1843.3 2339.6h0M1844.1 2305h0M1845 2308.9h0M1845.8 2340.5h0M1846.6 2316.4h0M1847.4 2316.8h0M1848.2 2333.7h0M1849 2352.6h0M1849.9 2330.2h0M1850.7 2316.6h0M1851.5 2320.2h0M1320.7 1763.8h0M1320 1785.6h0M1301.9 1807.7h0M1301.2 1815.2h0M1314.9 1821.5h0M1305.7 1827.7h0M1313.2 1834h0M1274.3 1833.2h0M1291.1 1835.2h0M1310.7 1840.3h0M1293.1 1842.8h0M1277.6 1846.5h0M1306.9 1849.5h0M1286.9 1850.3h0M1298.1 1852.8h0M1279.3 1856.5h0M1290.6 1857.8h0M1300.7 1859h0M1283.1 1862.8h0M1273.1 1867.1h0M1306.2 1866.6h0M1280.6 1870.3h0M1296.9 1872.8h0M1288.6 1877.8h0M1275.6 1883.6h0M1274.8 1914.9h0M1086.4 2102.2h0M1284 1848h0M1289 1853h0M1294 1848h0M1282 1858h0M1287 1865h0M1292 1862h0M1296 1866h0M1299 1845h0M1303 1838h0M1308 1832h0M1278 1852h0M1285 1856h0M1302 1854h0M1329.7 2194.4h0M1349.3 2196.1h0M1346.8 2206.1h0M1347.8 2217.1h0M1328.2 2223.1h0M1349.8 2228.6h0M1330.7 2229.1h0M1345.3 2233.2h0M1347.8 2242.2h0M1331.2 2247.7h0M1350.8 2248.2h0M1353.3 2255.2h0M1332.2 2258.2h0M1356.3 2261.2h0M1339.2 2266.2h0M1335.2 2277.3h0M1353.3 2275.3h0M1336.2 2284.3h0M1355.3 2284.8h0M1341.3 2290.8h0M1340.3 2253.2h0M1344.3 2240.2h0" stroke="#00f" stroke-width="12.5" stroke-linecap="round" fill="none"/>
<path d="M258.8 2272.5 L261.3 2273.6 L263.7 2274.9 L266.2 2276.3 L268.6 2277.9 L271.1 2279.5 L273.6 2281.3 L276 2283.1 L278.5 2285.1 L280.9 2287 L283.4 2289 L285.9 2291 L288.3 2293 L290.8 2294.9 L293.2 2296.8 L295.7 2298.5 L298.2 2300.2 L300.6 2301.7 L303.1 2303.1 L305.5 2304.3 L308 2305.3 L310.5 2306.1 L312.9 2306.6 L315.4 2306.9 L317.8 2307 L320.3 2306.8 L322.8 2306.3 L325.2 2305.5 L327.7 2304.5 L330.1 2303.1 L332.6 2301.5 L335.1 2299.7 L337.5 2297.5 L340 2295.1 L342.4 2292.5 L344.9 2289.7 L347.4 2286.6 L349.8 2283.4 L352.3 2280 L354.7 2276.5 L357.2 2272.9 L359.7 2269.1 L362.1 2265.4 L364.6 2261.6 L367 2257.8 L369.5 2254 L372 2250.3 L374.4 2246.7 L376.9 2243.2 L379.3 2239.8 L381.8 2236.6 L384.3 2233.6 L386.7 2230.8 L389.2 2228.3 L391.6 2226 L394.1 2224 L396.6 2222.2 L399 2220.8 L401.5 2219.7 L403.9 2218.9 L406.4 2218.4 L408.9 2218.2 L411.3 2218.3 L413.8 2218.8 L416.2 2219.6 L418.7 2220.6 L421.2 2222 L423.6 2223.6 L426.1 2225.4 L428.5 2227.5 L431 2229.8 L433.5 2232.3 L435.9 2235 L438.4 2237.8 L440.8 2240.7 L443.3 2243.7 L445.8 2246.8 L448.2 2249.9 L450.7 2253 L453.1 2256.1 L455.6 2259.2 L458.1 2262.1 L460.5 2265.1 L463 2267.8 L465.4 2270.5 L467.9 2273 L470.4 2275.4 L472.8 2277.6 L475.3 2279.6 L477.7 2281.4 L480.2 2283 L482.7 2284.4 L485.1 2285.6 L487.6 2286.5 L490 2287.3 L492.5 2287.9 L495 2288.3 L497.4 2288.5 L499.9 2288.5 L502.3 2288.4 L504.8 2288.2 L507.3 2287.8 L509.7 2287.4 L512.2 2286.8 L514.6 2286.2 L517.1 2285.6 L519.6 2284.9 L522 2284.2 L524.5 2283.6 L526.9 2283 L529.4 2282.4 L531.9 2281.9 L534.3 2281.5 L536.8 2281.3 L539.2 2281.1 L541.7 2281.1 L544.2 2281.2 L546.6 2281.5 L549.1 2281.9 L551.5 2282.5 L554 2283.3 L554 2249.4 L556.5 2250.3 L558.9 2251.4 L561.4 2252.6 L563.8 2254 L566.3 2255.5 L568.7 2257.1 L571.2 2258.9 L573.6 2260.7 L576.1 2262.6 L578.5 2264.5 L581 2266.5 L583.4 2268.5 L585.9 2270.5 L588.3 2272.4 L590.8 2274.3 L593.3 2276.1 L595.7 2277.8 L598.2 2279.4 L600.6 2280.8 L603.1 2282 L605.5 2283.1 L608 2283.9 L610.4 2284.6 L612.9 2285 L615.3 2285.1 L617.8 2285 L620.2 2284.6 L622.7 2283.9 L625.1 2283 L627.6 2281.7 L630 2280.3 L632.5 2278.5 L635 2276.4 L637.4 2274.2 L639.9 2271.6 L642.3 2268.9 L644.8 2265.9 L647.2 2262.8 L649.7 2259.4 L652.1 2256 L654.6 2252.4 L657 2248.7 L659.5 2245 L661.9 2241.2 L664.4 2237.4 L666.8 2233.6 L669.3 2229.9 L671.7 2226.2 L674.2 2222.7 L676.7 2219.3 L679.1 2216 L681.6 2212.9 L684 2210.1 L686.5 2207.4 L688.9 2205 L691.4 2202.9 L693.8 2201 L696.3 2199.5 L698.7 2198.2 L701.2 2197.3 L703.6 2196.7 L706.1 2196.3 L708.5 2196.3 L711 2196.7 L713.4 2197.3 L715.9 2198.2 L718.4 2199.4 L720.8 2200.9 L723.3 2202.6 L725.7 2204.6 L728.2 2206.8 L730.6 2209.2 L733.1 2211.8 L735.5 2214.5 L738 2217.4 L740.4 2220.3 L742.9 2223.4 L745.3 2226.4 L747.8 2229.6 L750.2 2232.7 L752.7 2235.7 L755.1 2238.7 L757.6 2241.7 L760.1 2244.5 L762.5 2247.3 L765 2249.8 L767.4 2252.3 L769.9 2254.6 L772.3 2256.6 L774.8 2258.5 L777.2 2260.2 L779.7 2261.7 L782.1 2263 L784.6 2264.1 L787 2265 L789.5 2265.7 L791.9 2266.2 L794.4 2266.5 L796.8 2266.6 L799.3 2266.6 L801.8 2266.5 L804.2 2266.2 L806.7 2265.8 L809.1 2265.3 L811.6 2264.7 L814 2264.1 L816.5 2263.4 L818.9 2262.7 L821.4 2262.1 L823.8 2261.4 L826.3 2260.8 L828.7 2260.3 L831.2 2259.9 L833.6 2259.5 L836.1 2259.3 L838.5 2259.2 L841 2259.2 L843.5 2259.4 L845.9 2259.8 L848.4 2260.2 L850.8 2260.9 L853.3 2261.7 L855.7 2262.7 L858.2 2263.8 L860.6 2265.1 L863.1 2266.6 L865.5 2268.1 L868 2269.8 L870.4 2271.5 L872.9 2273.4 L875.3 2275.3 L877.8 2277.3 L880.2 2279.2 L882.7 2281.2 L885.2 2283.2 L887.6 2285.1 L890.1 2287 L892.5 2288.7 L895 2290.4 L897.4 2291.9 L899.9 2293.3 L902.3 2294.4 L904.8 2295.4 L907.2 2296.2 L909.7 2296.7 L912.1 2297 L914.6 2297.1 L917 2296.8 L919.5 2296.3 L922 2295.6 L924.4 2294.5 L926.9 2293.2 L929.3 2291.6 L931.8 2289.7 L934.2 2287.6 L936.7 2285.2 L939.1 2282.6 L941.6 2279.8 L944 2276.7 L946.5 2273.5 L948.9 2270.1 L951.4 2266.6 L953.8 2263 L956.3 2259.3 L958.7 2255.5 L961.2 2251.8 L963.7 2248 L966.1 2244.2 L968.6 2240.5 L971 2236.9 L973.5 2233.4 L975.9 2230 L978.4 2226.8 L980.8 2223.8 L983.3 2221 L985.7 2218.5 L988.2 2216.2 L990.6 2214.2 L993.1 2212.4 L995.5 2211 L998 2209.8 L1000.4 2209 L1002.9 2208.5 L1005.4 2208.3 L1007.8 2208.4 L1010.3 2208.8 L1012.7 2209.6 L1015.2 2210.6 L1017.6 2211.9 L1020.1 2213.5 L1022.5 2215.3 L1025 2217.4 L1027.4 2219.7 L1029.9 2222.2 L1032.3 2224.8 L1034.8 2227.6 L1037.2 2230.5 L1039.7 2233.5 L1042.1 2236.5 L1044.6 2239.6 L1047.1 2242.7 L1049.5 2245.8 L1052 2248.9 L1054.4 2251.8 L1056.9 2254.8 L1059.3 2257.6 L1061.8 2260.2 L1064.2 2262.8 L1066.7 2265.1 L1069.1 2267.3 L1071.6 2269.4 L1074 2271.2 L1076.5 2272.8 L1078.9 2274.2 L1081.4 2275.5 L1083.8 2276.5 L1086.3 2277.3 L1088.8 2277.9 L1091.2 2278.3 L1093.7 2278.6 L1096.1 2278.6 L1098.6 2278.6 L1101 2278.3 L1103.5 2278 L1105.9 2277.6 L1108.4 2277 L1110.8 2276.4 L1113.3 2275.8 L1115.7 2275.1 L1118.2 2274.5 L1120.6 2273.8 L1123.1 2273.2 L1125.5 2272.6 L1128 2272.1 L1130.5 2271.7 L1132.9 2271.4 L1135.4 2271.2 L1137.8 2271.2 L1140.3 2271.3 L1142.7 2271.5 L1145.2 2271.9 L1147.6 2272.5 L1150.1 2273.2 L1152.5 2274.1 L1155 2275.1 L1157.4 2276.3 L1159.9 2277.6 L1162.3 2279.1 L1164.8 2280.7 L1167.2 2282.4 L1169.7 2284.2 L1172.2 2286.1 L1174.6 2288 L1177.1 2290 L1179.5 2292 L1182 2294 L1184.4 2295.9 L1186.9 2297.8 L1189.3 2299.6 L1191.8 2301.4 L1194.2 2303 L1196.7 2304.4 L1199.1 2305.7 L1201.6 2306.8 L1204 2307.7 L1206.5 2308.4 L1208.9 2308.9 L1211.4 2309.1 L1213.9 2309 L1216.3 2308.7 L1218.8 2308.1 L1221.2 2307.2 L1223.7 2306 L1226.1 2304.6 L1228.6 2302.9 L1231 2300.9 L1233.5 2298.7 L1235.9 2296.3 L1238.4 2293.6 L1240.8 2290.6 L1243.3 2287.5 L1245.7 2284.3 L1248.2 2280.8 L1250.7 2277.3 L1253.1 2273.6 L1255.6 2269.9 L1258 2266.1 L1260.5 2262.3 L1262.9 2258.5 L1265.4 2254.8 L1267.8 2251.1 L1270.3 2247.5 L1272.7 2244.1 L1275.2 2240.8 L1277.6 2237.7 L1280.1 2234.7 L1282.5 2232 L1285 2229.6 L1287.4 2227.4 L1289.9 2225.4 L1292.4 2223.8 L1294.8 2222.5 L1297.3 2221.5 L1299.7 2220.8 L1302.2 2220.4 L1304.6 2220.3 L1307.1 2220.5 L1309.5 2221.1 L1312 2221.9 L1314.4 2223.1 L1316.9 2224.5 L1319.3 2226.2 L1321.8 2228.1 L1324.2 2230.2 L1326.7 2232.6 L1329.1 2235.1 L1331.6 2237.8 L1334.1 2240.6 L1336.5 2243.6 L1339 2246.6 L1341.4 2249.7 L1343.9 2252.8 L1346.3 2255.9 L1348.8 2258.9 L1351.2 2262 L1353.7 2264.9 L1356.1 2267.8 L1358.6 2270.6 L1361 2273.2 L1363.5 2275.7 L1365.9 2278 L1368.4 2280.1 L1370.8 2282.1 L1373.3 2283.8 L1375.8 2285.4 L1378.2 2286.7 L1380.7 2287.9 L1383.1 2288.8 L1385.6 2289.5 L1388 2290.1 L1390.5 2290.4 L1392.9 2290.6 L1395.4 2290.6 L1397.8 2290.5 L1400.3 2290.2 L1402.7 2289.8 L1405.2 2289.4 L1407.6 2288.8 L1410.1 2288.2 L1412.5 2287.5 L1415 2286.9 L1417.5 2286.2 L1419.9 2285.5 L1422.4 2284.9 L1424.8 2284.4 L1427.3 2283.9 L1429.7 2283.6 L1432.2 2283.3 L1434.6 2283.2 L1437.1 2283.2 L1439.5 2283.3 L1442 2283.6 L1444.4 2284.1 L1446.9 2284.7 L1449.3 2285.5 L1451.8 2286.4 L1454.2 2287.5 L1456.7 2288.8 L1459.2 2290.2 L1461.6 2291.7 L1464.1 2293.3 L1466.5 2295.1 L1469 2296.9 L1471.4 2298.8 L1473.9 2300.7 L1476.3 2302.7 L1478.8 2304.7 L1481.2 2306.7 L1483.7 2308.6 L1486.1 2310.5 L1488.6 2312.3 L1491 2314 L1493.5 2315.5 L1495.9 2316.9 L1498.4 2318.1 L1500.9 2319.2 L1503.3 2320 L1505.8 2320.6 L1508.2 2320.9 L1510.7 2321.1 L1513.1 2320.9 L1515.6 2320.5 L1518 2319.8 L1520.5 2318.8 L1522.9 2317.5 L1525.4 2316 L1527.8 2314.2 L1530.3 2312.1 L1532.7 2309.8 L1535.2 2307.2 L1537.7 2304.5 L1540.1 2301.5 L1542.6 2298.3 L1545 2295 L1547.5 2291.5 L1549.9 2287.9 L1552.4 2284.2 L1554.8 2280.4 L1557.3 2276.7 L1559.7 2272.9 L1562.2 2269.1 L1564.6 2265.4 L1567.1 2261.7 L1569.5 2258.2 L1572 2254.8 L1574.4 2251.6 L1576.9 2248.5 L1579.4 2245.7 L1581.8 2243.1 L1584.3 2240.7 L1586.7 2238.6 L1589.2 2236.8 L1591.6 2235.3 L1594.1 2234 L1596.5 2233.1 L1599 2232.6 L1601.4 2232.3 L1603.9 2232.3 L1606.3 2232.7 L1608.8 2233.3 L1611.2 2234.3 L1613.7 2235.6 L1616.1 2237.1 L1618.6 2238.8 L1621.1 2240.9 L1623.5 2243.1 L1626 2245.5 L1628.4 2248.1 L1630.9 2250.9 L1633.3 2253.7 L1635.8 2256.7 L1638.2 2259.7 L1640.7 2262.8 L1643.1 2265.9 L1645.6 2269 L1648 2272.1 L1650.5 2275.1 L1652.9 2278 L1655.4 2280.8 L1657.8 2283.6 L1660.3 2286.1 L1662.8 2288.5 L1665.2 2290.8 L1667.7 2292.9 L1670.1 2294.7 L1672.6 2296.4 L1675 2297.9 L1677.5 2299.2 L1679.9 2300.2 L1682.4 2301.1 L1684.8 2301.7 L1687.3 2302.2 L1689.7 2302.5 L1692.2 2302.6 L1694.6 2302.6 L1697.1 2302.4 L1699.5 2302.1 L1702 2301.6 L1704.5 2301.1 L1706.9 2300.6 L1709.4 2299.9 L1711.8 2299.3 L1714.3 2298.6 L1716.7 2297.9 L1719.2 2297.3 L1721.6 2296.7 L1724.1 2296.2 L1726.5 2295.8 L1729 2295.4 L1731.4 2295.2 L1733.9 2295.1 L1736.3 2295.2 L1738.8 2295.4 L1741.2 2295.8 L1743.7 2296.3 L1746.2 2297 L1748.6 2297.8 L1751.1 2298.8 L1753.5 2300 L1756 2301.3 L1758.4 2302.7 L1760.9 2304.3 L1763.3 2306 L1765.8 2307.7 L1768.2 2309.6 L1770.7 2311.5 L1773.1 2313.5 L1775.6 2315.5 L1778 2317.4 L1780.5 2319.4 L1782.9 2321.3 L1785.4 2323.2 L1787.9 2324.9 L1790.3 2326.5 L1792.8 2328 L1795.2 2329.4 L1797.7 2330.5 L1800.1 2331.5 L1802.6 2332.2 L1805 2332.7 L1807.5 2333 L1809.9 2333 L1812.4 2332.8 L1814.8 2332.2 L1817.3 2331.4 L1819.7 2330.3 L1822.2 2329 L1824.6 2327.3 L1827.1 2325.4 L1829.6 2323.3 L1832 2320.9 L1834.5 2318.2 L1836.9 2315.3 L1839.4 2312.3 L1841.8 2309 L1844.3 2305.7 L1846.7 2302.1 L1849.2 2298.5 L1851.6 2294.8" stroke="#f00" stroke-width="7.2" stroke-linejoin="miter" fill="none"/>
</g>
<text class="b" font-size="35.5" text-anchor="end" transform="translate(1817.2 1790.9) scale(1 1.04)">-2.473+/- 1.437 mm/yr</text>
<text class="b" font-size="56.8" text-anchor="middle" transform="translate(1054.8 102) scale(1 1.05)" xml:space="preserve" style="white-space:pre">PAPA  - IGS20 - Cleaned</text>
<text font-size="42.7" text-anchor="middle" transform="translate(1054 2514.1) scale(1 1.04)">Time (year)</text>
<rect x="226" y="2618.6" width="1657.5" height="152" fill="#fff" stroke="#000" stroke-width="5.8"/>
<text class="b" font-size="35.5" text-anchor="middle" transform="translate(1054.8 2667) scale(1 1.04)">24 Hour Positions Using Final Orbits (blue) and Rapid Orbits (magenta).</text>
<text class="b" font-size="35.5" text-anchor="middle" transform="translate(1054.8 2707.6) scale(1 1.04)">Processed by the Nevada Geodetic Laboratory.</text>
<text class="b" font-size="35.5" text-anchor="middle" transform="translate(1054.8 2748.2) scale(1 1.04)">Plotted on 2026-Jan-26. Last data on 2025-May-05.</text>
</svg></body></html>
